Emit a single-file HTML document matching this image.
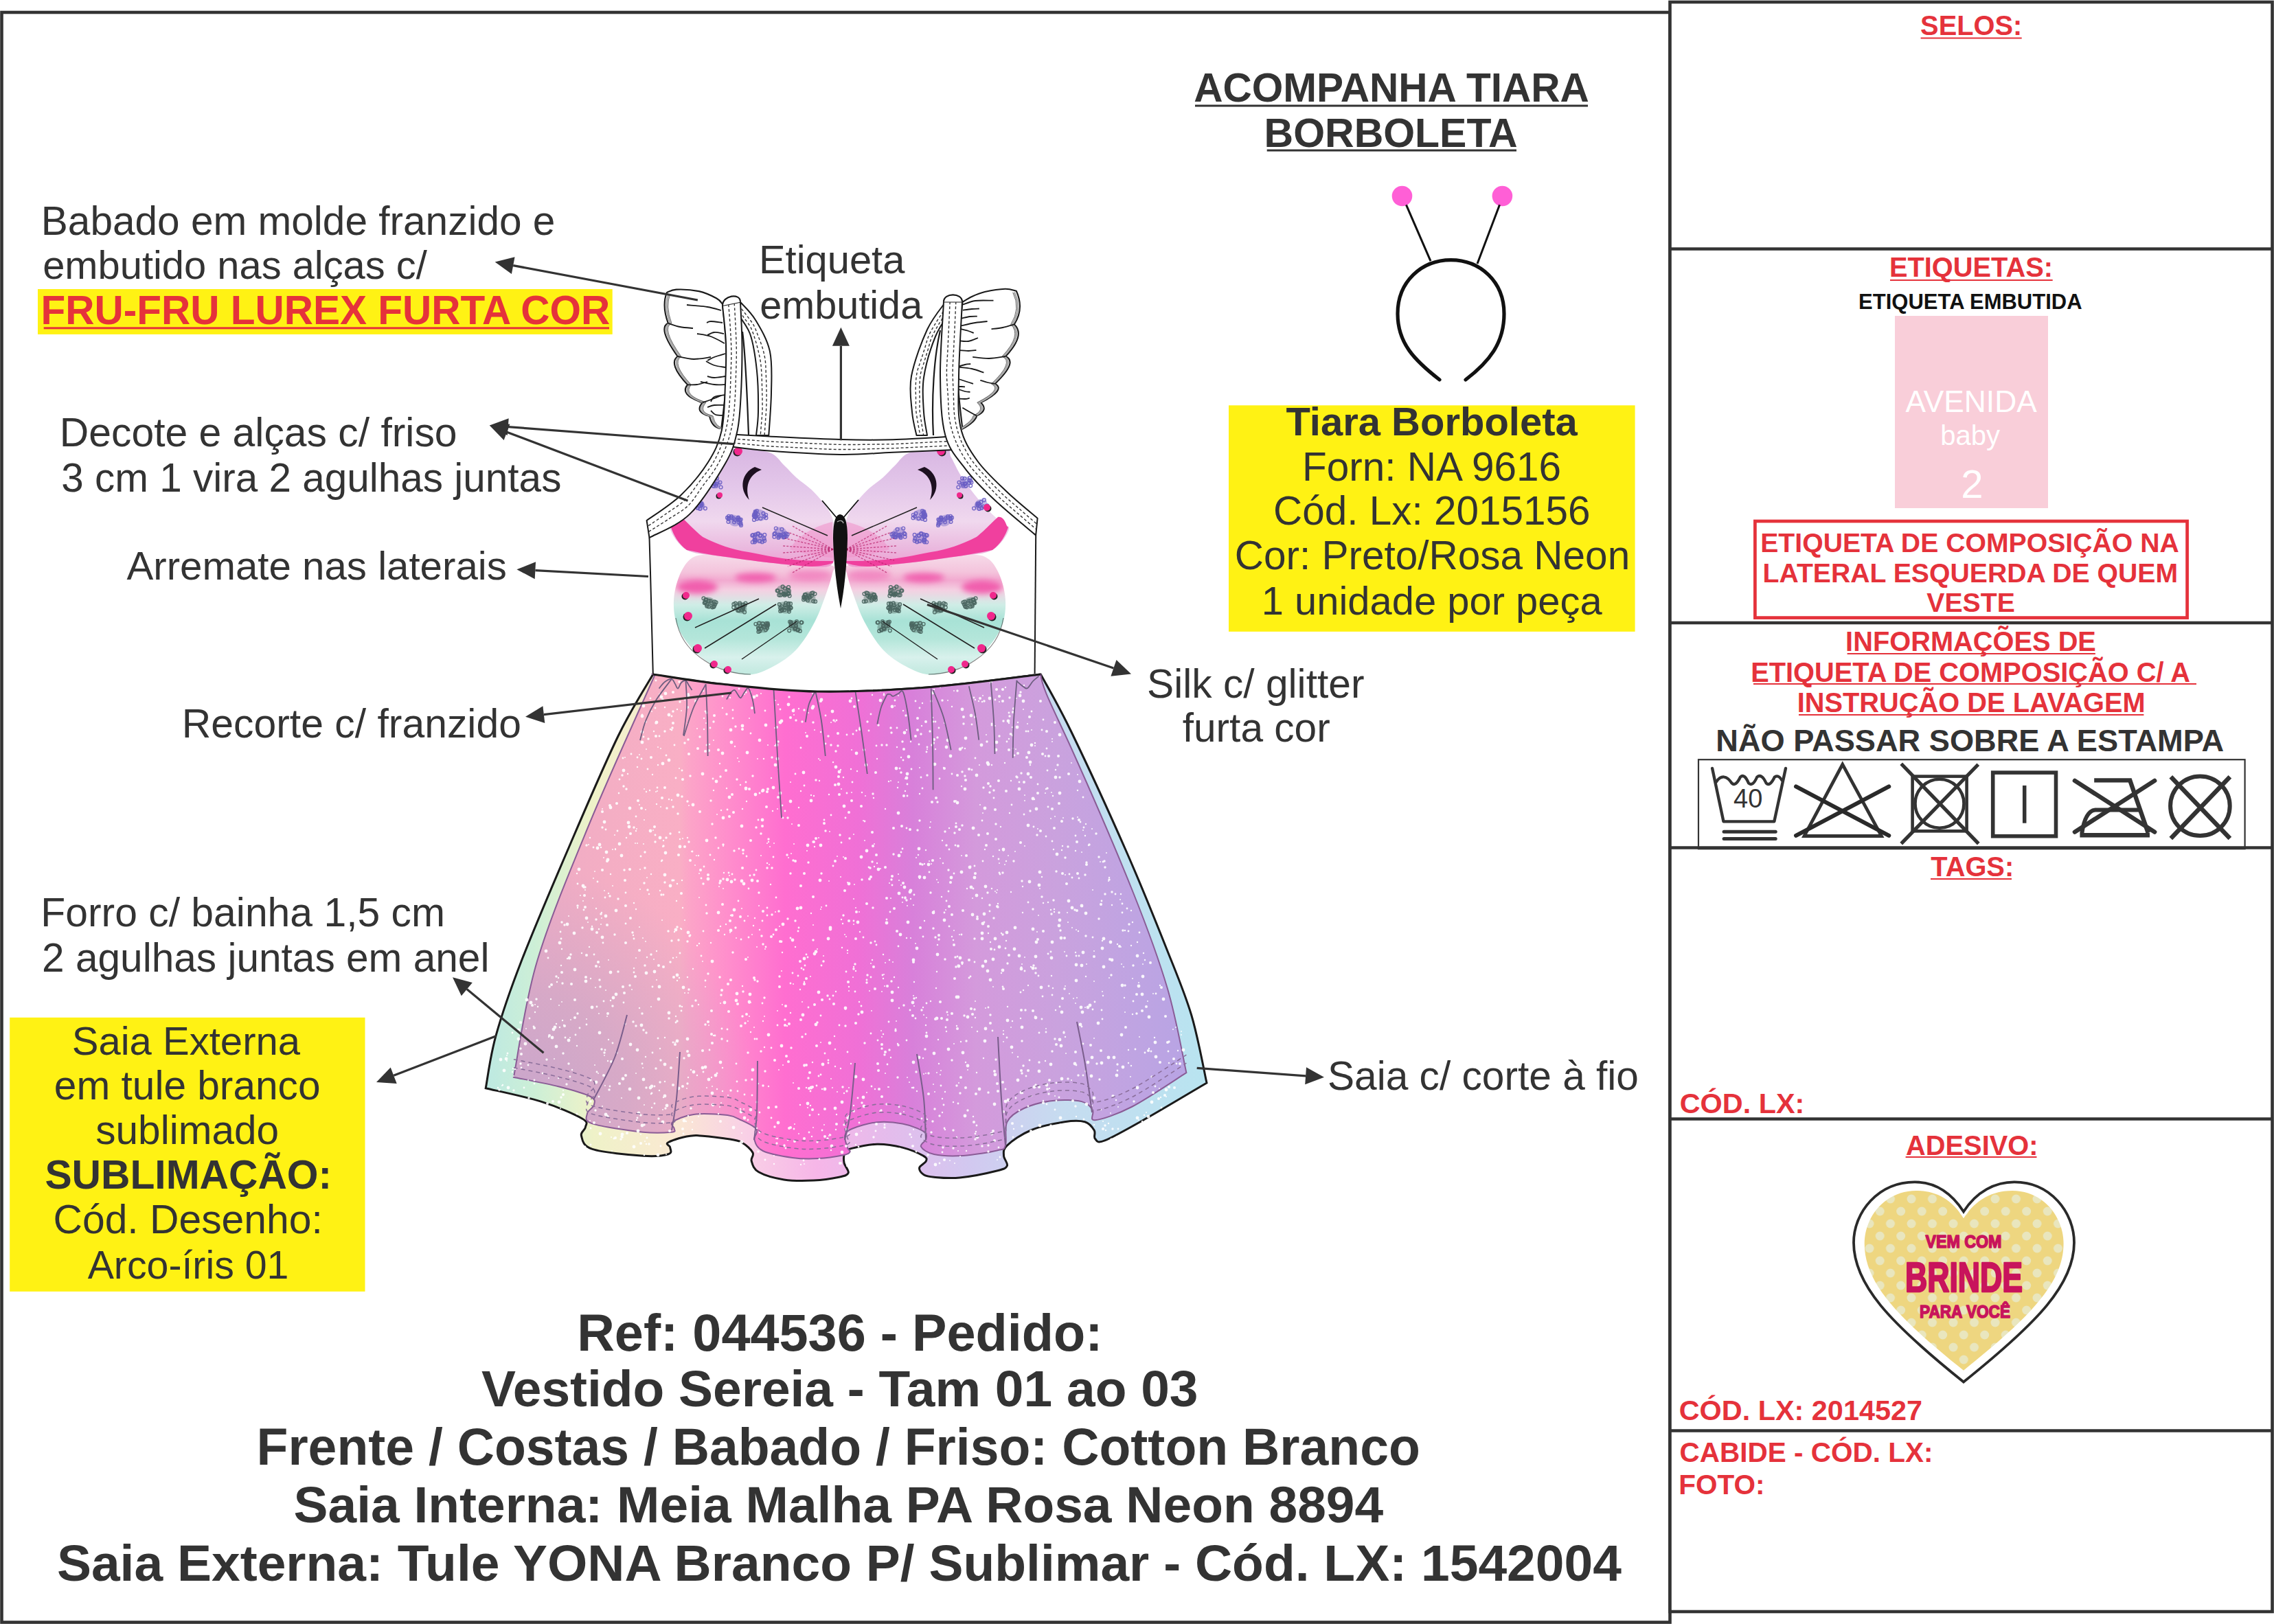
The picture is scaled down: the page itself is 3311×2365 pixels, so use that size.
<!DOCTYPE html>
<html><head><meta charset="utf-8"><style>
html,body{margin:0;padding:0;background:#fff;width:3311px;height:2365px;overflow:hidden;position:relative}
.t{position:absolute;white-space:nowrap;font-family:"Liberation Sans",sans-serif}
svg{position:absolute;left:0;top:0}
</style></head><body>
<svg width="3311" height="2365" viewBox="0 0 3311 2365">
<rect x="55" y="421" width="836.7" height="65.9" fill="#FFF214"/>
<rect x="14.2" y="1481.8" width="517.3" height="399" fill="#FFF214"/>
<rect x="1789" y="590.3" width="591.6" height="329.5" fill="#FFF214"/>
<defs>
<filter id="blur4" x="-50%" y="-50%" width="200%" height="200%"><feGaussianBlur stdDeviation="4"/></filter>
<linearGradient id="gOut" gradientUnits="userSpaceOnUse" x1="707" y1="0" x2="1757" y2="0">
<stop offset="0" stop-color="#BDE9E2"/><stop offset="0.07" stop-color="#CDEFD6"/><stop offset="0.15" stop-color="#EFF2C8"/>
<stop offset="0.26" stop-color="#FAE9D2"/><stop offset="0.36" stop-color="#F9D0E6"/><stop offset="0.46" stop-color="#F6B6E8"/>
<stop offset="0.56" stop-color="#E4BCEC"/><stop offset="0.67" stop-color="#D2C8F0"/><stop offset="0.80" stop-color="#C6DCF0"/>
<stop offset="1" stop-color="#B8E4F0"/></linearGradient>
<linearGradient id="gIn" gradientUnits="userSpaceOnUse" x1="748" y1="0" x2="1728" y2="0"><stop offset="0.000" stop-color="#EEA8C6"/><stop offset="0.069" stop-color="#F0ACC4"/><stop offset="0.141" stop-color="#F4AEC4"/><stop offset="0.246" stop-color="#F9AFC5"/><stop offset="0.262" stop-color="#FCA4C8"/><stop offset="0.318" stop-color="#FF8ECC"/><stop offset="0.403" stop-color="#FF6ED0"/><stop offset="0.512" stop-color="#F070D6"/><stop offset="0.593" stop-color="#D880DA"/><stop offset="0.686" stop-color="#D49ADC"/><stop offset="0.807" stop-color="#CAA2DE"/><stop offset="0.921" stop-color="#BFA4E2"/><stop offset="1.000" stop-color="#B8A4E4"/></linearGradient><radialGradient id="gMauve" gradientUnits="userSpaceOnUse" cx="760" cy="1600" r="340"><stop offset="0" stop-color="#C8A6CC" stop-opacity="0.95"/><stop offset="0.45" stop-color="#CEA8C8" stop-opacity="0.75"/><stop offset="1" stop-color="#D0A8C8" stop-opacity="0"/></radialGradient>
<linearGradient id="gUW" gradientUnits="userSpaceOnUse" x1="0" y1="652" x2="0" y2="825">
<stop offset="0" stop-color="#D8B6E2"/><stop offset="0.35" stop-color="#E4C8EA"/><stop offset="0.62" stop-color="#F0D8EE"/><stop offset="0.85" stop-color="#EAB8DE"/><stop offset="1" stop-color="#F09AD0"/></linearGradient>
<linearGradient id="gLW" gradientUnits="userSpaceOnUse" x1="0" y1="806" x2="0" y2="984"><stop offset="0" stop-color="#F6DCEA"/><stop offset="0.15" stop-color="#F4C4DC"/><stop offset="0.22" stop-color="#F2AAD0"/><stop offset="0.3" stop-color="#F4D0E2"/><stop offset="0.42" stop-color="#CFEDE6"/><stop offset="0.55" stop-color="#A8E2D6"/><stop offset="0.7" stop-color="#B4E6DA"/><stop offset="0.85" stop-color="#D8F1EC"/><stop offset="1" stop-color="#BFE8DE"/></linearGradient>
</defs>
<path d="M950.8,982.0 C967.3,984.3 1010.1,991.8 1050.0,996.0 C1089.9,1000.2 1140.0,1006.2 1190.0,1007.0 C1240.0,1007.8 1295.8,1005.2 1350.0,1001.0 C1404.2,996.8 1487.8,985.2 1515.3,982.0 C1522.8,996.0 1539.2,1023.0 1560.0,1066.0 C1580.8,1109.0 1617.0,1187.7 1640.0,1240.0 C1663.0,1292.3 1682.1,1340.2 1697.9,1380.0 C1713.7,1419.8 1725.0,1445.7 1734.8,1478.5 C1744.6,1511.3 1753.3,1560.6 1757.0,1577.0 C1743.0,1585.2 1697.9,1612.3 1673.3,1626.3 C1648.7,1640.2 1622.3,1655.4 1609.2,1660.7 C1596.1,1666.0 1597.2,1660.8 1594.5,1658.3 C1591.8,1655.8 1595.7,1650.1 1593.2,1646.0 C1590.7,1641.9 1586.9,1635.8 1579.7,1633.7 C1572.5,1631.7 1563.1,1631.7 1550.0,1633.7 C1536.9,1635.8 1514.8,1640.3 1500.9,1646.0 C1487.0,1651.7 1473.0,1661.9 1466.4,1668.1 C1459.8,1674.2 1461.5,1678.0 1461.5,1682.9 C1461.5,1687.8 1468.1,1694.0 1466.4,1697.7 C1464.8,1701.4 1463.1,1702.1 1451.6,1705.0 C1440.1,1707.9 1412.8,1713.5 1397.5,1715.0 C1382.2,1716.5 1368.8,1715.0 1360.0,1714.2 C1351.2,1713.5 1348.3,1712.8 1344.7,1710.5 C1341.1,1708.2 1338.0,1704.0 1338.6,1700.7 C1339.2,1697.4 1347.4,1693.7 1348.4,1690.8 C1349.4,1687.9 1350.4,1686.7 1344.7,1683.4 C1339.0,1680.1 1325.3,1674.0 1314.0,1671.1 C1302.7,1668.2 1289.3,1666.0 1277.0,1666.2 C1264.7,1666.4 1247.9,1670.4 1240.1,1672.4 C1232.3,1674.5 1232.0,1675.0 1230.2,1678.5 C1228.4,1682.0 1228.2,1688.4 1229.0,1693.3 C1229.8,1698.2 1236.4,1704.5 1235.2,1708.0 C1234.0,1711.5 1230.0,1712.4 1221.6,1714.2 C1213.2,1716.0 1198.0,1718.5 1184.7,1719.1 C1171.4,1719.7 1154.9,1720.0 1141.6,1717.9 C1128.2,1715.9 1112.5,1711.3 1104.6,1706.8 C1096.7,1702.3 1095.6,1695.5 1094.2,1690.8 C1092.8,1686.1 1098.4,1683.0 1096.0,1678.5 C1093.6,1674.0 1086.1,1667.0 1080.0,1663.7 C1073.9,1660.4 1071.1,1660.3 1059.4,1658.6 C1047.7,1656.9 1024.4,1652.9 1010.0,1653.7 C995.6,1654.5 978.9,1660.6 973.2,1663.5 C967.5,1666.4 975.7,1668.0 975.7,1670.9 C975.7,1673.8 979.8,1678.7 973.2,1680.7 C966.6,1682.8 954.8,1684.4 936.3,1683.2 C917.8,1682.0 877.4,1678.3 862.4,1673.4 C847.4,1668.5 848.0,1659.1 846.4,1653.7 C844.8,1648.3 852.3,1645.4 852.5,1641.3 C852.7,1637.2 858.3,1635.2 847.6,1629.0 C836.9,1622.8 811.9,1611.8 788.5,1604.4 C765.1,1597.0 720.8,1588.0 707.2,1584.7 C709.7,1572.0 713.4,1539.2 722.0,1508.4 C730.6,1477.6 741.0,1446.4 759.0,1400.0 C777.0,1353.6 806.5,1284.7 830.0,1230.0 C853.5,1175.3 879.9,1113.3 900.0,1072.0 C920.1,1030.7 942.3,997.0 950.8,982.0 Z" fill="url(#gOut)" stroke="#1a1a1a" stroke-width="3"/>
<clipPath id="clipIn"><path d="M950.8,982.0 C967.3,984.3 1010.1,991.8 1050.0,996.0 C1089.9,1000.2 1140.0,1006.2 1190.0,1007.0 C1240.0,1007.8 1295.8,1005.2 1350.0,1001.0 C1404.2,996.8 1487.8,985.2 1515.3,982.0 C1516.7,1001.7 1536.3,1037.3 1560.0,1090.0 C1583.7,1142.7 1626.7,1241.7 1650.0,1300.0 C1673.3,1358.3 1687.1,1396.3 1700.0,1440.0 C1712.9,1483.7 1722.8,1541.8 1727.4,1562.2 C1714.3,1570.4 1670.8,1600.0 1648.6,1611.5 C1626.4,1623.0 1604.1,1630.4 1594.5,1631.2 C1584.9,1632.0 1594.1,1620.9 1590.8,1616.4 C1587.5,1611.9 1584.4,1606.3 1574.8,1604.1 C1565.2,1601.8 1546.9,1601.2 1532.9,1602.9 C1518.9,1604.6 1502.1,1608.9 1491.0,1614.0 C1479.9,1619.1 1470.9,1624.7 1466.4,1633.7 C1461.9,1642.7 1466.5,1661.1 1464.0,1668.1 C1461.5,1675.1 1461.9,1673.0 1451.6,1675.5 C1441.3,1678.0 1417.7,1682.0 1402.4,1682.9 C1387.1,1683.8 1370.2,1683.2 1360.0,1681.0 C1349.8,1678.8 1342.9,1673.6 1341.0,1669.9 C1339.1,1666.2 1347.8,1662.5 1348.4,1658.8 C1349.0,1655.1 1350.4,1651.4 1344.7,1647.7 C1339.0,1644.0 1325.3,1638.8 1314.0,1636.6 C1302.7,1634.3 1289.3,1633.0 1277.0,1634.2 C1264.7,1635.4 1247.9,1640.7 1240.1,1644.0 C1232.3,1647.3 1231.2,1649.4 1230.2,1653.9 C1229.2,1658.4 1232.7,1667.2 1233.9,1671.1 C1235.1,1675.0 1238.6,1675.4 1237.6,1677.3 C1236.6,1679.2 1235.6,1680.6 1227.8,1682.2 C1220.0,1683.8 1203.1,1686.5 1190.8,1687.1 C1178.5,1687.7 1167.2,1687.8 1153.9,1685.9 C1140.6,1684.1 1120.0,1680.3 1110.8,1676.0 C1101.6,1671.7 1099.9,1664.7 1098.5,1660.0 C1097.1,1655.3 1102.2,1650.8 1102.2,1647.7 C1102.2,1644.6 1102.2,1644.3 1098.5,1641.6 C1094.8,1638.9 1086.5,1634.6 1080.0,1631.7 C1073.5,1628.8 1071.1,1625.6 1059.4,1624.1 C1047.7,1622.6 1023.3,1621.2 1010.0,1622.9 C996.7,1624.6 984.1,1630.5 979.4,1634.0 C974.7,1637.5 982.0,1641.3 981.8,1643.8 C981.6,1646.2 985.6,1647.9 978.0,1648.7 C970.4,1649.5 955.6,1650.8 936.3,1648.7 C917.0,1646.7 875.9,1640.9 862.4,1636.4 C848.9,1631.9 854.6,1626.1 855.0,1621.6 C855.4,1617.1 864.0,1613.4 864.8,1609.3 C865.6,1605.2 868.5,1601.5 859.9,1597.0 C851.3,1592.5 831.8,1586.9 813.1,1582.2 C794.4,1577.5 758.8,1571.0 747.9,1568.7 C753.6,1540.6 763.6,1461.5 782.0,1400.0 C800.4,1338.5 829.5,1269.3 858.0,1200.0 C886.5,1130.7 937.2,1020.0 953.0,984.0 Z"/></clipPath>
<path d="M950.8,982.0 C967.3,984.3 1010.1,991.8 1050.0,996.0 C1089.9,1000.2 1140.0,1006.2 1190.0,1007.0 C1240.0,1007.8 1295.8,1005.2 1350.0,1001.0 C1404.2,996.8 1487.8,985.2 1515.3,982.0 C1516.7,1001.7 1536.3,1037.3 1560.0,1090.0 C1583.7,1142.7 1626.7,1241.7 1650.0,1300.0 C1673.3,1358.3 1687.1,1396.3 1700.0,1440.0 C1712.9,1483.7 1722.8,1541.8 1727.4,1562.2 C1714.3,1570.4 1670.8,1600.0 1648.6,1611.5 C1626.4,1623.0 1604.1,1630.4 1594.5,1631.2 C1584.9,1632.0 1594.1,1620.9 1590.8,1616.4 C1587.5,1611.9 1584.4,1606.3 1574.8,1604.1 C1565.2,1601.8 1546.9,1601.2 1532.9,1602.9 C1518.9,1604.6 1502.1,1608.9 1491.0,1614.0 C1479.9,1619.1 1470.9,1624.7 1466.4,1633.7 C1461.9,1642.7 1466.5,1661.1 1464.0,1668.1 C1461.5,1675.1 1461.9,1673.0 1451.6,1675.5 C1441.3,1678.0 1417.7,1682.0 1402.4,1682.9 C1387.1,1683.8 1370.2,1683.2 1360.0,1681.0 C1349.8,1678.8 1342.9,1673.6 1341.0,1669.9 C1339.1,1666.2 1347.8,1662.5 1348.4,1658.8 C1349.0,1655.1 1350.4,1651.4 1344.7,1647.7 C1339.0,1644.0 1325.3,1638.8 1314.0,1636.6 C1302.7,1634.3 1289.3,1633.0 1277.0,1634.2 C1264.7,1635.4 1247.9,1640.7 1240.1,1644.0 C1232.3,1647.3 1231.2,1649.4 1230.2,1653.9 C1229.2,1658.4 1232.7,1667.2 1233.9,1671.1 C1235.1,1675.0 1238.6,1675.4 1237.6,1677.3 C1236.6,1679.2 1235.6,1680.6 1227.8,1682.2 C1220.0,1683.8 1203.1,1686.5 1190.8,1687.1 C1178.5,1687.7 1167.2,1687.8 1153.9,1685.9 C1140.6,1684.1 1120.0,1680.3 1110.8,1676.0 C1101.6,1671.7 1099.9,1664.7 1098.5,1660.0 C1097.1,1655.3 1102.2,1650.8 1102.2,1647.7 C1102.2,1644.6 1102.2,1644.3 1098.5,1641.6 C1094.8,1638.9 1086.5,1634.6 1080.0,1631.7 C1073.5,1628.8 1071.1,1625.6 1059.4,1624.1 C1047.7,1622.6 1023.3,1621.2 1010.0,1622.9 C996.7,1624.6 984.1,1630.5 979.4,1634.0 C974.7,1637.5 982.0,1641.3 981.8,1643.8 C981.6,1646.2 985.6,1647.9 978.0,1648.7 C970.4,1649.5 955.6,1650.8 936.3,1648.7 C917.0,1646.7 875.9,1640.9 862.4,1636.4 C848.9,1631.9 854.6,1626.1 855.0,1621.6 C855.4,1617.1 864.0,1613.4 864.8,1609.3 C865.6,1605.2 868.5,1601.5 859.9,1597.0 C851.3,1592.5 831.8,1586.9 813.1,1582.2 C794.4,1577.5 758.8,1571.0 747.9,1568.7 C753.6,1540.6 763.6,1461.5 782.0,1400.0 C800.4,1338.5 829.5,1269.3 858.0,1200.0 C886.5,1130.7 937.2,1020.0 953.0,984.0 Z" fill="url(#gIn)"/>
<path d="M950.8,982.0 C967.3,984.3 1010.1,991.8 1050.0,996.0 C1089.9,1000.2 1140.0,1006.2 1190.0,1007.0 C1240.0,1007.8 1295.8,1005.2 1350.0,1001.0 C1404.2,996.8 1487.8,985.2 1515.3,982.0 C1516.7,1001.7 1536.3,1037.3 1560.0,1090.0 C1583.7,1142.7 1626.7,1241.7 1650.0,1300.0 C1673.3,1358.3 1687.1,1396.3 1700.0,1440.0 C1712.9,1483.7 1722.8,1541.8 1727.4,1562.2 C1714.3,1570.4 1670.8,1600.0 1648.6,1611.5 C1626.4,1623.0 1604.1,1630.4 1594.5,1631.2 C1584.9,1632.0 1594.1,1620.9 1590.8,1616.4 C1587.5,1611.9 1584.4,1606.3 1574.8,1604.1 C1565.2,1601.8 1546.9,1601.2 1532.9,1602.9 C1518.9,1604.6 1502.1,1608.9 1491.0,1614.0 C1479.9,1619.1 1470.9,1624.7 1466.4,1633.7 C1461.9,1642.7 1466.5,1661.1 1464.0,1668.1 C1461.5,1675.1 1461.9,1673.0 1451.6,1675.5 C1441.3,1678.0 1417.7,1682.0 1402.4,1682.9 C1387.1,1683.8 1370.2,1683.2 1360.0,1681.0 C1349.8,1678.8 1342.9,1673.6 1341.0,1669.9 C1339.1,1666.2 1347.8,1662.5 1348.4,1658.8 C1349.0,1655.1 1350.4,1651.4 1344.7,1647.7 C1339.0,1644.0 1325.3,1638.8 1314.0,1636.6 C1302.7,1634.3 1289.3,1633.0 1277.0,1634.2 C1264.7,1635.4 1247.9,1640.7 1240.1,1644.0 C1232.3,1647.3 1231.2,1649.4 1230.2,1653.9 C1229.2,1658.4 1232.7,1667.2 1233.9,1671.1 C1235.1,1675.0 1238.6,1675.4 1237.6,1677.3 C1236.6,1679.2 1235.6,1680.6 1227.8,1682.2 C1220.0,1683.8 1203.1,1686.5 1190.8,1687.1 C1178.5,1687.7 1167.2,1687.8 1153.9,1685.9 C1140.6,1684.1 1120.0,1680.3 1110.8,1676.0 C1101.6,1671.7 1099.9,1664.7 1098.5,1660.0 C1097.1,1655.3 1102.2,1650.8 1102.2,1647.7 C1102.2,1644.6 1102.2,1644.3 1098.5,1641.6 C1094.8,1638.9 1086.5,1634.6 1080.0,1631.7 C1073.5,1628.8 1071.1,1625.6 1059.4,1624.1 C1047.7,1622.6 1023.3,1621.2 1010.0,1622.9 C996.7,1624.6 984.1,1630.5 979.4,1634.0 C974.7,1637.5 982.0,1641.3 981.8,1643.8 C981.6,1646.2 985.6,1647.9 978.0,1648.7 C970.4,1649.5 955.6,1650.8 936.3,1648.7 C917.0,1646.7 875.9,1640.9 862.4,1636.4 C848.9,1631.9 854.6,1626.1 855.0,1621.6 C855.4,1617.1 864.0,1613.4 864.8,1609.3 C865.6,1605.2 868.5,1601.5 859.9,1597.0 C851.3,1592.5 831.8,1586.9 813.1,1582.2 C794.4,1577.5 758.8,1571.0 747.9,1568.7 C753.6,1540.6 763.6,1461.5 782.0,1400.0 C800.4,1338.5 829.5,1269.3 858.0,1200.0 C886.5,1130.7 937.2,1020.0 953.0,984.0 Z" fill="url(#gMauve)"/>
<path d="M950.8,982.0 C967.3,984.3 1010.1,991.8 1050.0,996.0 C1089.9,1000.2 1140.0,1006.2 1190.0,1007.0 C1240.0,1007.8 1295.8,1005.2 1350.0,1001.0 C1404.2,996.8 1487.8,985.2 1515.3,982.0 C1516.7,1001.7 1536.3,1037.3 1560.0,1090.0 C1583.7,1142.7 1626.7,1241.7 1650.0,1300.0 C1673.3,1358.3 1687.1,1396.3 1700.0,1440.0 C1712.9,1483.7 1722.8,1541.8 1727.4,1562.2 C1714.3,1570.4 1670.8,1600.0 1648.6,1611.5 C1626.4,1623.0 1604.1,1630.4 1594.5,1631.2 C1584.9,1632.0 1594.1,1620.9 1590.8,1616.4 C1587.5,1611.9 1584.4,1606.3 1574.8,1604.1 C1565.2,1601.8 1546.9,1601.2 1532.9,1602.9 C1518.9,1604.6 1502.1,1608.9 1491.0,1614.0 C1479.9,1619.1 1470.9,1624.7 1466.4,1633.7 C1461.9,1642.7 1466.5,1661.1 1464.0,1668.1 C1461.5,1675.1 1461.9,1673.0 1451.6,1675.5 C1441.3,1678.0 1417.7,1682.0 1402.4,1682.9 C1387.1,1683.8 1370.2,1683.2 1360.0,1681.0 C1349.8,1678.8 1342.9,1673.6 1341.0,1669.9 C1339.1,1666.2 1347.8,1662.5 1348.4,1658.8 C1349.0,1655.1 1350.4,1651.4 1344.7,1647.7 C1339.0,1644.0 1325.3,1638.8 1314.0,1636.6 C1302.7,1634.3 1289.3,1633.0 1277.0,1634.2 C1264.7,1635.4 1247.9,1640.7 1240.1,1644.0 C1232.3,1647.3 1231.2,1649.4 1230.2,1653.9 C1229.2,1658.4 1232.7,1667.2 1233.9,1671.1 C1235.1,1675.0 1238.6,1675.4 1237.6,1677.3 C1236.6,1679.2 1235.6,1680.6 1227.8,1682.2 C1220.0,1683.8 1203.1,1686.5 1190.8,1687.1 C1178.5,1687.7 1167.2,1687.8 1153.9,1685.9 C1140.6,1684.1 1120.0,1680.3 1110.8,1676.0 C1101.6,1671.7 1099.9,1664.7 1098.5,1660.0 C1097.1,1655.3 1102.2,1650.8 1102.2,1647.7 C1102.2,1644.6 1102.2,1644.3 1098.5,1641.6 C1094.8,1638.9 1086.5,1634.6 1080.0,1631.7 C1073.5,1628.8 1071.1,1625.6 1059.4,1624.1 C1047.7,1622.6 1023.3,1621.2 1010.0,1622.9 C996.7,1624.6 984.1,1630.5 979.4,1634.0 C974.7,1637.5 982.0,1641.3 981.8,1643.8 C981.6,1646.2 985.6,1647.9 978.0,1648.7 C970.4,1649.5 955.6,1650.8 936.3,1648.7 C917.0,1646.7 875.9,1640.9 862.4,1636.4 C848.9,1631.9 854.6,1626.1 855.0,1621.6 C855.4,1617.1 864.0,1613.4 864.8,1609.3 C865.6,1605.2 868.5,1601.5 859.9,1597.0 C851.3,1592.5 831.8,1586.9 813.1,1582.2 C794.4,1577.5 758.8,1571.0 747.9,1568.7 C753.6,1540.6 763.6,1461.5 782.0,1400.0 C800.4,1338.5 829.5,1269.3 858.0,1200.0 C886.5,1130.7 937.2,1020.0 953.0,984.0 Z" fill="none" stroke="#8A5C96" stroke-width="2"/>
<g fill="#ffffff" opacity="0.9"><circle cx="1052" cy="1097" r="2.4"/><circle cx="769" cy="1573" r="1.0"/><circle cx="1095" cy="1031" r="2.0"/><circle cx="940" cy="1051" r="1.7"/><circle cx="1155" cy="1577" r="1.0"/><circle cx="1691" cy="1438" r="2.0"/><circle cx="1127" cy="1683" r="1.0"/><circle cx="1291" cy="1085" r="1.7"/><circle cx="1036" cy="1569" r="1.2"/><circle cx="826" cy="1396" r="1.2"/><circle cx="1102" cy="1379" r="1.0"/><circle cx="1298" cy="1429" r="1.7"/><circle cx="1417" cy="1294" r="1.4"/><circle cx="1197" cy="1646" r="1.4"/><circle cx="1027" cy="1554" r="2.4"/><circle cx="1519" cy="1048" r="1.4"/><circle cx="1258" cy="1611" r="2.4"/><circle cx="1180" cy="1422" r="1.0"/><circle cx="841" cy="1287" r="1.4"/><circle cx="876" cy="1337" r="1.0"/><circle cx="1292" cy="1550" r="1.4"/><circle cx="1069" cy="1239" r="1.7"/><circle cx="1314" cy="1314" r="1.0"/><circle cx="1401" cy="1033" r="2.4"/><circle cx="1037" cy="1400" r="2.4"/><circle cx="1562" cy="1192" r="1.7"/><circle cx="1346" cy="1341" r="1.2"/><circle cx="1507" cy="1082" r="1.2"/><circle cx="1128" cy="1641" r="1.7"/><circle cx="1283" cy="1617" r="1.7"/><circle cx="1146" cy="1245" r="1.7"/><circle cx="901" cy="1155" r="1.2"/><circle cx="732" cy="1580" r="1.2"/><circle cx="989" cy="993" r="1.7"/><circle cx="1268" cy="1423" r="1.4"/><circle cx="1697" cy="1480" r="2.0"/><circle cx="1694" cy="1455" r="2.4"/><circle cx="775" cy="1629" r="2.4"/><circle cx="1538" cy="1269" r="1.7"/><circle cx="1124" cy="1332" r="1.7"/><circle cx="934" cy="1105" r="1.4"/><circle cx="1336" cy="1063" r="2.0"/><circle cx="1093" cy="1008" r="1.2"/><circle cx="1349" cy="1095" r="1.4"/><circle cx="1206" cy="1072" r="1.7"/><circle cx="1216" cy="1051" r="1.0"/><circle cx="1488" cy="1516" r="1.7"/><circle cx="744" cy="1665" r="2.0"/><circle cx="1091" cy="1480" r="1.0"/><circle cx="1497" cy="1202" r="2.4"/><circle cx="1605" cy="1484" r="1.4"/><circle cx="1251" cy="1635" r="1.4"/><circle cx="1511" cy="1368" r="2.0"/><circle cx="1058" cy="1148" r="1.2"/><circle cx="1546" cy="1571" r="2.4"/><circle cx="1543" cy="1132" r="1.7"/><circle cx="1084" cy="1011" r="1.0"/><circle cx="1530" cy="1325" r="1.2"/><circle cx="1430" cy="1669" r="1.7"/><circle cx="1549" cy="1503" r="1.4"/><circle cx="946" cy="1151" r="1.2"/><circle cx="1066" cy="1333" r="2.0"/><circle cx="1581" cy="1330" r="2.4"/><circle cx="1073" cy="1447" r="2.4"/><circle cx="843" cy="1266" r="2.4"/><circle cx="1489" cy="1329" r="1.2"/><circle cx="1165" cy="1441" r="1.0"/><circle cx="1541" cy="1680" r="1.7"/><circle cx="1195" cy="1518" r="1.0"/><circle cx="1463" cy="1111" r="1.2"/><circle cx="1197" cy="1456" r="2.0"/><circle cx="1567" cy="1686" r="2.4"/><circle cx="1282" cy="1005" r="2.4"/><circle cx="1386" cy="1364" r="1.2"/><circle cx="1165" cy="1609" r="1.2"/><circle cx="1234" cy="1532" r="1.4"/><circle cx="986" cy="1287" r="1.2"/><circle cx="782" cy="1515" r="1.7"/><circle cx="1399" cy="1569" r="2.0"/><circle cx="1151" cy="1642" r="2.0"/><circle cx="1243" cy="1610" r="1.2"/><circle cx="1344" cy="1541" r="1.2"/><circle cx="897" cy="1326" r="2.4"/><circle cx="1419" cy="1367" r="1.7"/><circle cx="1524" cy="1065" r="2.0"/><circle cx="1183" cy="1010" r="1.0"/><circle cx="1174" cy="1425" r="2.0"/><circle cx="1341" cy="1132" r="1.4"/><circle cx="1184" cy="1369" r="1.7"/><circle cx="1240" cy="1166" r="2.0"/><circle cx="1618" cy="1659" r="1.4"/><circle cx="1666" cy="1624" r="1.2"/><circle cx="845" cy="1304" r="1.0"/><circle cx="1408" cy="1294" r="1.2"/><circle cx="1406" cy="1547" r="1.2"/><circle cx="1683" cy="1447" r="1.4"/><circle cx="867" cy="1617" r="1.7"/><circle cx="945" cy="1666" r="1.7"/><circle cx="1405" cy="1149" r="2.4"/><circle cx="1162" cy="1356" r="1.4"/><circle cx="1152" cy="1243" r="1.0"/><circle cx="1460" cy="1004" r="2.0"/><circle cx="1190" cy="1489" r="1.7"/><circle cx="1060" cy="1433" r="2.0"/><circle cx="999" cy="1633" r="1.2"/><circle cx="997" cy="1082" r="1.7"/><circle cx="1591" cy="1470" r="1.4"/><circle cx="1136" cy="1371" r="2.0"/><circle cx="1305" cy="1487" r="1.0"/><circle cx="1006" cy="1558" r="1.2"/><circle cx="1156" cy="1041" r="1.0"/><circle cx="1370" cy="1559" r="1.0"/><circle cx="1343" cy="1148" r="1.4"/><circle cx="1604" cy="1312" r="1.4"/><circle cx="1658" cy="1431" r="1.0"/><circle cx="1260" cy="1159" r="1.0"/><circle cx="906" cy="1652" r="2.4"/><circle cx="1033" cy="1529" r="1.4"/><circle cx="1177" cy="1467" r="1.4"/><circle cx="1076" cy="1003" r="1.4"/><circle cx="1238" cy="1684" r="2.0"/><circle cx="1207" cy="1654" r="1.0"/><circle cx="1395" cy="1452" r="2.4"/><circle cx="1227" cy="1583" r="1.7"/><circle cx="941" cy="1153" r="1.2"/><circle cx="1573" cy="1492" r="2.4"/><circle cx="863" cy="1693" r="1.0"/><circle cx="1361" cy="1615" r="1.7"/><circle cx="1582" cy="1608" r="2.4"/><circle cx="1430" cy="1022" r="1.2"/><circle cx="881" cy="1307" r="1.4"/><circle cx="1093" cy="1224" r="2.0"/><circle cx="1052" cy="1014" r="1.4"/><circle cx="943" cy="1120" r="1.4"/><circle cx="1111" cy="1327" r="2.0"/><circle cx="1392" cy="1166" r="1.0"/><circle cx="813" cy="1570" r="1.2"/><circle cx="1129" cy="1020" r="1.0"/><circle cx="1027" cy="1437" r="1.0"/><circle cx="1320" cy="1366" r="1.2"/><circle cx="1394" cy="1498" r="2.0"/><circle cx="1119" cy="1222" r="1.7"/><circle cx="873" cy="1504" r="2.4"/><circle cx="868" cy="1576" r="2.4"/><circle cx="1634" cy="1435" r="2.4"/><circle cx="1439" cy="1349" r="2.0"/><circle cx="1492" cy="1394" r="1.0"/><circle cx="1567" cy="1405" r="2.4"/><circle cx="1420" cy="1482" r="1.2"/><circle cx="1373" cy="1671" r="1.7"/><circle cx="1577" cy="1387" r="2.4"/><circle cx="971" cy="1177" r="1.7"/><circle cx="1538" cy="1521" r="2.0"/><circle cx="1259" cy="1519" r="1.7"/><circle cx="978" cy="1043" r="1.4"/><circle cx="961" cy="1527" r="1.2"/><circle cx="1478" cy="1683" r="1.7"/><circle cx="923" cy="1416" r="1.4"/><circle cx="980" cy="1518" r="1.4"/><circle cx="1357" cy="1085" r="1.7"/><circle cx="1409" cy="1481" r="2.4"/><circle cx="1222" cy="1493" r="1.4"/><circle cx="1196" cy="1321" r="1.0"/><circle cx="1039" cy="1051" r="1.7"/><circle cx="1560" cy="1677" r="1.7"/><circle cx="1659" cy="1651" r="1.0"/><circle cx="1316" cy="1091" r="2.0"/><circle cx="988" cy="1245" r="2.0"/><circle cx="1561" cy="1351" r="1.0"/><circle cx="1441" cy="1154" r="1.7"/><circle cx="1124" cy="1103" r="1.7"/><circle cx="1419" cy="1278" r="2.4"/><circle cx="864" cy="1234" r="1.4"/><circle cx="1053" cy="1230" r="1.7"/><circle cx="843" cy="1648" r="2.4"/><circle cx="980" cy="1036" r="1.7"/><circle cx="1090" cy="1294" r="1.4"/><circle cx="773" cy="1460" r="2.4"/><circle cx="992" cy="1353" r="1.2"/><circle cx="1513" cy="1547" r="1.7"/><circle cx="1626" cy="1566" r="2.4"/><circle cx="1130" cy="1612" r="2.0"/><circle cx="1283" cy="1501" r="1.0"/><circle cx="1350" cy="1088" r="1.4"/><circle cx="1218" cy="1637" r="2.0"/><circle cx="850" cy="1325" r="1.4"/><circle cx="1009" cy="1172" r="2.4"/><circle cx="1392" cy="1204" r="2.0"/><circle cx="1406" cy="1075" r="2.4"/><circle cx="1649" cy="1343" r="1.2"/><circle cx="1184" cy="1226" r="1.7"/><circle cx="1158" cy="1379" r="1.2"/><circle cx="985" cy="1394" r="1.0"/><circle cx="1488" cy="1283" r="1.7"/><circle cx="1484" cy="1139" r="1.4"/><circle cx="1067" cy="1034" r="1.4"/><circle cx="1309" cy="1246" r="2.4"/><circle cx="1236" cy="1437" r="1.2"/><circle cx="815" cy="1627" r="1.7"/><circle cx="1130" cy="1307" r="1.4"/><circle cx="1590" cy="1610" r="1.0"/><circle cx="850" cy="1292" r="1.7"/><circle cx="795" cy="1650" r="2.0"/><circle cx="1597" cy="1680" r="1.2"/><circle cx="1523" cy="1149" r="1.2"/><circle cx="1255" cy="1474" r="2.4"/><circle cx="1439" cy="1591" r="1.7"/><circle cx="807" cy="1542" r="1.0"/><circle cx="1522" cy="1155" r="1.0"/><circle cx="1382" cy="1206" r="1.2"/><circle cx="1362" cy="1365" r="1.7"/><circle cx="1436" cy="1070" r="1.0"/><circle cx="1028" cy="1660" r="1.2"/><circle cx="1118" cy="1149" r="2.0"/><circle cx="1044" cy="1586" r="1.2"/><circle cx="1207" cy="1157" r="1.2"/><circle cx="1386" cy="1029" r="1.2"/><circle cx="1231" cy="1469" r="1.7"/><circle cx="1155" cy="1253" r="1.7"/><circle cx="1151" cy="1475" r="1.2"/><circle cx="1228" cy="1132" r="1.2"/><circle cx="957" cy="1147" r="1.4"/><circle cx="832" cy="1433" r="2.0"/><circle cx="912" cy="1149" r="1.7"/><circle cx="1330" cy="1645" r="1.0"/><circle cx="938" cy="1682" r="1.2"/><circle cx="1146" cy="1494" r="1.2"/><circle cx="1123" cy="1628" r="1.4"/><circle cx="1471" cy="1698" r="1.2"/><circle cx="1057" cy="1122" r="2.0"/><circle cx="1485" cy="1013" r="2.4"/><circle cx="1464" cy="1586" r="1.4"/><circle cx="1173" cy="1067" r="1.0"/><circle cx="1007" cy="1240" r="1.0"/><circle cx="1295" cy="1529" r="1.7"/><circle cx="1086" cy="1573" r="1.7"/><circle cx="810" cy="1491" r="1.2"/><circle cx="1102" cy="1643" r="1.2"/><circle cx="1051" cy="1513" r="1.7"/><circle cx="1552" cy="1534" r="1.0"/><circle cx="1105" cy="1319" r="1.0"/><circle cx="983" cy="1521" r="2.0"/><circle cx="1068" cy="1183" r="2.0"/><circle cx="765" cy="1520" r="2.4"/><circle cx="1044" cy="1186" r="1.0"/><circle cx="1460" cy="1413" r="2.4"/><circle cx="1453" cy="1321" r="1.7"/><circle cx="1530" cy="1639" r="1.7"/><circle cx="856" cy="1343" r="1.0"/><circle cx="1543" cy="1514" r="2.4"/><circle cx="1512" cy="1421" r="1.4"/><circle cx="1603" cy="1317" r="2.0"/><circle cx="1492" cy="1166" r="1.0"/><circle cx="1386" cy="1332" r="2.0"/><circle cx="1054" cy="1686" r="1.0"/><circle cx="1231" cy="1494" r="1.7"/><circle cx="1192" cy="1623" r="1.2"/><circle cx="1487" cy="1591" r="2.4"/><circle cx="1499" cy="1544" r="1.4"/><circle cx="1021" cy="1392" r="1.4"/><circle cx="980" cy="1175" r="1.7"/><circle cx="974" cy="1164" r="1.2"/><circle cx="1008" cy="1634" r="1.2"/><circle cx="1054" cy="1271" r="1.2"/><circle cx="1240" cy="1154" r="1.0"/><circle cx="1390" cy="1694" r="1.0"/><circle cx="725" cy="1617" r="1.2"/><circle cx="1582" cy="1639" r="1.0"/><circle cx="1569" cy="1128" r="1.0"/><circle cx="1102" cy="1605" r="1.7"/><circle cx="1338" cy="1540" r="2.4"/><circle cx="1331" cy="1430" r="1.2"/><circle cx="765" cy="1700" r="1.0"/><circle cx="1334" cy="1453" r="1.2"/><circle cx="1555" cy="1571" r="1.7"/><circle cx="1415" cy="1121" r="1.4"/><circle cx="1228" cy="1333" r="1.7"/><circle cx="1284" cy="1444" r="1.0"/><circle cx="1389" cy="1272" r="1.4"/><circle cx="1140" cy="1191" r="1.4"/><circle cx="1148" cy="1026" r="2.4"/><circle cx="1301" cy="1244" r="1.7"/><circle cx="739" cy="1534" r="1.4"/><circle cx="1381" cy="1267" r="1.7"/><circle cx="1561" cy="1278" r="1.4"/><circle cx="1192" cy="1105" r="1.0"/><circle cx="1547" cy="1272" r="2.0"/><circle cx="1358" cy="1253" r="2.0"/><circle cx="896" cy="1237" r="1.2"/><circle cx="1254" cy="1647" r="1.0"/><circle cx="1113" cy="1525" r="1.2"/><circle cx="1029" cy="1584" r="1.0"/><circle cx="775" cy="1648" r="1.7"/><circle cx="808" cy="1496" r="2.4"/><circle cx="1525" cy="1148" r="1.7"/><circle cx="1350" cy="1129" r="1.7"/><circle cx="908" cy="1145" r="1.7"/><circle cx="1088" cy="1096" r="2.4"/><circle cx="1556" cy="1127" r="2.0"/><circle cx="1584" cy="1467" r="2.4"/><circle cx="1335" cy="1381" r="2.4"/><circle cx="1518" cy="1451" r="1.4"/><circle cx="1317" cy="1292" r="2.4"/><circle cx="1097" cy="1348" r="1.2"/><circle cx="1222" cy="1157" r="2.0"/><circle cx="1519" cy="1315" r="1.2"/><circle cx="1551" cy="1274" r="1.0"/><circle cx="852" cy="1296" r="1.0"/><circle cx="1542" cy="1348" r="2.4"/><circle cx="804" cy="1511" r="2.4"/><circle cx="1244" cy="1029" r="2.0"/><circle cx="1637" cy="1453" r="1.2"/><circle cx="1349" cy="1482" r="1.0"/><circle cx="919" cy="1687" r="1.7"/><circle cx="1015" cy="1566" r="1.2"/><circle cx="1423" cy="1502" r="1.2"/><circle cx="1495" cy="1103" r="2.0"/><circle cx="1002" cy="1569" r="1.2"/><circle cx="981" cy="1675" r="1.7"/><circle cx="934" cy="1177" r="2.0"/><circle cx="963" cy="1254" r="1.2"/><circle cx="907" cy="1104" r="1.4"/><circle cx="1417" cy="1626" r="1.2"/><circle cx="1532" cy="1178" r="2.0"/><circle cx="770" cy="1599" r="1.7"/><circle cx="1289" cy="1402" r="1.0"/><circle cx="978" cy="1370" r="1.7"/><circle cx="1476" cy="1254" r="1.7"/><circle cx="1089" cy="1533" r="1.7"/><circle cx="956" cy="1427" r="1.0"/><circle cx="1024" cy="1356" r="1.4"/><circle cx="1375" cy="1689" r="2.0"/><circle cx="1672" cy="1626" r="2.4"/><circle cx="873" cy="1427" r="1.7"/><circle cx="1148" cy="1249" r="1.0"/><circle cx="1389" cy="1006" r="1.0"/><circle cx="1301" cy="1206" r="2.0"/><circle cx="1086" cy="1149" r="2.0"/><circle cx="1029" cy="1085" r="1.4"/><circle cx="1360" cy="1327" r="1.2"/><circle cx="734" cy="1559" r="2.4"/><circle cx="1374" cy="1609" r="1.4"/><circle cx="1132" cy="1178" r="1.0"/><circle cx="778" cy="1573" r="1.4"/><circle cx="1330" cy="1401" r="2.0"/><circle cx="1681" cy="1511" r="1.2"/><circle cx="910" cy="1103" r="1.0"/><circle cx="925" cy="1422" r="2.0"/><circle cx="1384" cy="1285" r="2.0"/><circle cx="899" cy="1210" r="1.4"/><circle cx="1362" cy="1696" r="2.4"/><circle cx="1523" cy="1498" r="1.0"/><circle cx="1105" cy="1300" r="1.7"/><circle cx="802" cy="1455" r="1.2"/><circle cx="952" cy="1065" r="1.2"/><circle cx="1380" cy="1078" r="2.4"/><circle cx="1668" cy="1659" r="1.4"/><circle cx="1449" cy="1179" r="2.0"/><circle cx="1416" cy="1477" r="2.0"/><circle cx="1672" cy="1625" r="1.0"/><circle cx="987" cy="1158" r="2.4"/><circle cx="928" cy="1103" r="1.4"/><circle cx="917" cy="1266" r="2.0"/><circle cx="965" cy="1634" r="2.4"/><circle cx="1665" cy="1687" r="2.0"/><circle cx="1201" cy="1586" r="2.4"/><circle cx="1627" cy="1550" r="1.7"/><circle cx="1358" cy="1045" r="1.2"/><circle cx="829" cy="1650" r="1.4"/><circle cx="1380" cy="1020" r="1.0"/><circle cx="1475" cy="1037" r="2.0"/><circle cx="1501" cy="1132" r="2.0"/><circle cx="1609" cy="1639" r="1.7"/><circle cx="1589" cy="1567" r="2.4"/><circle cx="810" cy="1524" r="2.4"/><circle cx="1015" cy="1061" r="1.0"/><circle cx="1532" cy="1449" r="1.4"/><circle cx="1047" cy="1291" r="1.0"/><circle cx="1080" cy="1650" r="1.0"/><circle cx="1454" cy="1251" r="1.4"/><circle cx="1508" cy="1417" r="1.7"/><circle cx="1593" cy="1429" r="1.0"/><circle cx="1252" cy="1060" r="1.7"/><circle cx="1442" cy="1372" r="1.2"/><circle cx="1452" cy="1578" r="2.0"/><circle cx="1560" cy="1111" r="1.0"/><circle cx="1257" cy="1195" r="1.0"/><circle cx="1224" cy="1556" r="1.2"/><circle cx="1312" cy="1103" r="1.2"/><circle cx="890" cy="1656" r="1.0"/><circle cx="1223" cy="1694" r="2.0"/><circle cx="1527" cy="1436" r="1.4"/><circle cx="818" cy="1649" r="2.4"/><circle cx="808" cy="1621" r="1.0"/><circle cx="1101" cy="1205" r="1.7"/><circle cx="1644" cy="1346" r="1.7"/><circle cx="1329" cy="1479" r="2.0"/><circle cx="1382" cy="1237" r="1.4"/><circle cx="1255" cy="1606" r="1.7"/><circle cx="1399" cy="1517" r="1.2"/><circle cx="1195" cy="1479" r="1.4"/><circle cx="1314" cy="1080" r="1.7"/><circle cx="1379" cy="1485" r="2.0"/><circle cx="916" cy="1204" r="2.4"/><circle cx="1567" cy="1428" r="2.4"/><circle cx="1055" cy="1361" r="1.2"/><circle cx="962" cy="1669" r="1.4"/><circle cx="1720" cy="1507" r="1.0"/><circle cx="889" cy="1457" r="1.2"/><circle cx="1114" cy="1689" r="1.4"/><circle cx="1472" cy="1299" r="1.2"/><circle cx="832" cy="1637" r="1.4"/><circle cx="932" cy="1266" r="1.0"/><circle cx="733" cy="1597" r="1.7"/><circle cx="1431" cy="1345" r="2.4"/><circle cx="1024" cy="1006" r="1.4"/><circle cx="1339" cy="1277" r="2.4"/><circle cx="968" cy="1596" r="2.4"/><circle cx="1308" cy="1522" r="1.7"/><circle cx="1587" cy="1464" r="2.4"/><circle cx="1622" cy="1540" r="2.4"/><circle cx="1318" cy="1152" r="1.2"/><circle cx="1378" cy="1312" r="1.4"/><circle cx="986" cy="1487" r="1.7"/><circle cx="968" cy="1274" r="2.4"/><circle cx="1365" cy="1168" r="1.7"/><circle cx="1215" cy="1004" r="1.7"/><circle cx="1251" cy="1459" r="1.2"/><circle cx="731" cy="1581" r="1.0"/><circle cx="885" cy="1545" r="1.2"/><circle cx="1252" cy="1062" r="2.0"/><circle cx="1188" cy="1136" r="1.7"/><circle cx="1245" cy="1444" r="1.4"/><circle cx="1255" cy="1281" r="1.7"/><circle cx="935" cy="1476" r="1.7"/><circle cx="1247" cy="1652" r="2.4"/><circle cx="1130" cy="999" r="1.7"/><circle cx="1658" cy="1436" r="2.4"/><circle cx="1081" cy="1178" r="1.2"/><circle cx="1031" cy="1274" r="2.0"/><circle cx="1716" cy="1696" r="1.7"/><circle cx="1194" cy="1107" r="1.0"/><circle cx="1550" cy="1440" r="1.7"/><circle cx="1378" cy="1502" r="1.2"/><circle cx="1082" cy="1444" r="1.7"/><circle cx="1200" cy="1199" r="2.0"/><circle cx="1386" cy="1544" r="1.7"/><circle cx="1084" cy="1594" r="1.4"/><circle cx="1442" cy="1478" r="1.7"/><circle cx="1416" cy="1332" r="2.4"/><circle cx="1539" cy="1244" r="2.4"/><circle cx="1029" cy="1330" r="1.7"/><circle cx="1359" cy="1051" r="1.4"/><circle cx="877" cy="1205" r="1.7"/><circle cx="778" cy="1578" r="1.4"/><circle cx="1524" cy="1090" r="1.4"/><circle cx="1369" cy="1001" r="1.0"/><circle cx="935" cy="1041" r="1.4"/><circle cx="976" cy="1062" r="1.2"/><circle cx="1183" cy="1547" r="1.2"/><circle cx="1647" cy="1552" r="1.2"/><circle cx="1345" cy="1478" r="1.0"/><circle cx="1405" cy="1625" r="2.4"/><circle cx="1430" cy="1367" r="2.4"/><circle cx="1580" cy="1467" r="1.0"/><circle cx="1289" cy="1178" r="1.2"/><circle cx="1568" cy="1326" r="2.0"/><circle cx="868" cy="1339" r="1.7"/><circle cx="889" cy="1416" r="2.4"/><circle cx="727" cy="1587" r="1.7"/><circle cx="1433" cy="1343" r="1.4"/><circle cx="1582" cy="1256" r="1.7"/><circle cx="905" cy="1246" r="2.4"/><circle cx="1420" cy="1651" r="1.4"/><circle cx="1216" cy="1528" r="1.2"/><circle cx="755" cy="1500" r="2.4"/><circle cx="1395" cy="1232" r="2.0"/><circle cx="1288" cy="1638" r="1.4"/><circle cx="1166" cy="1290" r="2.0"/><circle cx="1084" cy="1341" r="1.4"/><circle cx="1236" cy="1183" r="2.0"/><circle cx="1073" cy="1135" r="1.7"/><circle cx="1532" cy="1225" r="1.4"/><circle cx="1451" cy="1081" r="2.4"/><circle cx="810" cy="1698" r="1.7"/><circle cx="1461" cy="1619" r="2.0"/><circle cx="1308" cy="1273" r="1.0"/><circle cx="1664" cy="1422" r="2.4"/><circle cx="1277" cy="1257" r="1.2"/><circle cx="1362" cy="1484" r="2.0"/><circle cx="1361" cy="1113" r="2.4"/><circle cx="1514" cy="1639" r="2.4"/><circle cx="734" cy="1609" r="1.2"/><circle cx="1526" cy="1389" r="1.4"/><circle cx="1300" cy="1401" r="1.0"/><circle cx="1230" cy="1361" r="1.0"/><circle cx="1513" cy="1289" r="2.4"/><circle cx="1327" cy="1656" r="1.2"/><circle cx="1207" cy="1283" r="1.0"/><circle cx="1638" cy="1435" r="1.7"/><circle cx="845" cy="1676" r="1.0"/><circle cx="944" cy="1076" r="1.7"/><circle cx="968" cy="1511" r="1.2"/><circle cx="1486" cy="1483" r="1.2"/><circle cx="1468" cy="1050" r="2.4"/><circle cx="1291" cy="1344" r="2.4"/><circle cx="1708" cy="1499" r="1.0"/><circle cx="782" cy="1617" r="2.4"/><circle cx="1039" cy="1508" r="1.2"/><circle cx="1702" cy="1583" r="2.0"/><circle cx="1309" cy="1301" r="2.4"/><circle cx="891" cy="1676" r="1.0"/><circle cx="1092" cy="1448" r="2.4"/><circle cx="1542" cy="1329" r="1.7"/><circle cx="1689" cy="1547" r="2.0"/><circle cx="1062" cy="1189" r="2.0"/><circle cx="1568" cy="1226" r="2.0"/><circle cx="1464" cy="1001" r="1.2"/><circle cx="1336" cy="1209" r="1.7"/><circle cx="1117" cy="1257" r="1.2"/><circle cx="1548" cy="1191" r="1.0"/><circle cx="1050" cy="1180" r="1.2"/><circle cx="1321" cy="1569" r="1.0"/><circle cx="1016" cy="1090" r="2.0"/><circle cx="871" cy="1683" r="2.0"/><circle cx="1422" cy="1639" r="1.4"/><circle cx="1268" cy="1373" r="1.7"/><circle cx="1537" cy="1132" r="2.4"/><circle cx="1342" cy="1471" r="1.7"/><circle cx="1446" cy="1647" r="2.0"/><circle cx="1490" cy="1552" r="1.7"/><circle cx="1274" cy="1371" r="1.4"/><circle cx="1511" cy="1155" r="2.0"/><circle cx="1254" cy="1174" r="2.0"/><circle cx="1049" cy="1349" r="1.2"/><circle cx="914" cy="1127" r="1.2"/><circle cx="1546" cy="1196" r="2.0"/><circle cx="1299" cy="1276" r="2.0"/><circle cx="1608" cy="1254" r="1.7"/><circle cx="1527" cy="1101" r="2.0"/><circle cx="1342" cy="1057" r="1.2"/><circle cx="1735" cy="1605" r="1.7"/><circle cx="1321" cy="1142" r="1.4"/><circle cx="1157" cy="1662" r="2.0"/><circle cx="1559" cy="1674" r="1.4"/><circle cx="1585" cy="1231" r="1.2"/><circle cx="1108" cy="1010" r="1.0"/><circle cx="1291" cy="1608" r="1.7"/><circle cx="1219" cy="1590" r="1.0"/><circle cx="1605" cy="1444" r="1.0"/><circle cx="1444" cy="1054" r="1.4"/><circle cx="1299" cy="1445" r="2.4"/><circle cx="1239" cy="1120" r="1.2"/><circle cx="1100" cy="1157" r="2.4"/><circle cx="947" cy="1017" r="1.4"/><circle cx="1287" cy="1010" r="1.0"/><circle cx="984" cy="1354" r="2.4"/><circle cx="1383" cy="1690" r="1.0"/><circle cx="1487" cy="1409" r="1.7"/><circle cx="1497" cy="1065" r="1.4"/><circle cx="1101" cy="1267" r="1.4"/><circle cx="1213" cy="1110" r="1.2"/><circle cx="1548" cy="1639" r="1.0"/><circle cx="1200" cy="1638" r="1.0"/><circle cx="881" cy="1581" r="1.0"/><circle cx="1677" cy="1605" r="2.4"/><circle cx="863" cy="1308" r="1.0"/><circle cx="960" cy="1072" r="1.4"/><circle cx="778" cy="1497" r="2.0"/><circle cx="1632" cy="1302" r="1.2"/><circle cx="993" cy="1282" r="1.2"/><circle cx="1024" cy="1561" r="1.4"/><circle cx="1223" cy="1216" r="1.7"/><circle cx="837" cy="1685" r="1.0"/><circle cx="1367" cy="1549" r="1.2"/><circle cx="1294" cy="1583" r="1.0"/><circle cx="984" cy="1133" r="1.4"/><circle cx="1163" cy="1176" r="1.2"/><circle cx="1017" cy="1626" r="1.0"/><circle cx="1573" cy="1685" r="1.2"/><circle cx="1547" cy="1232" r="1.2"/><circle cx="1174" cy="1551" r="2.0"/><circle cx="1014" cy="1246" r="1.0"/><circle cx="1306" cy="1088" r="1.2"/><circle cx="1255" cy="1154" r="1.2"/><circle cx="810" cy="1422" r="1.7"/><circle cx="1500" cy="1114" r="1.2"/><circle cx="1348" cy="1493" r="1.2"/><circle cx="1318" cy="1134" r="1.0"/><circle cx="1430" cy="1359" r="2.4"/><circle cx="1659" cy="1358" r="1.4"/><circle cx="1064" cy="1588" r="1.7"/><circle cx="1502" cy="1085" r="2.4"/><circle cx="993" cy="1122" r="1.4"/><circle cx="758" cy="1489" r="2.0"/><circle cx="1330" cy="993" r="2.0"/><circle cx="1675" cy="1678" r="1.0"/><circle cx="844" cy="1497" r="1.4"/><circle cx="1519" cy="1606" r="2.0"/><circle cx="1490" cy="1033" r="1.0"/><circle cx="1246" cy="1367" r="2.0"/><circle cx="811" cy="1430" r="1.2"/><circle cx="819" cy="1486" r="1.2"/><circle cx="988" cy="1585" r="2.4"/><circle cx="1311" cy="1361" r="2.4"/><circle cx="1175" cy="1239" r="1.0"/><circle cx="1455" cy="1022" r="1.0"/><circle cx="1196" cy="1406" r="1.4"/><circle cx="1627" cy="1375" r="1.2"/><circle cx="1307" cy="1520" r="1.2"/><circle cx="1371" cy="1483" r="2.0"/><circle cx="1581" cy="1363" r="1.7"/><circle cx="1092" cy="1275" r="1.4"/><circle cx="1453" cy="1589" r="2.0"/><circle cx="1544" cy="1638" r="1.7"/><circle cx="1250" cy="1670" r="1.4"/><circle cx="976" cy="1290" r="2.4"/><circle cx="912" cy="1220" r="1.2"/><circle cx="1237" cy="1005" r="1.2"/><circle cx="1151" cy="1272" r="1.7"/><circle cx="1369" cy="1565" r="1.0"/><circle cx="992" cy="1472" r="1.4"/><circle cx="1364" cy="1562" r="1.0"/><circle cx="1357" cy="1168" r="2.0"/><circle cx="1076" cy="1109" r="1.0"/><circle cx="1329" cy="1669" r="2.0"/><circle cx="1325" cy="1652" r="1.7"/><circle cx="1021" cy="1279" r="1.4"/><circle cx="1001" cy="1513" r="2.4"/><circle cx="1280" cy="1586" r="2.0"/><circle cx="1432" cy="1147" r="1.7"/><circle cx="926" cy="1494" r="1.7"/><circle cx="1210" cy="1571" r="1.0"/><circle cx="968" cy="1147" r="2.0"/><circle cx="1280" cy="1678" r="1.7"/><circle cx="1291" cy="1339" r="1.4"/><circle cx="1285" cy="1420" r="1.4"/><circle cx="1171" cy="1034" r="1.7"/><circle cx="1575" cy="1241" r="1.0"/><circle cx="1254" cy="1692" r="2.4"/><circle cx="1477" cy="1100" r="1.4"/><circle cx="1405" cy="1090" r="1.2"/><circle cx="1352" cy="1593" r="2.0"/><circle cx="817" cy="1598" r="1.7"/><circle cx="995" cy="1438" r="2.4"/><circle cx="1505" cy="1406" r="1.7"/><circle cx="1127" cy="1695" r="1.2"/><circle cx="1148" cy="1546" r="2.0"/><circle cx="1343" cy="1259" r="1.7"/><circle cx="1430" cy="1195" r="1.4"/><circle cx="1020" cy="1267" r="2.0"/><circle cx="1330" cy="1450" r="1.0"/><circle cx="1527" cy="1593" r="1.7"/><circle cx="1110" cy="1203" r="2.0"/><circle cx="1032" cy="1093" r="2.0"/><circle cx="1106" cy="1155" r="1.4"/><circle cx="1052" cy="1589" r="1.2"/><circle cx="1157" cy="1637" r="1.0"/><circle cx="1270" cy="1212" r="2.0"/><circle cx="1250" cy="1477" r="1.7"/><circle cx="1196" cy="1019" r="2.4"/><circle cx="1080" cy="1663" r="2.4"/><circle cx="1140" cy="1346" r="2.4"/><circle cx="1295" cy="1398" r="1.2"/><circle cx="1171" cy="1433" r="2.0"/><circle cx="1072" cy="1366" r="1.0"/><circle cx="895" cy="1216" r="1.0"/><circle cx="1567" cy="1354" r="1.0"/><circle cx="1392" cy="1199" r="1.4"/><circle cx="1561" cy="1693" r="1.7"/><circle cx="1367" cy="1362" r="2.0"/><circle cx="933" cy="1624" r="1.7"/><circle cx="907" cy="1437" r="2.0"/><circle cx="829" cy="1395" r="2.4"/><circle cx="1372" cy="1020" r="1.7"/><circle cx="1448" cy="1383" r="1.4"/><circle cx="1128" cy="1060" r="1.0"/><circle cx="1405" cy="1130" r="1.7"/><circle cx="1508" cy="1393" r="2.4"/><circle cx="1638" cy="1355" r="1.2"/><circle cx="1309" cy="1282" r="1.0"/><circle cx="869" cy="1358" r="2.0"/><circle cx="895" cy="1361" r="1.7"/><circle cx="1348" cy="1563" r="1.0"/><circle cx="1386" cy="1476" r="2.0"/><circle cx="1051" cy="1498" r="1.4"/><circle cx="1002" cy="1013" r="2.4"/><circle cx="822" cy="1632" r="2.0"/><circle cx="1360" cy="1004" r="1.2"/><circle cx="1633" cy="1404" r="1.0"/><circle cx="1171" cy="1430" r="1.2"/><circle cx="948" cy="1103" r="2.0"/><circle cx="1596" cy="1214" r="1.7"/><circle cx="1031" cy="1418" r="1.7"/><circle cx="1414" cy="1469" r="2.0"/><circle cx="947" cy="1210" r="2.4"/><circle cx="1216" cy="1553" r="1.2"/><circle cx="1108" cy="995" r="1.4"/><circle cx="1126" cy="1248" r="1.4"/><circle cx="1267" cy="1264" r="1.7"/><circle cx="1388" cy="1672" r="1.7"/><circle cx="1566" cy="1239" r="1.2"/><circle cx="1117" cy="1322" r="1.4"/><circle cx="963" cy="1015" r="2.4"/><circle cx="746" cy="1561" r="1.2"/><circle cx="1444" cy="1056" r="1.4"/><circle cx="1278" cy="1549" r="2.0"/><circle cx="1174" cy="1584" r="1.2"/><circle cx="883" cy="1241" r="2.4"/><circle cx="1135" cy="1437" r="2.0"/><circle cx="933" cy="1665" r="2.0"/><circle cx="930" cy="1599" r="2.4"/><circle cx="854" cy="1492" r="1.4"/><circle cx="1331" cy="1303" r="1.4"/><circle cx="1268" cy="1277" r="2.0"/><circle cx="938" cy="1609" r="1.0"/><circle cx="1415" cy="1055" r="1.4"/><circle cx="1474" cy="1533" r="1.0"/><circle cx="1394" cy="1393" r="1.4"/><circle cx="1432" cy="1541" r="1.2"/><circle cx="1049" cy="1461" r="1.0"/><circle cx="790" cy="1639" r="2.0"/><circle cx="1497" cy="1127" r="2.4"/><circle cx="1039" cy="1151" r="1.2"/><circle cx="1557" cy="1273" r="1.4"/><circle cx="1133" cy="1635" r="2.4"/><circle cx="1625" cy="1602" r="1.2"/><circle cx="1096" cy="1558" r="2.4"/><circle cx="1080" cy="1283" r="2.4"/><circle cx="1441" cy="1318" r="1.7"/><circle cx="1081" cy="1436" r="1.2"/><circle cx="1019" cy="1182" r="2.0"/><circle cx="1472" cy="1496" r="1.0"/><circle cx="1135" cy="1422" r="1.7"/><circle cx="923" cy="1205" r="1.7"/><circle cx="1477" cy="1382" r="2.4"/><circle cx="1374" cy="1118" r="1.2"/><circle cx="1304" cy="1499" r="1.4"/><circle cx="1669" cy="1466" r="2.0"/><circle cx="1078" cy="991" r="2.4"/><circle cx="1013" cy="1021" r="2.0"/><circle cx="1343" cy="1024" r="1.2"/><circle cx="1418" cy="1016" r="1.4"/><circle cx="935" cy="1639" r="2.4"/><circle cx="1483" cy="1699" r="2.0"/><circle cx="1569" cy="1190" r="1.0"/><circle cx="1078" cy="1664" r="1.7"/><circle cx="1673" cy="1481" r="2.4"/><circle cx="1426" cy="1586" r="2.4"/><circle cx="1184" cy="1029" r="2.4"/><circle cx="931" cy="1468" r="1.2"/><circle cx="1222" cy="1124" r="2.4"/><circle cx="1566" cy="1387" r="1.2"/><circle cx="1280" cy="1678" r="2.4"/><circle cx="962" cy="1175" r="1.0"/><circle cx="892" cy="1237" r="1.0"/><circle cx="926" cy="1210" r="1.2"/><circle cx="1423" cy="1335" r="1.7"/><circle cx="964" cy="1162" r="2.0"/><circle cx="1429" cy="1085" r="2.4"/><circle cx="1080" cy="1203" r="2.4"/><circle cx="865" cy="1390" r="1.4"/><circle cx="1365" cy="1074" r="1.7"/><circle cx="1500" cy="1110" r="2.4"/><circle cx="879" cy="1685" r="1.7"/><circle cx="1017" cy="1246" r="1.2"/><circle cx="764" cy="1626" r="1.4"/><circle cx="922" cy="1488" r="1.7"/><circle cx="1176" cy="1394" r="1.4"/><circle cx="731" cy="1694" r="1.7"/><circle cx="806" cy="1499" r="2.4"/><circle cx="1298" cy="1067" r="1.7"/><circle cx="1523" cy="1218" r="1.4"/><circle cx="1663" cy="1448" r="2.4"/><circle cx="1349" cy="1509" r="2.4"/><circle cx="978" cy="1165" r="1.2"/><circle cx="1486" cy="1008" r="1.7"/><circle cx="1581" cy="1200" r="1.2"/><circle cx="1638" cy="1474" r="1.0"/><circle cx="1524" cy="1580" r="2.4"/><circle cx="1352" cy="1259" r="2.4"/><circle cx="1566" cy="1217" r="1.4"/><circle cx="860" cy="1643" r="1.4"/><circle cx="965" cy="1019" r="2.0"/><circle cx="1543" cy="1644" r="2.4"/><circle cx="1133" cy="1026" r="1.2"/><circle cx="1227" cy="1345" r="1.2"/><circle cx="1362" cy="1091" r="1.2"/><circle cx="888" cy="1305" r="1.7"/><circle cx="1170" cy="1125" r="2.4"/><circle cx="1102" cy="1013" r="2.0"/><circle cx="1597" cy="1549" r="1.7"/><circle cx="777" cy="1495" r="1.4"/><circle cx="1463" cy="1259" r="1.0"/><circle cx="1174" cy="1390" r="1.4"/><circle cx="1302" cy="1323" r="2.0"/><circle cx="1052" cy="1317" r="2.0"/><circle cx="1651" cy="1604" r="1.7"/><circle cx="1413" cy="1422" r="1.4"/><circle cx="1299" cy="1289" r="1.4"/><circle cx="1213" cy="1450" r="1.4"/><circle cx="1607" cy="1367" r="2.4"/><circle cx="1416" cy="1308" r="1.0"/><circle cx="871" cy="1401" r="2.0"/><circle cx="1315" cy="1286" r="2.0"/><circle cx="966" cy="1303" r="1.4"/><circle cx="1632" cy="1379" r="1.0"/><circle cx="947" cy="1584" r="2.4"/><circle cx="817" cy="1367" r="1.4"/><circle cx="1447" cy="1151" r="1.7"/><circle cx="952" cy="1397" r="1.0"/><circle cx="1474" cy="1636" r="2.0"/><circle cx="1605" cy="1381" r="2.4"/><circle cx="1580" cy="1663" r="2.4"/><circle cx="825" cy="1579" r="1.7"/><circle cx="1278" cy="1677" r="1.2"/><circle cx="1297" cy="1540" r="1.2"/><circle cx="1103" cy="1429" r="1.7"/><circle cx="963" cy="1254" r="1.0"/><circle cx="1439" cy="1668" r="1.7"/><circle cx="1027" cy="1492" r="1.7"/><circle cx="838" cy="1507" r="1.4"/><circle cx="892" cy="1519" r="1.4"/><circle cx="1544" cy="1513" r="1.0"/><circle cx="1102" cy="1513" r="1.4"/><circle cx="1460" cy="1021" r="2.0"/><circle cx="1082" cy="1243" r="1.4"/><circle cx="1543" cy="1070" r="2.4"/><circle cx="969" cy="1242" r="2.4"/><circle cx="1178" cy="1585" r="2.0"/><circle cx="1171" cy="1552" r="1.7"/><circle cx="833" cy="1558" r="1.2"/><circle cx="874" cy="1651" r="2.4"/><circle cx="1406" cy="1584" r="2.0"/><circle cx="1617" cy="1372" r="2.4"/><circle cx="1500" cy="1181" r="1.7"/><circle cx="875" cy="1346" r="1.0"/><circle cx="907" cy="1571" r="2.4"/><circle cx="1335" cy="1589" r="1.2"/><circle cx="1430" cy="1308" r="1.2"/><circle cx="1615" cy="1424" r="1.0"/><circle cx="1090" cy="1365" r="1.4"/><circle cx="1636" cy="1408" r="1.0"/><circle cx="937" cy="1572" r="2.4"/><circle cx="1199" cy="1400" r="1.7"/><circle cx="1064" cy="1333" r="1.2"/><circle cx="869" cy="1466" r="1.4"/><circle cx="1114" cy="1035" r="1.4"/><circle cx="1086" cy="1397" r="2.0"/><circle cx="1701" cy="1694" r="1.0"/><circle cx="1658" cy="1631" r="1.0"/><circle cx="1614" cy="1540" r="2.4"/><circle cx="1306" cy="1060" r="1.4"/><circle cx="1533" cy="1159" r="1.2"/><circle cx="1418" cy="1206" r="1.4"/><circle cx="1478" cy="1351" r="2.4"/><circle cx="971" cy="1610" r="2.4"/><circle cx="1136" cy="1033" r="1.4"/><circle cx="1409" cy="1617" r="1.7"/><circle cx="1236" cy="1625" r="1.2"/><circle cx="930" cy="1621" r="2.4"/><circle cx="1184" cy="1306" r="2.0"/><circle cx="1512" cy="1650" r="2.0"/><circle cx="1036" cy="1506" r="2.0"/><circle cx="1395" cy="1676" r="1.0"/><circle cx="1664" cy="1404" r="1.0"/><circle cx="1320" cy="1206" r="1.4"/><circle cx="1514" cy="1294" r="1.0"/><circle cx="1580" cy="1217" r="1.2"/><circle cx="1003" cy="1173" r="1.0"/><circle cx="1497" cy="1435" r="1.2"/><circle cx="1442" cy="1145" r="1.7"/><circle cx="1179" cy="1624" r="1.4"/><circle cx="1606" cy="1450" r="1.2"/><circle cx="968" cy="1030" r="1.2"/><circle cx="1336" cy="1046" r="2.0"/><circle cx="1070" cy="1087" r="1.2"/><circle cx="997" cy="1446" r="1.0"/><circle cx="1376" cy="1645" r="1.2"/><circle cx="1050" cy="1606" r="1.0"/><circle cx="1385" cy="1278" r="2.4"/><circle cx="1540" cy="1114" r="1.7"/><circle cx="1536" cy="1052" r="2.0"/><circle cx="1063" cy="1341" r="2.0"/><circle cx="1130" cy="1658" r="1.0"/><circle cx="1390" cy="1213" r="1.7"/><circle cx="1349" cy="1504" r="1.4"/><circle cx="936" cy="1366" r="1.0"/><circle cx="1087" cy="1247" r="1.4"/><circle cx="1272" cy="1408" r="2.0"/><circle cx="877" cy="1687" r="2.0"/><circle cx="1059" cy="1516" r="1.4"/><circle cx="1554" cy="1329" r="1.0"/><circle cx="1515" cy="1210" r="2.0"/><circle cx="1005" cy="1362" r="1.4"/><circle cx="1208" cy="1455" r="1.4"/><circle cx="874" cy="1437" r="1.7"/><circle cx="1496" cy="1054" r="1.0"/><circle cx="1360" cy="1077" r="2.0"/><circle cx="1234" cy="1384" r="1.2"/><circle cx="986" cy="1420" r="2.4"/><circle cx="1476" cy="1644" r="1.2"/><circle cx="1262" cy="1239" r="2.4"/><circle cx="969" cy="1687" r="1.7"/><circle cx="938" cy="1638" r="1.7"/><circle cx="1192" cy="1220" r="1.0"/><circle cx="830" cy="1511" r="1.0"/><circle cx="1547" cy="1639" r="2.4"/><circle cx="1298" cy="1281" r="1.7"/><circle cx="1689" cy="1435" r="1.2"/><circle cx="1447" cy="1162" r="1.4"/><circle cx="928" cy="1529" r="2.4"/><circle cx="1006" cy="1614" r="1.7"/><circle cx="942" cy="1394" r="1.2"/><circle cx="1209" cy="1653" r="1.4"/><circle cx="1028" cy="1053" r="1.0"/><circle cx="1218" cy="1623" r="1.2"/><circle cx="1048" cy="1423" r="1.7"/><circle cx="937" cy="1027" r="1.2"/><circle cx="1593" cy="1512" r="1.0"/><circle cx="1519" cy="1603" r="1.2"/><circle cx="1166" cy="1089" r="1.4"/><circle cx="1422" cy="1562" r="1.2"/><circle cx="1474" cy="1059" r="1.2"/><circle cx="1196" cy="1272" r="1.7"/><circle cx="1068" cy="1642" r="2.4"/><circle cx="1127" cy="1228" r="1.0"/><circle cx="1320" cy="1133" r="2.4"/><circle cx="1427" cy="1017" r="2.0"/><circle cx="1330" cy="1398" r="2.4"/><circle cx="1220" cy="1086" r="1.7"/><circle cx="1274" cy="1440" r="2.0"/><circle cx="1233" cy="1070" r="1.4"/><circle cx="1581" cy="1670" r="1.0"/><circle cx="1078" cy="1143" r="1.2"/><circle cx="1470" cy="1184" r="1.2"/><circle cx="769" cy="1551" r="1.4"/><circle cx="994" cy="1221" r="1.0"/><circle cx="1389" cy="1376" r="2.0"/><circle cx="1059" cy="1281" r="2.4"/><circle cx="1456" cy="1273" r="1.4"/><circle cx="1273" cy="1262" r="1.2"/><circle cx="1117" cy="1264" r="1.7"/><circle cx="1544" cy="1628" r="2.4"/><circle cx="1346" cy="1258" r="1.2"/><circle cx="1566" cy="1461" r="1.0"/><circle cx="1584" cy="1547" r="2.4"/><circle cx="771" cy="1483" r="1.4"/><circle cx="1422" cy="1304" r="2.4"/><circle cx="1044" cy="1680" r="1.0"/><circle cx="1205" cy="1450" r="1.7"/><circle cx="1243" cy="1411" r="1.7"/><circle cx="960" cy="1437" r="2.4"/><circle cx="1611" cy="1242" r="1.0"/><circle cx="1123" cy="1364" r="2.0"/><circle cx="1396" cy="1577" r="1.0"/><circle cx="1365" cy="1376" r="1.2"/><circle cx="1667" cy="1533" r="1.4"/><circle cx="1460" cy="1361" r="1.7"/><circle cx="1305" cy="1700" r="1.0"/><circle cx="1257" cy="1365" r="1.4"/><circle cx="965" cy="1112" r="2.4"/><circle cx="1192" cy="1445" r="2.4"/><circle cx="1111" cy="1581" r="1.7"/><circle cx="978" cy="1063" r="1.4"/><circle cx="1400" cy="1361" r="1.4"/><circle cx="1184" cy="1052" r="1.7"/><circle cx="1018" cy="1307" r="1.0"/><circle cx="1181" cy="1330" r="1.2"/><circle cx="1498" cy="1096" r="2.4"/><circle cx="854" cy="1337" r="2.4"/><circle cx="964" cy="1253" r="1.4"/><circle cx="1542" cy="1170" r="2.0"/><circle cx="926" cy="1395" r="1.0"/><circle cx="1325" cy="1208" r="2.0"/><circle cx="1001" cy="1220" r="1.2"/><circle cx="992" cy="1301" r="2.0"/><circle cx="1372" cy="1600" r="1.2"/><circle cx="852" cy="1670" r="1.4"/><circle cx="1353" cy="1254" r="1.0"/><circle cx="1455" cy="1257" r="1.0"/><circle cx="1450" cy="1200" r="1.7"/><circle cx="1162" cy="1421" r="1.4"/><circle cx="1081" cy="1264" r="2.0"/><circle cx="853" cy="1429" r="2.4"/><circle cx="1315" cy="1035" r="1.2"/><circle cx="1058" cy="1040" r="1.7"/><circle cx="1109" cy="1363" r="1.7"/><circle cx="1679" cy="1447" r="1.0"/><circle cx="831" cy="1390" r="1.7"/><circle cx="1438" cy="1300" r="1.7"/><circle cx="1128" cy="1086" r="1.0"/><circle cx="1407" cy="1516" r="1.7"/><circle cx="1275" cy="1647" r="1.4"/><circle cx="1288" cy="1536" r="1.7"/><circle cx="799" cy="1570" r="1.0"/><circle cx="1229" cy="1592" r="1.2"/><circle cx="1299" cy="1029" r="2.4"/><circle cx="925" cy="1228" r="1.0"/><circle cx="1284" cy="1521" r="2.0"/><circle cx="864" cy="1279" r="1.0"/><circle cx="1063" cy="1358" r="1.0"/><circle cx="911" cy="1373" r="2.0"/><circle cx="989" cy="1212" r="1.4"/><circle cx="1401" cy="1202" r="1.7"/><circle cx="1244" cy="1288" r="1.0"/><circle cx="1035" cy="1166" r="1.7"/><circle cx="1542" cy="1598" r="1.4"/><circle cx="1033" cy="1084" r="1.2"/><circle cx="1270" cy="1255" r="1.7"/><circle cx="1393" cy="1494" r="1.2"/><circle cx="1095" cy="1559" r="1.2"/><circle cx="1188" cy="1492" r="2.4"/><circle cx="1266" cy="1280" r="2.0"/><circle cx="945" cy="1302" r="1.2"/><circle cx="1448" cy="1560" r="2.0"/><circle cx="1346" cy="1278" r="2.4"/><circle cx="1176" cy="1613" r="1.0"/><circle cx="905" cy="1599" r="1.0"/><circle cx="770" cy="1602" r="1.0"/><circle cx="1555" cy="1343" r="1.0"/><circle cx="1665" cy="1388" r="1.2"/><circle cx="1231" cy="1468" r="2.4"/><circle cx="1487" cy="1559" r="2.0"/><circle cx="1524" cy="1665" r="1.7"/><circle cx="949" cy="1582" r="2.4"/><circle cx="1649" cy="1477" r="1.2"/><circle cx="1610" cy="1646" r="1.2"/><circle cx="763" cy="1584" r="1.4"/><circle cx="1497" cy="1611" r="1.4"/><circle cx="1445" cy="1501" r="1.4"/><circle cx="1539" cy="1686" r="1.7"/><circle cx="880" cy="1197" r="2.4"/><circle cx="1279" cy="1056" r="1.7"/><circle cx="1062" cy="1275" r="1.0"/><circle cx="1666" cy="1697" r="2.0"/><circle cx="1259" cy="1196" r="1.4"/><circle cx="738" cy="1545" r="1.0"/><circle cx="926" cy="1189" r="1.4"/><circle cx="1333" cy="1374" r="1.0"/><circle cx="926" cy="1324" r="1.2"/><circle cx="1313" cy="1203" r="2.0"/><circle cx="1334" cy="1677" r="1.4"/><circle cx="919" cy="1098" r="1.4"/><circle cx="1181" cy="1166" r="2.4"/><circle cx="1093" cy="1068" r="1.4"/><circle cx="1549" cy="1504" r="1.7"/><circle cx="818" cy="1382" r="1.2"/><circle cx="1330" cy="1318" r="1.0"/><circle cx="1143" cy="1485" r="1.7"/><circle cx="1312" cy="1241" r="1.4"/><circle cx="1466" cy="1511" r="1.4"/><circle cx="894" cy="1658" r="1.4"/><circle cx="1578" cy="1205" r="1.4"/><circle cx="816" cy="1614" r="1.0"/><circle cx="877" cy="1182" r="2.0"/><circle cx="841" cy="1322" r="1.2"/><circle cx="1303" cy="1020" r="1.4"/><circle cx="1096" cy="1130" r="1.7"/><circle cx="1289" cy="1692" r="1.2"/><circle cx="1465" cy="1370" r="1.2"/><circle cx="1531" cy="1395" r="2.4"/><circle cx="1482" cy="1052" r="1.2"/><circle cx="877" cy="1178" r="1.0"/><circle cx="1155" cy="1433" r="1.0"/><circle cx="1019" cy="1622" r="1.0"/><circle cx="1400" cy="1145" r="1.2"/><circle cx="1330" cy="1547" r="2.4"/><circle cx="1560" cy="1573" r="1.0"/><circle cx="1334" cy="1688" r="1.0"/><circle cx="940" cy="1539" r="1.2"/><circle cx="1555" cy="1233" r="1.7"/><circle cx="1327" cy="1120" r="1.4"/><circle cx="1137" cy="1053" r="1.2"/><circle cx="872" cy="1353" r="1.2"/><circle cx="875" cy="1234" r="1.2"/><circle cx="929" cy="1647" r="2.4"/><circle cx="1059" cy="1683" r="1.0"/><circle cx="1531" cy="1331" r="1.7"/><circle cx="1259" cy="1224" r="1.0"/><circle cx="1490" cy="1442" r="1.2"/><circle cx="1095" cy="1282" r="2.4"/><circle cx="1455" cy="1238" r="1.2"/><circle cx="1543" cy="1340" r="2.4"/><circle cx="1229" cy="1174" r="2.4"/><circle cx="1681" cy="1632" r="2.4"/><circle cx="1198" cy="1550" r="2.4"/><circle cx="1325" cy="1299" r="2.4"/><circle cx="1524" cy="1608" r="1.4"/><circle cx="1487" cy="1411" r="2.4"/><circle cx="1713" cy="1549" r="1.4"/><circle cx="1489" cy="1592" r="1.2"/><circle cx="923" cy="1315" r="1.2"/><circle cx="1619" cy="1398" r="2.4"/><circle cx="1400" cy="1270" r="2.4"/><circle cx="1420" cy="1659" r="1.7"/><circle cx="1136" cy="1052" r="2.4"/><circle cx="1409" cy="1552" r="2.4"/><circle cx="1330" cy="1584" r="1.4"/><circle cx="1553" cy="1287" r="2.0"/><circle cx="1027" cy="1094" r="2.0"/><circle cx="939" cy="1241" r="1.7"/><circle cx="1355" cy="1197" r="1.0"/><circle cx="1272" cy="1162" r="1.2"/><circle cx="1420" cy="1019" r="1.2"/><circle cx="1119" cy="1226" r="1.2"/><circle cx="1091" cy="1149" r="2.0"/><circle cx="1624" cy="1672" r="1.4"/><circle cx="1232" cy="1669" r="2.0"/><circle cx="1531" cy="1421" r="1.2"/><circle cx="1121" cy="996" r="1.2"/><circle cx="1299" cy="1457" r="2.4"/><circle cx="1081" cy="1062" r="2.0"/><circle cx="1473" cy="1525" r="2.4"/><circle cx="1106" cy="1649" r="1.4"/><circle cx="1403" cy="1044" r="2.0"/><circle cx="1059" cy="1179" r="1.4"/><circle cx="1091" cy="1459" r="2.4"/><circle cx="1423" cy="1656" r="2.4"/><circle cx="781" cy="1455" r="1.7"/><circle cx="1093" cy="1683" r="1.0"/><circle cx="1617" cy="1621" r="1.0"/><circle cx="1291" cy="1308" r="2.0"/><circle cx="1633" cy="1507" r="2.4"/><circle cx="1190" cy="1663" r="1.7"/><circle cx="860" cy="1667" r="1.4"/><circle cx="868" cy="1407" r="2.0"/><circle cx="1241" cy="1698" r="1.2"/><circle cx="1486" cy="1445" r="1.4"/><circle cx="1363" cy="1162" r="2.0"/><circle cx="1138" cy="1050" r="2.4"/><circle cx="1375" cy="1340" r="2.4"/><circle cx="1089" cy="1631" r="1.4"/><circle cx="886" cy="1398" r="1.0"/><circle cx="1534" cy="1237" r="1.2"/><circle cx="926" cy="1563" r="1.0"/><circle cx="886" cy="1514" r="1.2"/><circle cx="1418" cy="1634" r="2.0"/><circle cx="1025" cy="1262" r="1.4"/><circle cx="1037" cy="1660" r="1.2"/><circle cx="1356" cy="1649" r="1.7"/><circle cx="1124" cy="1264" r="1.7"/><circle cx="994" cy="1135" r="2.0"/><circle cx="1181" cy="1584" r="2.4"/><circle cx="884" cy="1624" r="1.0"/><circle cx="876" cy="1528" r="1.7"/><circle cx="1398" cy="1592" r="1.7"/><circle cx="1491" cy="1186" r="1.4"/><circle cx="1455" cy="1271" r="1.4"/><circle cx="1181" cy="998" r="2.0"/><circle cx="1567" cy="1392" r="1.4"/><circle cx="1337" cy="1245" r="1.2"/><circle cx="1628" cy="1612" r="1.0"/><circle cx="1493" cy="1471" r="1.7"/><circle cx="1575" cy="1495" r="1.4"/><circle cx="1461" cy="1517" r="1.0"/><circle cx="1514" cy="1270" r="2.4"/><circle cx="1580" cy="1274" r="1.7"/><circle cx="1546" cy="1238" r="1.2"/><circle cx="1450" cy="1092" r="2.4"/><circle cx="1254" cy="1465" r="1.4"/><circle cx="857" cy="1230" r="1.0"/><circle cx="961" cy="1297" r="1.2"/><circle cx="1308" cy="1184" r="2.4"/><circle cx="1528" cy="1585" r="1.2"/><circle cx="948" cy="1593" r="1.2"/><circle cx="1233" cy="1628" r="1.0"/><circle cx="1482" cy="1573" r="2.4"/><circle cx="1110" cy="1194" r="2.4"/><circle cx="1442" cy="1490" r="2.0"/><circle cx="1639" cy="1496" r="2.0"/><circle cx="1340" cy="1351" r="2.0"/><circle cx="938" cy="1149" r="1.0"/><circle cx="1089" cy="1394" r="1.0"/><circle cx="1089" cy="1487" r="1.0"/><circle cx="845" cy="1667" r="1.2"/><circle cx="1289" cy="1563" r="1.0"/><circle cx="1271" cy="1322" r="1.7"/><circle cx="950" cy="1437" r="1.4"/><circle cx="956" cy="1385" r="1.2"/><circle cx="1009" cy="1681" r="2.0"/><circle cx="1270" cy="1012" r="1.2"/><circle cx="1155" cy="1035" r="2.4"/><circle cx="1001" cy="1054" r="1.0"/><circle cx="1130" cy="1354" r="2.0"/><circle cx="1139" cy="1463" r="1.0"/><circle cx="1544" cy="1673" r="1.4"/><circle cx="1394" cy="1169" r="2.4"/><circle cx="1210" cy="1085" r="1.7"/><circle cx="1713" cy="1615" r="2.0"/><circle cx="1186" cy="1233" r="1.2"/><circle cx="1499" cy="1044" r="2.0"/><circle cx="737" cy="1542" r="2.4"/><circle cx="1482" cy="1539" r="1.2"/><circle cx="1294" cy="1488" r="1.4"/><circle cx="1486" cy="1663" r="2.4"/><circle cx="1461" cy="1501" r="1.0"/><circle cx="1083" cy="1287" r="2.4"/><circle cx="1460" cy="1437" r="1.4"/><circle cx="1292" cy="1436" r="2.0"/><circle cx="1368" cy="1694" r="1.4"/><circle cx="828" cy="1515" r="2.4"/><circle cx="1084" cy="1628" r="2.4"/><circle cx="1186" cy="1063" r="1.0"/><circle cx="1600" cy="1248" r="1.7"/><circle cx="1218" cy="1049" r="1.4"/><circle cx="1535" cy="1328" r="1.2"/><circle cx="1591" cy="1365" r="1.4"/><circle cx="1241" cy="1139" r="1.4"/><circle cx="1393" cy="1656" r="1.2"/><circle cx="1448" cy="1661" r="2.0"/><circle cx="1168" cy="1510" r="1.7"/><circle cx="885" cy="1626" r="1.7"/><circle cx="939" cy="1406" r="1.7"/><circle cx="748" cy="1567" r="1.0"/><circle cx="1195" cy="1021" r="2.0"/><circle cx="1268" cy="1040" r="1.4"/><circle cx="1067" cy="1387" r="1.7"/><circle cx="1217" cy="1444" r="1.2"/><circle cx="1083" cy="1615" r="1.0"/><circle cx="1326" cy="1080" r="1.2"/><circle cx="1171" cy="1396" r="2.4"/><circle cx="1422" cy="1639" r="1.0"/><circle cx="1304" cy="1501" r="1.7"/><circle cx="893" cy="1453" r="2.4"/><circle cx="1201" cy="1615" r="2.0"/><circle cx="865" cy="1635" r="2.0"/><circle cx="1111" cy="1487" r="1.2"/><circle cx="1484" cy="1149" r="2.4"/><circle cx="1480" cy="1017" r="1.0"/><circle cx="1132" cy="1658" r="1.2"/><circle cx="1515" cy="1021" r="2.0"/><circle cx="1375" cy="1643" r="1.4"/><circle cx="1211" cy="1669" r="2.4"/><circle cx="1262" cy="1427" r="1.4"/><circle cx="828" cy="1549" r="1.7"/><circle cx="1593" cy="1385" r="1.0"/><circle cx="1235" cy="1430" r="2.0"/><circle cx="1532" cy="1372" r="2.4"/><circle cx="1018" cy="1272" r="1.0"/><circle cx="1294" cy="1138" r="1.2"/><circle cx="1570" cy="1566" r="1.7"/><circle cx="934" cy="1493" r="2.4"/><circle cx="932" cy="1295" r="1.0"/><circle cx="1348" cy="1051" r="2.0"/><circle cx="1081" cy="1057" r="2.4"/><circle cx="965" cy="1616" r="1.0"/><circle cx="1037" cy="1200" r="1.7"/><circle cx="1342" cy="1685" r="1.2"/><circle cx="837" cy="1482" r="2.0"/><circle cx="939" cy="1264" r="1.7"/><circle cx="1667" cy="1398" r="1.2"/><circle cx="1659" cy="1510" r="1.0"/><circle cx="1656" cy="1584" r="2.4"/><circle cx="1467" cy="1466" r="1.2"/><circle cx="1591" cy="1296" r="1.0"/><circle cx="904" cy="1659" r="1.7"/><circle cx="982" cy="1085" r="1.4"/><circle cx="1112" cy="1105" r="1.2"/><circle cx="1676" cy="1531" r="1.4"/><circle cx="1001" cy="1167" r="1.7"/><circle cx="1271" cy="1232" r="2.0"/><circle cx="1628" cy="1644" r="1.4"/><circle cx="965" cy="1233" r="1.0"/><circle cx="1265" cy="1064" r="1.4"/><circle cx="1156" cy="1229" r="1.0"/><circle cx="1271" cy="1676" r="1.2"/><circle cx="937" cy="1028" r="2.4"/><circle cx="1272" cy="1656" r="1.7"/><circle cx="1516" cy="1438" r="2.4"/><circle cx="938" cy="1194" r="1.0"/><circle cx="1452" cy="1296" r="1.0"/><circle cx="1169" cy="1478" r="2.4"/><circle cx="1121" cy="1233" r="1.0"/><circle cx="814" cy="1605" r="2.4"/><circle cx="986" cy="1675" r="2.4"/><circle cx="1479" cy="1091" r="1.0"/><circle cx="1333" cy="1483" r="1.4"/><circle cx="800" cy="1508" r="2.0"/><circle cx="1226" cy="1678" r="2.4"/><circle cx="1620" cy="1644" r="1.7"/><circle cx="1031" cy="1280" r="2.4"/><circle cx="898" cy="1692" r="1.0"/><circle cx="1603" cy="1317" r="1.4"/><circle cx="1569" cy="1151" r="1.2"/><circle cx="1543" cy="1466" r="1.4"/><circle cx="1361" cy="1590" r="1.0"/><circle cx="1396" cy="1407" r="2.4"/><circle cx="990" cy="1022" r="1.7"/><circle cx="820" cy="1688" r="1.7"/><circle cx="980" cy="1053" r="2.0"/><circle cx="949" cy="1036" r="1.0"/><circle cx="995" cy="1651" r="1.4"/><circle cx="1093" cy="1503" r="1.2"/><circle cx="1099" cy="1513" r="1.4"/><circle cx="1095" cy="1361" r="1.0"/><circle cx="1614" cy="1636" r="1.2"/><circle cx="1012" cy="1260" r="1.0"/><circle cx="950" cy="1128" r="1.2"/><circle cx="1502" cy="1596" r="1.2"/><circle cx="1377" cy="1325" r="1.0"/><circle cx="772" cy="1461" r="1.4"/><circle cx="961" cy="1011" r="1.7"/><circle cx="1220" cy="1068" r="2.0"/><circle cx="1449" cy="1057" r="1.0"/><circle cx="1217" cy="1645" r="1.2"/><circle cx="1156" cy="1033" r="1.2"/><circle cx="1201" cy="1655" r="2.0"/><circle cx="1216" cy="1143" r="2.0"/><circle cx="1612" cy="1673" r="1.7"/><circle cx="833" cy="1660" r="2.0"/><circle cx="1243" cy="1215" r="1.0"/><circle cx="1470" cy="1043" r="1.7"/><circle cx="1367" cy="1060" r="1.4"/><circle cx="1400" cy="1246" r="1.0"/><circle cx="1441" cy="1327" r="1.4"/><circle cx="1389" cy="1355" r="1.0"/><circle cx="1380" cy="1478" r="1.0"/><circle cx="1271" cy="1156" r="1.7"/><circle cx="1401" cy="1089" r="1.4"/><circle cx="869" cy="1561" r="1.4"/><circle cx="1479" cy="1599" r="1.4"/><circle cx="1393" cy="1452" r="2.4"/><circle cx="953" cy="1415" r="2.4"/><circle cx="1488" cy="1404" r="1.0"/><circle cx="1132" cy="1472" r="1.0"/><circle cx="1089" cy="1334" r="1.0"/><circle cx="1209" cy="1353" r="2.4"/><circle cx="1224" cy="1694" r="2.0"/><circle cx="1202" cy="1210" r="1.7"/><circle cx="998" cy="1682" r="1.4"/><circle cx="1143" cy="1493" r="2.0"/><circle cx="1103" cy="1105" r="1.0"/><circle cx="879" cy="1566" r="2.0"/><circle cx="1186" cy="1389" r="2.4"/><circle cx="1116" cy="1175" r="2.0"/><circle cx="844" cy="1672" r="1.2"/><circle cx="1653" cy="1699" r="1.2"/><circle cx="1316" cy="1619" r="1.0"/><circle cx="892" cy="1290" r="1.0"/><circle cx="1320" cy="1311" r="1.7"/><circle cx="980" cy="1395" r="1.2"/><circle cx="1602" cy="1669" r="1.4"/><circle cx="1712" cy="1496" r="1.0"/><circle cx="773" cy="1639" r="1.0"/><circle cx="1712" cy="1632" r="1.0"/><circle cx="1016" cy="1676" r="1.2"/><circle cx="1151" cy="1366" r="1.4"/><circle cx="1547" cy="1454" r="2.0"/><circle cx="1318" cy="1307" r="1.7"/><circle cx="1395" cy="1406" r="1.4"/><circle cx="1641" cy="1673" r="1.2"/><circle cx="1167" cy="1410" r="1.4"/><circle cx="1305" cy="1119" r="2.4"/><circle cx="1142" cy="1669" r="1.4"/><circle cx="1414" cy="1042" r="2.4"/><circle cx="779" cy="1474" r="1.2"/><circle cx="1409" cy="1558" r="1.0"/><circle cx="1176" cy="1231" r="2.4"/><circle cx="1700" cy="1622" r="1.7"/><circle cx="1702" cy="1548" r="1.2"/><circle cx="1131" cy="1085" r="2.4"/><circle cx="958" cy="1512" r="1.4"/><circle cx="1110" cy="1341" r="1.4"/><circle cx="940" cy="1179" r="1.0"/><circle cx="1243" cy="1618" r="2.0"/><circle cx="1151" cy="1045" r="2.0"/><circle cx="1185" cy="1226" r="2.0"/><circle cx="1085" cy="1490" r="1.7"/><circle cx="1042" cy="1566" r="2.4"/><circle cx="885" cy="1252" r="2.4"/><circle cx="1506" cy="1583" r="2.4"/><circle cx="929" cy="1166" r="2.0"/><circle cx="1505" cy="1204" r="1.4"/><circle cx="1186" cy="1463" r="2.0"/><circle cx="767" cy="1627" r="2.0"/><circle cx="1268" cy="1505" r="1.4"/><circle cx="750" cy="1557" r="1.2"/><circle cx="1643" cy="1548" r="1.2"/><circle cx="1678" cy="1679" r="1.2"/><circle cx="1202" cy="1042" r="1.4"/><circle cx="1048" cy="1286" r="1.7"/><circle cx="992" cy="1035" r="1.0"/><circle cx="1434" cy="1177" r="2.4"/><circle cx="1057" cy="1346" r="1.2"/><circle cx="913" cy="1650" r="2.0"/><circle cx="1545" cy="1523" r="2.4"/><circle cx="1153" cy="1200" r="1.0"/><circle cx="955" cy="1556" r="1.7"/><circle cx="817" cy="1406" r="1.2"/><circle cx="1534" cy="1311" r="1.7"/><circle cx="1531" cy="1154" r="1.0"/><circle cx="1565" cy="1325" r="1.7"/><circle cx="1317" cy="1067" r="2.4"/><circle cx="1189" cy="1523" r="2.0"/><circle cx="1154" cy="1369" r="2.4"/><circle cx="937" cy="1500" r="1.7"/><circle cx="1350" cy="1630" r="1.2"/><circle cx="1731" cy="1697" r="1.4"/><circle cx="1195" cy="1231" r="2.4"/><circle cx="1454" cy="1671" r="1.4"/><circle cx="1126" cy="1361" r="1.4"/><circle cx="1247" cy="1097" r="2.4"/><circle cx="1619" cy="1318" r="1.2"/><circle cx="1049" cy="1547" r="2.4"/><circle cx="1254" cy="1248" r="2.4"/><circle cx="1208" cy="1211" r="1.0"/><circle cx="1117" cy="1333" r="1.4"/><circle cx="1544" cy="1355" r="1.7"/><circle cx="1046" cy="1329" r="2.4"/><circle cx="1149" cy="1491" r="2.0"/><circle cx="1178" cy="1649" r="1.4"/><circle cx="1354" cy="1065" r="1.7"/><circle cx="810" cy="1645" r="1.2"/><circle cx="758" cy="1687" r="2.0"/><circle cx="852" cy="1321" r="2.0"/><circle cx="1594" cy="1459" r="1.4"/><circle cx="1168" cy="1051" r="1.7"/><circle cx="1435" cy="1498" r="2.4"/><circle cx="1507" cy="1086" r="1.0"/><circle cx="1438" cy="1214" r="2.0"/><circle cx="1339" cy="1279" r="1.2"/><circle cx="898" cy="1533" r="1.7"/><circle cx="1446" cy="1247" r="1.2"/><circle cx="1190" cy="1382" r="1.0"/><circle cx="986" cy="1516" r="2.4"/><circle cx="1647" cy="1326" r="1.2"/><circle cx="1339" cy="1195" r="1.7"/><circle cx="1123" cy="1133" r="1.2"/><circle cx="1488" cy="1640" r="1.7"/><circle cx="830" cy="1568" r="1.4"/><circle cx="1246" cy="1568" r="2.4"/><circle cx="872" cy="1597" r="1.4"/><circle cx="1041" cy="1508" r="1.4"/><circle cx="1420" cy="1458" r="1.0"/><circle cx="1562" cy="1603" r="2.0"/><circle cx="1072" cy="1549" r="1.4"/><circle cx="1342" cy="1629" r="1.4"/><circle cx="954" cy="1216" r="1.4"/><circle cx="1353" cy="1270" r="1.4"/><circle cx="1372" cy="1620" r="1.2"/><circle cx="1557" cy="1447" r="1.0"/><circle cx="1494" cy="1567" r="1.4"/><circle cx="1237" cy="1221" r="1.7"/><circle cx="1273" cy="1229" r="1.0"/><circle cx="1074" cy="1589" r="1.4"/><circle cx="1682" cy="1518" r="2.4"/><circle cx="1276" cy="1637" r="2.0"/><circle cx="1724" cy="1662" r="1.7"/><circle cx="1522" cy="1545" r="1.2"/><circle cx="1468" cy="1246" r="1.0"/><circle cx="747" cy="1556" r="1.2"/><circle cx="1099" cy="1427" r="1.7"/><circle cx="1480" cy="1131" r="1.7"/><circle cx="1376" cy="1211" r="1.7"/><circle cx="1368" cy="1625" r="1.7"/><circle cx="1046" cy="1235" r="1.4"/><circle cx="1478" cy="1240" r="1.0"/><circle cx="1335" cy="1698" r="2.0"/><circle cx="732" cy="1669" r="1.2"/><circle cx="933" cy="1247" r="1.4"/><circle cx="1671" cy="1458" r="1.0"/><circle cx="1391" cy="1394" r="1.7"/><circle cx="1326" cy="1297" r="2.4"/><circle cx="854" cy="1699" r="1.2"/><circle cx="1257" cy="1572" r="2.4"/><circle cx="1086" cy="1148" r="2.4"/><circle cx="1339" cy="1031" r="1.4"/><circle cx="1625" cy="1695" r="1.7"/><circle cx="882" cy="1442" r="1.0"/><circle cx="1029" cy="1224" r="2.4"/><circle cx="1491" cy="998" r="1.2"/><circle cx="1340" cy="1258" r="2.0"/><circle cx="1303" cy="1028" r="1.0"/><circle cx="1235" cy="1628" r="2.4"/><circle cx="867" cy="1438" r="1.0"/><circle cx="1154" cy="1417" r="1.4"/><circle cx="1339" cy="1156" r="1.2"/><circle cx="1246" cy="1322" r="1.0"/><circle cx="1513" cy="1560" r="2.4"/><circle cx="890" cy="1546" r="2.0"/><circle cx="982" cy="1357" r="1.2"/><circle cx="958" cy="1114" r="1.2"/><circle cx="1720" cy="1502" r="1.0"/><circle cx="1488" cy="1496" r="2.4"/><circle cx="941" cy="1584" r="1.7"/><circle cx="1537" cy="1471" r="1.2"/><circle cx="1048" cy="1112" r="1.2"/><circle cx="1506" cy="1164" r="1.2"/><circle cx="953" cy="1607" r="1.4"/><circle cx="1354" cy="1205" r="1.2"/><circle cx="1371" cy="1306" r="1.2"/><circle cx="918" cy="1214" r="2.0"/><circle cx="1024" cy="1287" r="1.7"/><circle cx="1508" cy="1410" r="1.7"/><circle cx="923" cy="1410" r="1.2"/><circle cx="1233" cy="1155" r="1.4"/><circle cx="1439" cy="1677" r="1.7"/><circle cx="823" cy="1511" r="1.4"/><circle cx="1081" cy="1480" r="1.7"/><circle cx="1382" cy="1320" r="2.0"/><circle cx="1282" cy="1020" r="2.4"/><circle cx="1209" cy="1351" r="2.4"/><circle cx="1163" cy="1202" r="2.0"/><circle cx="1389" cy="1520" r="1.0"/><circle cx="1095" cy="1595" r="1.4"/><circle cx="1325" cy="1471" r="1.4"/><circle cx="1541" cy="1101" r="2.0"/><circle cx="1133" cy="1120" r="1.0"/><circle cx="859" cy="1632" r="1.0"/><circle cx="1352" cy="1563" r="1.7"/><circle cx="1228" cy="1248" r="1.0"/><circle cx="1079" cy="1368" r="1.4"/><circle cx="1375" cy="1329" r="1.4"/><circle cx="981" cy="1423" r="2.0"/><circle cx="1526" cy="1175" r="1.4"/><circle cx="1551" cy="1436" r="1.0"/><circle cx="1003" cy="1226" r="1.7"/><circle cx="884" cy="1480" r="1.0"/><circle cx="1475" cy="1090" r="1.4"/><circle cx="954" cy="1031" r="1.4"/><circle cx="845" cy="1680" r="1.0"/><circle cx="918" cy="1521" r="2.4"/><circle cx="1115" cy="1056" r="2.4"/><circle cx="1492" cy="1414" r="1.4"/><circle cx="1446" cy="1437" r="1.0"/><circle cx="1195" cy="1066" r="1.2"/><circle cx="1344" cy="1467" r="1.2"/><circle cx="1090" cy="1685" r="1.7"/><circle cx="1053" cy="1280" r="1.7"/><circle cx="958" cy="1682" r="2.4"/><circle cx="1444" cy="1114" r="1.2"/><circle cx="1635" cy="1554" r="2.4"/><circle cx="1476" cy="1032" r="2.0"/><circle cx="1358" cy="1633" r="1.7"/><circle cx="1281" cy="1618" r="1.0"/><circle cx="1183" cy="1616" r="2.0"/><circle cx="1369" cy="1459" r="2.0"/><circle cx="1687" cy="1600" r="2.0"/><circle cx="1249" cy="1343" r="2.4"/><circle cx="1113" cy="1480" r="1.0"/><circle cx="1233" cy="1645" r="2.4"/><circle cx="1248" cy="994" r="1.4"/><circle cx="1144" cy="1465" r="2.0"/><circle cx="1110" cy="1461" r="1.4"/><circle cx="1704" cy="1668" r="2.0"/><circle cx="885" cy="1625" r="1.2"/><circle cx="996" cy="1632" r="2.4"/><circle cx="1528" cy="1573" r="2.0"/><circle cx="1425" cy="1216" r="2.0"/><circle cx="989" cy="1424" r="1.2"/><circle cx="1308" cy="1378" r="1.4"/><circle cx="1600" cy="1692" r="1.7"/><circle cx="1673" cy="1527" r="1.2"/><circle cx="1159" cy="1049" r="1.7"/><circle cx="1650" cy="1406" r="1.7"/><circle cx="1443" cy="993" r="2.0"/><circle cx="1517" cy="1063" r="1.4"/><circle cx="1618" cy="1420" r="1.7"/><circle cx="1173" cy="1506" r="1.4"/><circle cx="1098" cy="1015" r="2.4"/><circle cx="1027" cy="1036" r="1.4"/><circle cx="1005" cy="1253" r="2.0"/><circle cx="1687" cy="1699" r="1.7"/><circle cx="1508" cy="1482" r="2.4"/><circle cx="1497" cy="1314" r="1.4"/><circle cx="1131" cy="1665" r="1.7"/><circle cx="1577" cy="1566" r="1.4"/><circle cx="775" cy="1692" r="2.0"/><circle cx="1475" cy="1656" r="1.4"/><circle cx="1373" cy="1257" r="1.2"/><circle cx="986" cy="1350" r="1.7"/><circle cx="1210" cy="1052" r="1.0"/><circle cx="941" cy="1417" r="2.4"/><circle cx="1581" cy="1422" r="1.2"/><circle cx="1381" cy="1528" r="2.4"/><circle cx="911" cy="1345" r="1.4"/><circle cx="888" cy="1634" r="1.2"/><circle cx="1206" cy="1548" r="1.4"/><circle cx="986" cy="1033" r="1.2"/><circle cx="1649" cy="1425" r="1.0"/><circle cx="1367" cy="1368" r="1.7"/><circle cx="938" cy="1286" r="1.7"/><circle cx="1546" cy="1474" r="2.4"/><circle cx="1113" cy="1453" r="1.7"/><circle cx="1563" cy="1673" r="1.4"/><circle cx="885" cy="1476" r="2.0"/><circle cx="1046" cy="1622" r="1.2"/><circle cx="1641" cy="1323" r="1.4"/><circle cx="1297" cy="1060" r="1.7"/><circle cx="1501" cy="1408" r="1.2"/><circle cx="1071" cy="1058" r="1.7"/><circle cx="1704" cy="1687" r="1.2"/><circle cx="1231" cy="1191" r="1.4"/><circle cx="1115" cy="1379" r="1.4"/><circle cx="1510" cy="1216" r="1.7"/><circle cx="1365" cy="1390" r="2.4"/><circle cx="1433" cy="1331" r="2.4"/><circle cx="923" cy="1670" r="2.4"/><circle cx="1407" cy="1246" r="2.0"/><circle cx="915" cy="1198" r="2.4"/><circle cx="970" cy="1681" r="1.0"/><circle cx="1151" cy="1139" r="1.0"/><circle cx="931" cy="1350" r="1.0"/><circle cx="1492" cy="1158" r="1.0"/><circle cx="1421" cy="1648" r="1.2"/><circle cx="1415" cy="1496" r="1.0"/><circle cx="993" cy="1682" r="1.0"/><circle cx="1303" cy="996" r="1.7"/><circle cx="1079" cy="1494" r="2.0"/><circle cx="928" cy="1117" r="1.2"/><circle cx="824" cy="1652" r="1.4"/><circle cx="1320" cy="1515" r="1.4"/><circle cx="1412" cy="1263" r="2.4"/><circle cx="1435" cy="1291" r="2.4"/><circle cx="1635" cy="1355" r="1.7"/><circle cx="1093" cy="1460" r="1.0"/><circle cx="1739" cy="1695" r="2.0"/><circle cx="1265" cy="1263" r="1.4"/><circle cx="1464" cy="1381" r="1.4"/><circle cx="1277" cy="1105" r="1.2"/><circle cx="873" cy="1408" r="1.0"/><circle cx="884" cy="1347" r="2.0"/><circle cx="818" cy="1343" r="1.7"/><circle cx="1277" cy="1001" r="1.0"/><circle cx="962" cy="1090" r="1.0"/><circle cx="968" cy="1575" r="1.2"/><circle cx="1513" cy="1583" r="2.0"/><circle cx="1117" cy="1228" r="1.0"/><circle cx="948" cy="1466" r="1.0"/><circle cx="1184" cy="1347" r="1.0"/><circle cx="1339" cy="1118" r="1.0"/><circle cx="986" cy="1540" r="1.0"/><circle cx="1067" cy="1046" r="1.4"/><circle cx="796" cy="1543" r="1.7"/><circle cx="970" cy="1100" r="1.4"/><circle cx="1163" cy="1651" r="1.0"/><circle cx="1444" cy="1294" r="1.2"/><circle cx="1322" cy="1343" r="2.4"/><circle cx="1384" cy="1101" r="2.4"/><circle cx="1530" cy="1192" r="1.0"/><circle cx="1064" cy="1063" r="2.4"/><circle cx="1487" cy="1126" r="1.7"/><circle cx="892" cy="1465" r="1.7"/><circle cx="985" cy="1312" r="1.2"/><circle cx="948" cy="1273" r="1.2"/><circle cx="1138" cy="1371" r="1.4"/><circle cx="993" cy="1466" r="1.2"/><circle cx="917" cy="1177" r="2.4"/><circle cx="822" cy="1347" r="1.7"/><circle cx="979" cy="1060" r="1.7"/><circle cx="1297" cy="1308" r="1.0"/><circle cx="1677" cy="1568" r="1.7"/><circle cx="1168" cy="1459" r="1.0"/><circle cx="1435" cy="1400" r="2.4"/><circle cx="766" cy="1498" r="1.0"/><circle cx="1461" cy="1237" r="2.4"/><circle cx="1571" cy="1279" r="1.4"/><circle cx="886" cy="1301" r="1.2"/><circle cx="1464" cy="1604" r="2.4"/><circle cx="1650" cy="1458" r="1.4"/><circle cx="1455" cy="1072" r="1.7"/><circle cx="877" cy="1611" r="1.0"/><circle cx="1617" cy="1697" r="1.4"/><circle cx="1588" cy="1522" r="2.0"/><circle cx="1607" cy="1408" r="2.4"/><circle cx="1525" cy="1586" r="2.0"/><circle cx="921" cy="1358" r="1.7"/><circle cx="1466" cy="1080" r="1.4"/><circle cx="1243" cy="1408" r="1.2"/><circle cx="1355" cy="1458" r="1.2"/><circle cx="1236" cy="1287" r="2.4"/><circle cx="1333" cy="1021" r="1.4"/><circle cx="1003" cy="1537" r="2.4"/><circle cx="1177" cy="1256" r="1.7"/><circle cx="975" cy="1647" r="2.0"/><circle cx="1276" cy="1376" r="1.4"/><circle cx="1132" cy="1493" r="1.4"/><circle cx="1215" cy="1509" r="1.2"/><circle cx="1468" cy="1602" r="2.4"/><circle cx="1034" cy="1245" r="1.4"/><circle cx="1472" cy="1137" r="1.2"/><circle cx="1473" cy="1172" r="1.4"/><circle cx="1431" cy="1184" r="1.0"/><circle cx="1070" cy="1281" r="1.7"/><circle cx="1407" cy="1676" r="1.2"/><circle cx="1069" cy="1325" r="2.4"/><circle cx="1536" cy="1513" r="1.7"/><circle cx="854" cy="1231" r="1.7"/><circle cx="1609" cy="1302" r="1.7"/><circle cx="1377" cy="1496" r="1.4"/><circle cx="1008" cy="1645" r="1.2"/><circle cx="1060" cy="1595" r="1.0"/><circle cx="1158" cy="1127" r="1.4"/><circle cx="1242" cy="1069" r="1.4"/><circle cx="1171" cy="1272" r="2.0"/><circle cx="1733" cy="1691" r="1.7"/><circle cx="1120" cy="1259" r="1.0"/><circle cx="1474" cy="1071" r="1.4"/><circle cx="1061" cy="1473" r="2.0"/><circle cx="1454" cy="1137" r="2.0"/><circle cx="1411" cy="1424" r="1.4"/><circle cx="821" cy="1493" r="1.2"/><circle cx="959" cy="1406" r="2.0"/><circle cx="1306" cy="1356" r="2.0"/><circle cx="963" cy="1303" r="1.7"/><circle cx="954" cy="1226" r="1.7"/><circle cx="966" cy="1598" r="1.2"/><circle cx="1062" cy="1161" r="2.4"/><circle cx="759" cy="1555" r="1.4"/><circle cx="996" cy="1541" r="1.7"/><circle cx="1199" cy="1000" r="2.4"/><circle cx="1110" cy="1152" r="2.0"/><circle cx="900" cy="1415" r="1.7"/><circle cx="1282" cy="1265" r="1.0"/><circle cx="1723" cy="1529" r="2.4"/><circle cx="1171" cy="1695" r="1.0"/><circle cx="1038" cy="1609" r="2.4"/><circle cx="1163" cy="1351" r="1.4"/><circle cx="1098" cy="1496" r="1.0"/><circle cx="1243" cy="1341" r="1.4"/><circle cx="1018" cy="1374" r="1.2"/><circle cx="1064" cy="1427" r="2.0"/><circle cx="1001" cy="1531" r="2.0"/><circle cx="837" cy="1456" r="2.0"/><circle cx="1378" cy="1088" r="2.4"/><circle cx="1586" cy="1230" r="1.7"/><circle cx="743" cy="1628" r="1.2"/><circle cx="1132" cy="1105" r="2.4"/><circle cx="923" cy="1367" r="1.4"/><circle cx="1136" cy="1155" r="2.4"/><circle cx="1189" cy="1581" r="1.4"/><circle cx="1106" cy="1620" r="1.4"/><circle cx="1419" cy="1470" r="1.7"/><circle cx="1279" cy="1559" r="2.0"/><circle cx="897" cy="1448" r="2.4"/><circle cx="911" cy="1566" r="2.0"/><circle cx="860" cy="1425" r="1.2"/><circle cx="1395" cy="1607" r="1.4"/><circle cx="1284" cy="1085" r="1.7"/><circle cx="1471" cy="1069" r="1.4"/><circle cx="1036" cy="1472" r="2.0"/><circle cx="1718" cy="1549" r="2.0"/><circle cx="1574" cy="1467" r="2.4"/><circle cx="1571" cy="1392" r="1.4"/><circle cx="1226" cy="1380" r="1.2"/><circle cx="1563" cy="1454" r="1.0"/><circle cx="803" cy="1434" r="2.0"/><circle cx="1677" cy="1680" r="2.4"/><circle cx="871" cy="1563" r="1.0"/><circle cx="902" cy="1578" r="2.0"/><circle cx="956" cy="1052" r="2.4"/><circle cx="1185" cy="1159" r="1.2"/><circle cx="928" cy="1628" r="1.4"/><circle cx="1338" cy="1084" r="1.4"/><circle cx="1360" cy="1076" r="1.2"/><circle cx="1439" cy="1467" r="1.4"/><circle cx="1663" cy="1633" r="1.2"/><circle cx="1536" cy="1189" r="1.0"/><circle cx="1551" cy="1510" r="1.2"/><circle cx="1036" cy="1664" r="2.4"/><circle cx="1286" cy="1425" r="1.2"/><circle cx="1111" cy="1375" r="1.7"/><circle cx="1526" cy="1314" r="1.2"/><circle cx="998" cy="1667" r="2.0"/><circle cx="974" cy="1483" r="1.7"/><circle cx="1171" cy="1551" r="1.7"/><circle cx="1243" cy="1346" r="1.0"/><circle cx="1360" cy="1534" r="2.4"/><circle cx="1086" cy="1139" r="1.4"/><circle cx="1229" cy="1638" r="1.7"/><circle cx="880" cy="1533" r="1.7"/><circle cx="1239" cy="1549" r="1.2"/><circle cx="1390" cy="1167" r="2.0"/><circle cx="1003" cy="1441" r="1.7"/><circle cx="1009" cy="1411" r="1.2"/><circle cx="1044" cy="1563" r="1.4"/><circle cx="980" cy="1580" r="2.0"/><circle cx="1286" cy="1390" r="1.2"/><circle cx="1438" cy="1111" r="2.4"/><circle cx="1604" cy="1548" r="2.4"/><circle cx="1166" cy="1322" r="2.4"/><circle cx="1451" cy="1300" r="1.0"/><circle cx="1381" cy="1298" r="1.4"/><circle cx="1312" cy="1125" r="1.7"/><circle cx="1321" cy="1127" r="2.4"/><circle cx="1236" cy="1584" r="1.0"/><circle cx="1725" cy="1609" r="1.7"/><circle cx="759" cy="1535" r="2.0"/><circle cx="1591" cy="1690" r="2.4"/><circle cx="1465" cy="1152" r="2.0"/><circle cx="896" cy="1236" r="1.0"/><circle cx="1212" cy="1036" r="2.4"/><circle cx="882" cy="1208" r="1.4"/><circle cx="1284" cy="1510" r="1.0"/><circle cx="931" cy="1172" r="1.0"/><circle cx="989" cy="1119" r="1.0"/><circle cx="1028" cy="1318" r="1.4"/><circle cx="969" cy="1614" r="1.7"/><circle cx="831" cy="1485" r="1.0"/><circle cx="758" cy="1527" r="1.7"/><circle cx="1388" cy="1369" r="1.2"/><circle cx="1040" cy="1042" r="2.0"/><circle cx="1487" cy="1471" r="2.0"/><circle cx="1508" cy="1580" r="1.7"/><circle cx="1001" cy="1578" r="1.7"/><circle cx="941" cy="1666" r="1.2"/><circle cx="841" cy="1476" r="1.7"/><circle cx="1363" cy="1439" r="1.2"/><circle cx="1202" cy="1083" r="1.4"/><circle cx="1165" cy="1441" r="1.2"/><circle cx="866" cy="1269" r="1.0"/><circle cx="1394" cy="1006" r="1.7"/><circle cx="1458" cy="1359" r="1.2"/><circle cx="1065" cy="1081" r="2.4"/><circle cx="1023" cy="1555" r="2.4"/><circle cx="1469" cy="1038" r="1.4"/><circle cx="746" cy="1504" r="1.4"/><circle cx="1442" cy="1427" r="2.4"/><circle cx="1234" cy="1285" r="1.0"/><circle cx="841" cy="1319" r="1.7"/><circle cx="1166" cy="1152" r="1.2"/><circle cx="1050" cy="1449" r="1.7"/><circle cx="1123" cy="1526" r="1.4"/><circle cx="1575" cy="1406" r="2.4"/><circle cx="1180" cy="1610" r="1.2"/><circle cx="877" cy="1267" r="2.0"/><circle cx="1003" cy="1098" r="2.0"/><circle cx="1000" cy="1585" r="1.0"/><circle cx="1295" cy="1286" r="1.0"/><circle cx="1349" cy="1461" r="1.4"/><circle cx="1502" cy="1063" r="1.0"/><circle cx="1135" cy="1349" r="1.0"/><circle cx="1551" cy="1249" r="1.7"/><circle cx="1236" cy="1443" r="1.0"/><circle cx="1287" cy="1419" r="1.0"/><circle cx="860" cy="1573" r="1.7"/><circle cx="1172" cy="1406" r="1.4"/><circle cx="1481" cy="1059" r="2.4"/><circle cx="1138" cy="1414" r="1.0"/><circle cx="1431" cy="1407" r="2.4"/><circle cx="1604" cy="1471" r="1.4"/><circle cx="911" cy="1300" r="1.4"/><circle cx="1188" cy="1221" r="2.0"/><circle cx="1002" cy="1446" r="1.0"/><circle cx="816" cy="1357" r="1.4"/><circle cx="955" cy="1072" r="2.0"/><circle cx="1573" cy="1197" r="1.4"/><circle cx="1103" cy="1283" r="2.0"/><circle cx="1001" cy="1687" r="1.2"/><circle cx="1735" cy="1660" r="1.4"/><circle cx="1690" cy="1598" r="1.2"/><circle cx="858" cy="1379" r="1.2"/><circle cx="1550" cy="1386" r="1.0"/><circle cx="984" cy="1489" r="1.4"/><circle cx="986" cy="1428" r="1.2"/><circle cx="1129" cy="1114" r="2.4"/><circle cx="818" cy="1459" r="1.0"/><circle cx="909" cy="1446" r="2.0"/><circle cx="1425" cy="1021" r="1.2"/><circle cx="1422" cy="1129" r="2.4"/><circle cx="1434" cy="1516" r="2.4"/><circle cx="1013" cy="1457" r="1.7"/><circle cx="1248" cy="1123" r="1.2"/><circle cx="1709" cy="1542" r="2.0"/><circle cx="1197" cy="1586" r="1.2"/><circle cx="1420" cy="1044" r="2.0"/><circle cx="1682" cy="1582" r="1.4"/><circle cx="1634" cy="1316" r="1.4"/><circle cx="1040" cy="1252" r="1.2"/><circle cx="1586" cy="1465" r="1.2"/><circle cx="811" cy="1623" r="2.0"/><circle cx="937" cy="1229" r="1.0"/><circle cx="1258" cy="1092" r="2.0"/><circle cx="949" cy="1592" r="1.4"/><circle cx="1662" cy="1664" r="1.2"/><circle cx="1109" cy="999" r="2.4"/><circle cx="1105" cy="990" r="1.2"/><circle cx="1133" cy="1161" r="2.0"/><circle cx="822" cy="1494" r="2.0"/><circle cx="1403" cy="1054" r="1.7"/><circle cx="1014" cy="1679" r="1.4"/><circle cx="1308" cy="1013" r="1.0"/><circle cx="1504" cy="1410" r="2.4"/><circle cx="1449" cy="1565" r="2.4"/><circle cx="1217" cy="1094" r="1.7"/><circle cx="878" cy="1373" r="1.4"/><circle cx="1074" cy="1104" r="1.0"/><circle cx="1446" cy="1397" r="2.4"/><circle cx="1364" cy="1415" r="1.2"/><circle cx="1553" cy="1392" r="1.4"/><circle cx="1240" cy="1017" r="1.4"/><circle cx="1444" cy="1651" r="2.4"/><circle cx="987" cy="1185" r="1.7"/><circle cx="1517" cy="1306" r="1.7"/><circle cx="1199" cy="1392" r="1.0"/><circle cx="1426" cy="1114" r="1.0"/><circle cx="974" cy="1475" r="2.4"/><circle cx="1225" cy="1227" r="1.4"/><circle cx="1533" cy="1439" r="1.2"/><circle cx="1177" cy="1038" r="1.0"/><circle cx="1142" cy="1668" r="1.7"/><circle cx="958" cy="1088" r="1.0"/><circle cx="1321" cy="1159" r="1.4"/><circle cx="1366" cy="1285" r="1.0"/><circle cx="1382" cy="1349" r="1.4"/><circle cx="758" cy="1549" r="1.7"/><circle cx="928" cy="1228" r="1.0"/><circle cx="748" cy="1588" r="1.7"/><circle cx="1600" cy="1338" r="1.7"/><circle cx="1710" cy="1584" r="2.0"/><circle cx="1108" cy="1214" r="1.7"/><circle cx="1364" cy="1281" r="1.0"/><circle cx="1232" cy="1364" r="1.0"/><circle cx="1224" cy="1277" r="1.0"/><circle cx="1230" cy="1297" r="2.0"/><circle cx="1333" cy="1072" r="2.0"/><circle cx="1201" cy="1534" r="1.4"/><circle cx="767" cy="1614" r="2.4"/><circle cx="1331" cy="1465" r="1.0"/><circle cx="1567" cy="1626" r="1.2"/><circle cx="1080" cy="1323" r="1.0"/><circle cx="1023" cy="1530" r="2.0"/><circle cx="961" cy="1576" r="1.7"/><circle cx="1656" cy="1392" r="2.4"/><circle cx="1286" cy="1506" r="1.2"/><circle cx="1359" cy="1329" r="2.4"/><circle cx="1017" cy="1463" r="1.2"/><circle cx="1048" cy="1612" r="1.0"/><circle cx="1504" cy="1163" r="2.4"/><circle cx="889" cy="1176" r="2.4"/><circle cx="1111" cy="1151" r="2.4"/><circle cx="1456" cy="1685" r="1.4"/><circle cx="1350" cy="1091" r="1.0"/><circle cx="973" cy="1356" r="1.7"/><circle cx="1180" cy="1589" r="1.4"/><circle cx="997" cy="1340" r="1.0"/><circle cx="887" cy="1587" r="1.7"/><circle cx="1576" cy="1474" r="2.4"/><circle cx="1031" cy="1488" r="2.0"/><circle cx="1620" cy="1596" r="1.7"/><circle cx="1240" cy="1092" r="1.0"/><circle cx="942" cy="1657" r="1.4"/><circle cx="955" cy="991" r="1.4"/><circle cx="820" cy="1534" r="1.7"/><circle cx="1370" cy="1581" r="1.4"/><circle cx="910" cy="1491" r="1.7"/><circle cx="1421" cy="1593" r="2.0"/><circle cx="1179" cy="1562" r="2.0"/><circle cx="1276" cy="1086" r="1.4"/><circle cx="1435" cy="1468" r="1.0"/><circle cx="927" cy="1207" r="1.0"/><circle cx="1034" cy="1060" r="1.4"/><circle cx="1663" cy="1472" r="2.0"/><circle cx="1078" cy="1615" r="1.2"/><circle cx="933" cy="1652" r="1.0"/><circle cx="814" cy="1464" r="1.0"/><circle cx="849" cy="1312" r="1.0"/><circle cx="1615" cy="1281" r="1.7"/><circle cx="840" cy="1272" r="1.2"/><circle cx="968" cy="1550" r="2.4"/><circle cx="1075" cy="1312" r="1.4"/><circle cx="1437" cy="1080" r="1.7"/><circle cx="1019" cy="1073" r="1.7"/><circle cx="1053" cy="1191" r="2.4"/><circle cx="1535" cy="1206" r="2.0"/><circle cx="1665" cy="1657" r="1.7"/><circle cx="1158" cy="1341" r="1.7"/><circle cx="826" cy="1346" r="2.4"/><circle cx="880" cy="1297" r="1.0"/><circle cx="1213" cy="1261" r="1.4"/><circle cx="1106" cy="1078" r="2.4"/><circle cx="1461" cy="1050" r="1.7"/><circle cx="1397" cy="1208" r="2.0"/><circle cx="1571" cy="1194" r="2.0"/><circle cx="1210" cy="1675" r="1.2"/><circle cx="898" cy="1170" r="2.0"/><circle cx="1614" cy="1283" r="1.0"/><circle cx="1001" cy="1371" r="1.7"/><circle cx="1104" cy="1578" r="1.2"/><circle cx="1158" cy="1004" r="1.7"/><circle cx="1467" cy="1486" r="2.4"/><circle cx="1469" cy="1053" r="1.2"/><circle cx="1038" cy="1134" r="1.4"/><circle cx="1311" cy="1622" r="1.7"/><circle cx="1369" cy="1250" r="1.0"/><circle cx="951" cy="1209" r="1.0"/><circle cx="1318" cy="1308" r="1.7"/><circle cx="1398" cy="1395" r="2.4"/><circle cx="896" cy="1657" r="2.0"/><circle cx="1240" cy="1693" r="1.4"/><circle cx="976" cy="1214" r="1.7"/><circle cx="1470" cy="1016" r="1.7"/><circle cx="1297" cy="1137" r="1.0"/><circle cx="1025" cy="1046" r="1.2"/><circle cx="962" cy="1544" r="1.7"/><circle cx="799" cy="1510" r="1.2"/><circle cx="1404" cy="1479" r="1.7"/><circle cx="877" cy="1365" r="2.4"/><circle cx="1029" cy="1038" r="2.0"/><circle cx="1053" cy="1294" r="1.0"/><circle cx="755" cy="1513" r="2.4"/><circle cx="1465" cy="1254" r="1.2"/><circle cx="994" cy="1322" r="1.2"/><circle cx="1556" cy="1312" r="2.4"/><circle cx="1643" cy="1529" r="1.2"/><circle cx="1331" cy="1454" r="1.7"/><circle cx="1502" cy="1036" r="1.4"/><circle cx="1266" cy="1443" r="1.0"/><circle cx="1289" cy="1263" r="2.0"/><circle cx="1176" cy="1607" r="2.4"/><circle cx="1457" cy="1204" r="1.2"/><circle cx="1307" cy="1147" r="1.2"/><circle cx="1461" cy="1238" r="1.7"/><circle cx="1307" cy="1569" r="1.7"/><circle cx="805" cy="1604" r="2.0"/><circle cx="1279" cy="1266" r="2.4"/><circle cx="1043" cy="1138" r="2.4"/><circle cx="1284" cy="1527" r="1.7"/><circle cx="1517" cy="1484" r="1.4"/><circle cx="1402" cy="1533" r="2.4"/><circle cx="1497" cy="1559" r="2.0"/><circle cx="1406" cy="1136" r="2.0"/><circle cx="1224" cy="1121" r="1.2"/><circle cx="870" cy="1284" r="1.4"/><circle cx="840" cy="1523" r="1.2"/><circle cx="1499" cy="1284" r="2.4"/><circle cx="1626" cy="1656" r="1.4"/><circle cx="1504" cy="1472" r="2.0"/><circle cx="1072" cy="1457" r="2.4"/><circle cx="1049" cy="1131" r="1.7"/><circle cx="990" cy="1233" r="2.4"/><circle cx="1577" cy="1209" r="1.0"/><circle cx="1246" cy="1667" r="1.2"/><circle cx="937" cy="1073" r="1.4"/><circle cx="1071" cy="1351" r="1.7"/><circle cx="976" cy="1401" r="1.7"/><circle cx="1231" cy="1250" r="2.0"/><circle cx="1513" cy="1504" r="1.4"/><circle cx="1151" cy="1432" r="1.4"/><circle cx="1296" cy="1328" r="1.4"/><circle cx="984" cy="1480" r="1.2"/><circle cx="1669" cy="1620" r="1.0"/><circle cx="922" cy="1362" r="1.2"/><circle cx="1269" cy="1582" r="1.4"/><circle cx="1602" cy="1255" r="1.0"/><circle cx="917" cy="1435" r="1.7"/><circle cx="1251" cy="1328" r="1.0"/><circle cx="1449" cy="1019" r="1.4"/><circle cx="1078" cy="1335" r="2.0"/><circle cx="1261" cy="1114" r="2.4"/><circle cx="819" cy="1432" r="1.7"/><circle cx="1504" cy="1324" r="1.7"/><circle cx="1066" cy="1273" r="1.4"/><circle cx="1221" cy="1131" r="2.0"/><circle cx="1590" cy="1540" r="2.4"/><circle cx="950" cy="1533" r="1.4"/><circle cx="1523" cy="1503" r="1.4"/><circle cx="1091" cy="1046" r="1.0"/><circle cx="1490" cy="1021" r="2.4"/><circle cx="1114" cy="1560" r="1.7"/><circle cx="997" cy="1233" r="2.0"/><circle cx="902" cy="1135" r="1.4"/><circle cx="1414" cy="1292" r="2.4"/><circle cx="1690" cy="1669" r="1.0"/><circle cx="1262" cy="1591" r="1.0"/><circle cx="1341" cy="1001" r="1.7"/><circle cx="1170" cy="1412" r="1.4"/><circle cx="1002" cy="1011" r="2.0"/><circle cx="997" cy="1019" r="1.2"/><circle cx="1193" cy="1137" r="1.2"/><circle cx="969" cy="1010" r="2.4"/><circle cx="1401" cy="1404" r="1.2"/><circle cx="1219" cy="1247" r="1.0"/><circle cx="1166" cy="1485" r="2.0"/><circle cx="1698" cy="1587" r="2.4"/><circle cx="1615" cy="1278" r="1.2"/><circle cx="1225" cy="1339" r="1.2"/><circle cx="1517" cy="1277" r="1.2"/><circle cx="1236" cy="1651" r="1.4"/><circle cx="993" cy="1160" r="1.7"/><circle cx="820" cy="1594" r="2.0"/><circle cx="1245" cy="1692" r="1.2"/><circle cx="957" cy="1152" r="1.0"/><circle cx="1149" cy="1015" r="1.7"/><circle cx="1216" cy="1614" r="2.4"/><circle cx="1138" cy="1523" r="2.4"/><circle cx="931" cy="1384" r="2.0"/><circle cx="1195" cy="1324" r="1.0"/><circle cx="1073" cy="1575" r="1.4"/><circle cx="935" cy="1066" r="2.4"/><circle cx="1486" cy="1227" r="2.0"/><circle cx="1519" cy="1356" r="2.0"/><circle cx="872" cy="1476" r="1.0"/><circle cx="1392" cy="1408" r="1.7"/><circle cx="1312" cy="1289" r="1.0"/><circle cx="852" cy="1292" r="1.7"/><circle cx="1252" cy="1357" r="1.2"/><circle cx="1158" cy="1254" r="2.0"/><circle cx="1460" cy="1271" r="1.7"/><circle cx="1448" cy="1608" r="2.4"/><circle cx="1052" cy="1031" r="1.2"/><circle cx="1577" cy="1161" r="1.4"/><circle cx="1566" cy="1611" r="1.7"/><circle cx="1175" cy="1073" r="1.2"/><circle cx="1538" cy="1603" r="1.4"/><circle cx="837" cy="1412" r="2.4"/><circle cx="1453" cy="1316" r="1.2"/><circle cx="941" cy="1504" r="1.7"/><circle cx="1402" cy="1326" r="2.0"/><circle cx="854" cy="1484" r="1.0"/><circle cx="1151" cy="1167" r="2.4"/><circle cx="1469" cy="1076" r="1.2"/><circle cx="1171" cy="1144" r="1.4"/><circle cx="813" cy="1424" r="1.2"/><circle cx="1466" cy="1358" r="2.4"/><circle cx="1341" cy="1069" r="1.7"/><circle cx="1233" cy="1589" r="1.7"/><circle cx="847" cy="1388" r="1.2"/><circle cx="1605" cy="1370" r="1.2"/><circle cx="1643" cy="1356" r="1.4"/><circle cx="1655" cy="1476" r="1.7"/><circle cx="1522" cy="1101" r="1.4"/><circle cx="1439" cy="1141" r="2.0"/><circle cx="1061" cy="1271" r="1.4"/><circle cx="1134" cy="1327" r="1.7"/><circle cx="879" cy="1249" r="1.0"/><circle cx="1156" cy="1644" r="1.4"/><circle cx="901" cy="1641" r="1.4"/><circle cx="1419" cy="1261" r="1.4"/><circle cx="1656" cy="1699" r="1.7"/><circle cx="1246" cy="1414" r="1.2"/><circle cx="902" cy="1229" r="2.4"/><circle cx="1509" cy="1178" r="2.4"/><circle cx="1449" cy="1298" r="1.0"/><circle cx="1232" cy="1415" r="1.4"/><circle cx="1565" cy="1549" r="2.4"/><circle cx="1530" cy="1550" r="2.4"/><circle cx="1484" cy="1392" r="2.4"/><circle cx="888" cy="1173" r="2.0"/><circle cx="800" cy="1437" r="1.7"/><circle cx="918" cy="1337" r="2.0"/><circle cx="1492" cy="1232" r="1.0"/><circle cx="1590" cy="1207" r="1.0"/><circle cx="1128" cy="1544" r="2.0"/><circle cx="1025" cy="1062" r="1.2"/><circle cx="1696" cy="1595" r="2.0"/><circle cx="1379" cy="1474" r="1.4"/><circle cx="1001" cy="1423" r="1.2"/><circle cx="1348" cy="1238" r="1.2"/><circle cx="1391" cy="1231" r="1.4"/><circle cx="974" cy="1107" r="2.4"/><circle cx="1023" cy="1400" r="1.0"/><circle cx="1287" cy="1012" r="1.4"/><circle cx="1247" cy="1328" r="2.0"/><circle cx="1315" cy="1107" r="1.4"/><circle cx="1046" cy="1092" r="2.0"/><circle cx="1032" cy="1572" r="2.4"/><circle cx="882" cy="1623" r="2.4"/><circle cx="879" cy="1458" r="1.4"/><circle cx="900" cy="1309" r="1.7"/><circle cx="1133" cy="1080" r="1.7"/><circle cx="859" cy="1220" r="1.2"/><circle cx="1134" cy="1558" r="1.0"/><circle cx="1263" cy="1420" r="1.7"/><circle cx="1606" cy="1644" r="2.0"/><circle cx="1288" cy="1436" r="1.0"/><circle cx="1302" cy="1423" r="1.2"/><circle cx="1138" cy="1372" r="1.0"/><circle cx="905" cy="1655" r="1.7"/><circle cx="1536" cy="1616" r="1.4"/><circle cx="777" cy="1521" r="1.4"/><circle cx="1431" cy="1254" r="1.4"/><circle cx="1388" cy="1646" r="1.7"/><circle cx="1192" cy="1567" r="1.4"/><circle cx="1032" cy="1493" r="1.0"/><circle cx="1484" cy="1617" r="1.4"/><circle cx="1449" cy="1367" r="2.4"/><circle cx="1603" cy="1530" r="2.0"/><circle cx="1326" cy="1309" r="1.2"/><circle cx="1627" cy="1559" r="1.4"/><circle cx="1364" cy="1483" r="2.4"/><circle cx="1550" cy="1366" r="2.0"/><circle cx="1656" cy="1372" r="1.2"/><circle cx="862" cy="1467" r="2.4"/><circle cx="1359" cy="1579" r="1.0"/><circle cx="1518" cy="1098" r="2.0"/><circle cx="1593" cy="1599" r="2.4"/><circle cx="1311" cy="1678" r="1.4"/><circle cx="725" cy="1584" r="1.2"/><circle cx="1417" cy="1206" r="2.4"/><circle cx="1523" cy="1646" r="1.0"/><circle cx="1093" cy="1616" r="2.4"/><circle cx="1359" cy="1082" r="2.0"/><circle cx="1545" cy="1366" r="2.4"/><circle cx="727" cy="1627" r="2.4"/><circle cx="1443" cy="1382" r="2.0"/><circle cx="873" cy="1230" r="2.4"/><circle cx="1569" cy="1272" r="2.0"/><circle cx="798" cy="1395" r="1.4"/><circle cx="959" cy="1455" r="2.4"/><circle cx="800" cy="1635" r="2.0"/><circle cx="1675" cy="1402" r="2.0"/><circle cx="1338" cy="1236" r="2.4"/><circle cx="943" cy="1296" r="1.7"/><circle cx="849" cy="1290" r="2.4"/><circle cx="1575" cy="1671" r="1.2"/><circle cx="966" cy="1232" r="1.7"/><circle cx="1001" cy="1030" r="2.0"/><circle cx="1149" cy="1643" r="2.0"/><circle cx="1119" cy="1507" r="2.4"/><circle cx="1308" cy="1438" r="1.2"/><circle cx="1203" cy="1319" r="1.4"/><circle cx="1131" cy="1059" r="2.0"/><circle cx="1051" cy="1442" r="2.0"/><circle cx="1621" cy="1596" r="1.7"/><circle cx="1098" cy="1424" r="2.0"/><circle cx="1082" cy="1238" r="2.0"/><circle cx="1490" cy="1662" r="1.4"/><circle cx="1059" cy="1499" r="1.4"/><circle cx="866" cy="1551" r="1.0"/><circle cx="1324" cy="1576" r="1.0"/><circle cx="1193" cy="1688" r="1.4"/><circle cx="1728" cy="1655" r="1.0"/><circle cx="1139" cy="1173" r="1.4"/><circle cx="980" cy="1008" r="2.0"/><circle cx="990" cy="1388" r="1.4"/><circle cx="795" cy="1385" r="2.4"/><circle cx="1691" cy="1613" r="1.4"/><circle cx="1653" cy="1528" r="1.4"/><circle cx="1147" cy="1660" r="1.4"/><circle cx="1262" cy="1316" r="2.0"/><circle cx="1434" cy="1237" r="1.2"/><circle cx="1702" cy="1517" r="1.7"/><circle cx="1181" cy="1158" r="1.2"/><circle cx="1002" cy="1358" r="2.4"/><circle cx="1206" cy="1544" r="1.4"/><circle cx="1139" cy="1387" r="1.2"/><circle cx="807" cy="1685" r="2.0"/><circle cx="1270" cy="1398" r="1.2"/><circle cx="1538" cy="1577" r="1.4"/><circle cx="910" cy="1282" r="2.0"/><circle cx="1023" cy="1127" r="2.4"/><circle cx="815" cy="1496" r="1.2"/><circle cx="851" cy="1304" r="2.0"/><circle cx="1603" cy="1616" r="1.2"/><circle cx="1452" cy="1689" r="1.0"/><circle cx="1334" cy="1249" r="1.0"/><circle cx="968" cy="1065" r="1.7"/><circle cx="935" cy="1043" r="2.4"/><circle cx="955" cy="1153" r="1.0"/><circle cx="1170" cy="1690" r="1.4"/><circle cx="1166" cy="1696" r="1.2"/><circle cx="1535" cy="1324" r="1.2"/><circle cx="1052" cy="1555" r="1.2"/><circle cx="1269" cy="1472" r="1.0"/><circle cx="1184" cy="1642" r="1.0"/><circle cx="1536" cy="1596" r="1.0"/><circle cx="1347" cy="1528" r="1.7"/><circle cx="860" cy="1604" r="1.7"/><circle cx="911" cy="1319" r="2.0"/><circle cx="818" cy="1416" r="2.0"/><circle cx="884" cy="1254" r="2.0"/><circle cx="1366" cy="1514" r="1.2"/><circle cx="1177" cy="1570" r="1.7"/><circle cx="1236" cy="1341" r="2.0"/><circle cx="1388" cy="1605" r="1.2"/><circle cx="953" cy="1582" r="1.4"/><circle cx="1208" cy="1519" r="2.4"/><circle cx="1712" cy="1614" r="1.7"/><circle cx="1368" cy="1134" r="1.4"/><circle cx="1144" cy="1672" r="1.4"/><circle cx="1386" cy="1127" r="1.4"/><circle cx="927" cy="1631" r="1.2"/><circle cx="1700" cy="1518" r="2.0"/><circle cx="779" cy="1463" r="1.0"/><circle cx="1345" cy="1564" r="1.0"/><circle cx="745" cy="1673" r="2.0"/><circle cx="1577" cy="1520" r="1.4"/><circle cx="1735" cy="1643" r="2.4"/><circle cx="1474" cy="1487" r="1.2"/><circle cx="1323" cy="1102" r="2.4"/><circle cx="1452" cy="1320" r="2.0"/><circle cx="994" cy="1644" r="2.0"/><circle cx="1200" cy="1194" r="1.4"/><circle cx="738" cy="1537" r="1.0"/><circle cx="1646" cy="1568" r="1.0"/><circle cx="1257" cy="1598" r="2.4"/><circle cx="1212" cy="1584" r="1.0"/><circle cx="1532" cy="1076" r="1.0"/><circle cx="1119" cy="1613" r="2.0"/><circle cx="1570" cy="1356" r="1.2"/><circle cx="1126" cy="1147" r="2.4"/><circle cx="1053" cy="991" r="2.0"/><circle cx="1145" cy="1538" r="2.0"/><circle cx="1316" cy="1691" r="2.4"/><circle cx="1670" cy="1674" r="1.0"/><circle cx="901" cy="1155" r="1.2"/><circle cx="1053" cy="1232" r="1.0"/><circle cx="1074" cy="1462" r="2.0"/><circle cx="1439" cy="1359" r="1.2"/><circle cx="1065" cy="1284" r="2.4"/><circle cx="1182" cy="1655" r="1.2"/><circle cx="1037" cy="1592" r="2.4"/><circle cx="1117" cy="1153" r="2.0"/><circle cx="1115" cy="1055" r="1.0"/><circle cx="1039" cy="1078" r="1.0"/><circle cx="1431" cy="1013" r="1.0"/><circle cx="1460" cy="1576" r="2.0"/><circle cx="1262" cy="1431" r="1.7"/><circle cx="1125" cy="1181" r="1.2"/><circle cx="1378" cy="1231" r="1.7"/><circle cx="991" cy="1352" r="1.0"/><circle cx="953" cy="1204" r="2.0"/><circle cx="1401" cy="1402" r="2.0"/><circle cx="1096" cy="990" r="2.0"/><circle cx="1532" cy="1080" r="1.0"/><circle cx="1376" cy="1590" r="1.2"/><circle cx="1227" cy="994" r="1.4"/><circle cx="1095" cy="1572" r="1.7"/><circle cx="970" cy="1220" r="1.7"/><circle cx="990" cy="1222" r="1.2"/><circle cx="740" cy="1584" r="2.4"/><circle cx="1329" cy="1460" r="2.4"/><circle cx="959" cy="1629" r="1.7"/><circle cx="1393" cy="1581" r="1.7"/><circle cx="1234" cy="1388" r="1.0"/><circle cx="1275" cy="1125" r="2.0"/><circle cx="1356" cy="1258" r="1.0"/><circle cx="1394" cy="1129" r="2.0"/><circle cx="1606" cy="1633" r="1.0"/><circle cx="1175" cy="1072" r="2.0"/><circle cx="1601" cy="1572" r="1.7"/><circle cx="1005" cy="1130" r="1.7"/><circle cx="1309" cy="1468" r="1.2"/><circle cx="979" cy="1282" r="1.7"/><circle cx="1537" cy="1121" r="1.2"/><circle cx="1398" cy="1091" r="2.4"/><circle cx="1491" cy="1139" r="2.0"/><circle cx="909" cy="1267" r="1.7"/><circle cx="1079" cy="1619" r="2.4"/><circle cx="1398" cy="1684" r="1.0"/><circle cx="1326" cy="1366" r="1.0"/><circle cx="1411" cy="1398" r="2.0"/><circle cx="1494" cy="1065" r="1.4"/><circle cx="966" cy="1408" r="2.0"/><circle cx="1469" cy="1391" r="2.0"/><circle cx="1274" cy="1586" r="1.2"/><circle cx="1509" cy="1372" r="2.4"/><circle cx="1541" cy="1648" r="1.0"/><circle cx="1715" cy="1530" r="1.2"/><circle cx="889" cy="1273" r="1.2"/><circle cx="1161" cy="1323" r="2.4"/><circle cx="1447" cy="1337" r="1.7"/><circle cx="1143" cy="1181" r="1.4"/><circle cx="1734" cy="1699" r="2.4"/><circle cx="990" cy="1465" r="1.7"/><circle cx="1433" cy="1021" r="1.7"/><circle cx="1086" cy="1008" r="1.7"/><circle cx="888" cy="1582" r="1.4"/><circle cx="828" cy="1334" r="1.0"/><circle cx="1624" cy="1302" r="1.4"/><circle cx="1210" cy="1187" r="1.4"/><circle cx="1118" cy="1085" r="1.0"/><circle cx="1362" cy="1051" r="1.4"/><circle cx="1008" cy="1240" r="1.4"/><circle cx="1049" cy="1283" r="2.0"/><circle cx="1098" cy="1274" r="1.7"/><circle cx="854" cy="1391" r="2.0"/><circle cx="1310" cy="1674" r="2.4"/><circle cx="1328" cy="1584" r="1.2"/><circle cx="1063" cy="1016" r="1.2"/><circle cx="1268" cy="1403" r="1.0"/><circle cx="1147" cy="1338" r="1.7"/><circle cx="1002" cy="1625" r="1.2"/><circle cx="1217" cy="1117" r="2.4"/><circle cx="936" cy="1555" r="1.0"/><circle cx="1427" cy="1172" r="1.0"/><circle cx="840" cy="1622" r="1.4"/><circle cx="1225" cy="1149" r="1.0"/><circle cx="1634" cy="1329" r="1.4"/><circle cx="1593" cy="1638" r="1.2"/><circle cx="1616" cy="1397" r="2.0"/><circle cx="875" cy="1331" r="1.7"/><circle cx="1461" cy="1506" r="1.2"/><circle cx="1242" cy="1423" r="1.0"/><circle cx="772" cy="1609" r="1.2"/><circle cx="1655" cy="1448" r="2.0"/><circle cx="1245" cy="1404" r="1.7"/><circle cx="935" cy="1549" r="1.4"/><circle cx="1037" cy="1582" r="1.0"/><circle cx="1665" cy="1689" r="1.0"/><circle cx="956" cy="1171" r="1.2"/><circle cx="983" cy="1518" r="1.0"/><circle cx="862" cy="1349" r="1.2"/><circle cx="1631" cy="1310" r="1.0"/><circle cx="1042" cy="1220" r="1.7"/><circle cx="1525" cy="1122" r="1.4"/><circle cx="1512" cy="1333" r="1.0"/><circle cx="1489" cy="1291" r="1.2"/><circle cx="949" cy="1613" r="1.2"/><circle cx="961" cy="1220" r="2.4"/><circle cx="1455" cy="1014" r="2.0"/><circle cx="848" cy="1351" r="1.7"/><circle cx="1314" cy="1307" r="1.4"/><circle cx="1066" cy="1157" r="2.0"/><circle cx="1372" cy="1678" r="1.4"/><circle cx="1532" cy="1531" r="1.7"/><circle cx="1221" cy="1142" r="2.4"/><circle cx="853" cy="1423" r="2.0"/><circle cx="1507" cy="1480" r="1.0"/><circle cx="1308" cy="1139" r="1.0"/><circle cx="965" cy="1687" r="1.0"/><circle cx="906" cy="1129" r="1.7"/><circle cx="1510" cy="1357" r="1.0"/><circle cx="771" cy="1516" r="1.4"/><circle cx="977" cy="1555" r="2.0"/><circle cx="1129" cy="1328" r="1.0"/><circle cx="1316" cy="1159" r="2.0"/><circle cx="1183" cy="1031" r="2.4"/><circle cx="1165" cy="1400" r="2.0"/><circle cx="1375" cy="1119" r="2.0"/><circle cx="1582" cy="1404" r="1.0"/><circle cx="1451" cy="1004" r="2.0"/><circle cx="988" cy="1369" r="1.7"/><circle cx="1561" cy="1322" r="2.4"/><circle cx="1609" cy="1263" r="1.7"/><circle cx="966" cy="1224" r="1.2"/><circle cx="1578" cy="1630" r="1.4"/><circle cx="974" cy="1041" r="2.4"/><circle cx="1358" cy="1009" r="2.4"/><circle cx="1027" cy="1428" r="1.4"/><circle cx="1420" cy="1104" r="1.4"/><circle cx="955" cy="1053" r="1.7"/><circle cx="1320" cy="1063" r="1.2"/><circle cx="1249" cy="1599" r="1.4"/><circle cx="1376" cy="1397" r="1.7"/><circle cx="1288" cy="1642" r="1.7"/><circle cx="1050" cy="1672" r="1.0"/><circle cx="1359" cy="1352" r="1.7"/><circle cx="1087" cy="1167" r="1.2"/><circle cx="1438" cy="1414" r="2.4"/><circle cx="1356" cy="1021" r="1.7"/><circle cx="1183" cy="1583" r="2.0"/><circle cx="870" cy="1235" r="2.4"/><circle cx="1647" cy="1377" r="1.2"/><circle cx="917" cy="1586" r="2.4"/><circle cx="1707" cy="1681" r="1.4"/><circle cx="1195" cy="1565" r="1.4"/><circle cx="1411" cy="1120" r="2.0"/><circle cx="1442" cy="995" r="1.0"/><circle cx="1679" cy="1591" r="2.0"/><circle cx="1171" cy="1658" r="2.0"/><circle cx="1310" cy="1119" r="1.4"/><circle cx="1656" cy="1628" r="2.4"/><circle cx="767" cy="1456" r="2.4"/><circle cx="941" cy="1091" r="1.0"/><circle cx="797" cy="1607" r="2.0"/><circle cx="1108" cy="1246" r="1.0"/><circle cx="1049" cy="1633" r="2.0"/><circle cx="1469" cy="1092" r="2.0"/><circle cx="1055" cy="1460" r="2.4"/><circle cx="948" cy="1390" r="1.7"/><circle cx="1035" cy="1373" r="1.2"/><circle cx="882" cy="1334" r="2.4"/><circle cx="1108" cy="1531" r="1.7"/><circle cx="1511" cy="1207" r="1.0"/><circle cx="1744" cy="1665" r="1.7"/><circle cx="1214" cy="1462" r="2.0"/><circle cx="1319" cy="1042" r="1.7"/><circle cx="1593" cy="1393" r="2.0"/><circle cx="1576" cy="1320" r="1.2"/><circle cx="1114" cy="1382" r="1.0"/><circle cx="1413" cy="1262" r="1.4"/><circle cx="1741" cy="1635" r="2.4"/><circle cx="1099" cy="1337" r="1.2"/><circle cx="1010" cy="1561" r="2.4"/><circle cx="882" cy="1689" r="2.4"/><circle cx="994" cy="1582" r="2.0"/><circle cx="1575" cy="1590" r="1.2"/><circle cx="981" cy="1282" r="1.4"/><circle cx="1289" cy="1532" r="2.0"/><circle cx="1423" cy="1338" r="2.0"/><circle cx="1243" cy="1309" r="1.0"/><circle cx="1087" cy="1477" r="2.0"/><circle cx="783" cy="1466" r="1.2"/><circle cx="1436" cy="1231" r="2.0"/><circle cx="1247" cy="1064" r="1.4"/><circle cx="1018" cy="1374" r="1.0"/><circle cx="1701" cy="1531" r="1.4"/><circle cx="1698" cy="1597" r="1.0"/><circle cx="1458" cy="1417" r="1.2"/><circle cx="791" cy="1665" r="2.4"/><circle cx="939" cy="1690" r="1.4"/><circle cx="1344" cy="1364" r="1.4"/><circle cx="729" cy="1543" r="2.4"/><circle cx="1467" cy="1403" r="1.7"/><circle cx="798" cy="1628" r="1.4"/><circle cx="1233" cy="1698" r="1.0"/><circle cx="920" cy="1441" r="1.0"/><circle cx="1046" cy="1355" r="2.0"/><circle cx="881" cy="1529" r="1.4"/><circle cx="1567" cy="1551" r="1.4"/><circle cx="1455" cy="1379" r="2.4"/><circle cx="1530" cy="1386" r="1.4"/><circle cx="1481" cy="1132" r="1.7"/><circle cx="799" cy="1664" r="1.4"/><circle cx="1630" cy="1378" r="2.0"/><circle cx="1004" cy="1363" r="1.7"/><circle cx="1263" cy="1051" r="1.7"/><circle cx="1163" cy="1032" r="1.2"/><circle cx="1599" cy="1490" r="2.4"/><circle cx="1284" cy="1597" r="2.0"/><circle cx="1152" cy="1526" r="1.7"/><circle cx="1450" cy="1222" r="2.0"/><circle cx="1246" cy="1490" r="2.0"/><circle cx="1076" cy="1236" r="1.4"/><circle cx="906" cy="1656" r="1.7"/><circle cx="940" cy="1371" r="1.0"/><circle cx="1008" cy="1465" r="1.7"/><circle cx="1372" cy="1224" r="1.2"/><circle cx="1188" cy="1386" r="2.4"/><circle cx="1351" cy="1682" r="1.7"/><circle cx="908" cy="1460" r="1.4"/><circle cx="960" cy="1588" r="1.2"/><circle cx="1575" cy="1319" r="2.4"/><circle cx="1419" cy="1401" r="1.4"/><circle cx="1226" cy="1605" r="2.4"/><circle cx="1278" cy="1515" r="1.4"/><circle cx="1208" cy="1652" r="1.0"/><circle cx="1375" cy="1053" r="1.0"/><circle cx="1606" cy="1255" r="1.4"/><circle cx="1738" cy="1693" r="1.0"/><circle cx="935" cy="1081" r="2.4"/><circle cx="1104" cy="1677" r="1.7"/><circle cx="1688" cy="1585" r="1.0"/><circle cx="1104" cy="1194" r="1.4"/><circle cx="1355" cy="1300" r="1.7"/><circle cx="1316" cy="1464" r="1.7"/><circle cx="1002" cy="1077" r="1.7"/><circle cx="1309" cy="1612" r="1.4"/><circle cx="1568" cy="1453" r="1.0"/><circle cx="1572" cy="1138" r="2.4"/><circle cx="880" cy="1537" r="1.0"/><circle cx="1256" cy="1571" r="1.2"/><circle cx="1106" cy="1354" r="1.2"/><circle cx="1543" cy="1155" r="2.4"/><circle cx="862" cy="1353" r="2.4"/><circle cx="1276" cy="1245" r="2.0"/><circle cx="1205" cy="1658" r="1.7"/><circle cx="1441" cy="1017" r="2.4"/><circle cx="1238" cy="1021" r="2.4"/><circle cx="1314" cy="1236" r="1.4"/><circle cx="1683" cy="1539" r="2.4"/><circle cx="1582" cy="1259" r="2.0"/><circle cx="775" cy="1464" r="2.0"/><circle cx="754" cy="1512" r="1.2"/><circle cx="1119" cy="1582" r="1.2"/><circle cx="1390" cy="1425" r="2.0"/><circle cx="1397" cy="1361" r="1.0"/><circle cx="1140" cy="1551" r="1.0"/><circle cx="939" cy="1662" r="1.0"/><circle cx="942" cy="1278" r="1.0"/><circle cx="1321" cy="1319" r="1.0"/><circle cx="1439" cy="1113" r="2.4"/><circle cx="1214" cy="1049" r="1.7"/><circle cx="1420" cy="1272" r="2.0"/><circle cx="1566" cy="1532" r="2.0"/><circle cx="964" cy="1340" r="1.0"/><circle cx="1713" cy="1664" r="1.4"/><circle cx="1264" cy="1001" r="1.7"/><circle cx="1581" cy="1560" r="1.7"/><circle cx="1163" cy="1585" r="2.0"/><circle cx="820" cy="1588" r="1.0"/><circle cx="1501" cy="1647" r="2.0"/><circle cx="1472" cy="1069" r="1.7"/><circle cx="1194" cy="1282" r="2.4"/><circle cx="1450" cy="1543" r="1.7"/><circle cx="1672" cy="1530" r="2.0"/><circle cx="1216" cy="1254" r="2.0"/><circle cx="815" cy="1373" r="2.4"/><circle cx="1488" cy="1563" r="1.7"/><circle cx="868" cy="1323" r="1.2"/><circle cx="1064" cy="1355" r="2.4"/><circle cx="968" cy="1285" r="1.7"/><circle cx="1122" cy="1288" r="1.2"/><circle cx="1619" cy="1299" r="1.7"/><circle cx="1091" cy="1460" r="1.7"/><circle cx="1511" cy="1142" r="1.4"/><circle cx="1015" cy="1377" r="1.2"/><circle cx="931" cy="1099" r="1.0"/><circle cx="1250" cy="1020" r="1.4"/><circle cx="1401" cy="1124" r="1.7"/><circle cx="1293" cy="1583" r="1.0"/><circle cx="836" cy="1359" r="2.4"/><circle cx="1334" cy="1561" r="1.7"/><circle cx="1037" cy="1519" r="2.0"/><circle cx="906" cy="1542" r="2.0"/><circle cx="908" cy="1122" r="2.4"/><circle cx="1482" cy="1097" r="2.0"/><circle cx="1147" cy="1191" r="1.7"/><circle cx="1504" cy="1353" r="2.4"/><circle cx="790" cy="1563" r="1.4"/><circle cx="1206" cy="1367" r="2.4"/><circle cx="876" cy="1329" r="1.2"/><circle cx="1461" cy="1440" r="2.0"/></g>
<path d="M959.5,1002.6 C960.9,1001.0 965.0,995.3 968.0,993.0 C971.0,990.7 975.3,988.4 977.8,988.9 C980.3,989.4 981.5,993.7 983.0,996.0 C984.5,998.3 985.5,1002.9 987.0,1002.6 C988.5,1002.3 990.1,995.9 992.0,994.0 C993.9,992.1 996.6,990.5 998.4,991.2 C1000.2,991.9 1001.5,995.7 1003.0,998.0 C1004.5,1000.3 1006.8,1003.8 1007.5,1004.9" fill="none" stroke="#6E5E80" stroke-width="1.8"/>
<path d="M977.8,988.9 C974.0,994.1 961.3,1009.8 955.0,1020.0 C948.7,1030.2 943.8,1040.3 940.0,1050.0 C936.2,1059.7 933.3,1073.3 932.0,1078.0" fill="none" stroke="#6E5E80" stroke-width="1.8"/>
<path d="M998.4,991.2 C998.7,997.7 1000.6,1016.7 1000.0,1030.0 C999.4,1043.3 995.8,1064.2 995.0,1071.0" fill="none" stroke="#6E5E80" stroke-width="1.8"/>
<path d="M1027.7,996.4 C1024.8,1002.0 1015.3,1017.4 1010.0,1030.0 C1004.7,1042.6 998.2,1064.9 995.8,1071.9" fill="none" stroke="#6E5E80" stroke-width="1.8"/>
<path d="M1027.7,996.4 C1028.1,1005.3 1029.5,1032.6 1030.0,1050.0 C1030.5,1067.4 1030.5,1092.5 1030.6,1101.0" fill="none" stroke="#6E5E80" stroke-width="1.8"/>
<path d="M1057.9,1018.6 C1058.8,1017.2 1061.1,1012.3 1063.0,1010.0 C1064.9,1007.7 1067.5,1004.7 1069.3,1004.9 C1071.1,1005.1 1072.5,1009.1 1074.0,1011.0 C1075.5,1012.9 1076.7,1016.8 1078.4,1016.3 C1080.1,1015.8 1082.1,1010.3 1084.0,1008.0 C1085.9,1005.7 1087.9,1000.6 1089.9,1002.6 C1091.9,1004.6 1094.5,1013.9 1096.0,1020.0 C1097.5,1026.1 1098.5,1036.0 1099.0,1039.2" fill="none" stroke="#6E5E80" stroke-width="1.8"/>
<path d="M1126.4,1002.2 C1127.3,1018.5 1130.1,1068.5 1132.0,1100.0 C1133.9,1131.5 1137.0,1175.8 1138.0,1190.9" fill="none" stroke="#6E5E80" stroke-width="1.8"/>
<path d="M1187.3,1006.6 C1185.8,1009.7 1180.4,1017.5 1178.0,1025.0 C1175.6,1032.5 1173.7,1047.2 1172.8,1051.6" fill="none" stroke="#6E5E80" stroke-width="1.8"/>
<path d="M1187.3,1006.6 C1188.8,1013.8 1193.6,1034.3 1196.0,1050.0 C1198.4,1065.7 1200.8,1092.5 1201.8,1101.0" fill="none" stroke="#6E5E80" stroke-width="1.8"/>
<path d="M1245.4,1006.6 C1247.0,1017.2 1252.1,1049.9 1255.0,1070.0 C1257.9,1090.1 1261.5,1117.5 1262.8,1127.0" fill="none" stroke="#6E5E80" stroke-width="1.8"/>
<path d="M1291.8,1011.0 C1292.5,1011.0 1294.5,1010.5 1296.0,1011.0 C1297.5,1011.5 1298.5,1014.1 1300.5,1013.9 C1302.5,1013.7 1305.6,1011.0 1308.0,1010.0 C1310.4,1009.0 1312.7,1003.0 1315.0,1008.0 C1317.3,1013.0 1320.1,1028.4 1322.0,1040.0 C1323.9,1051.6 1325.8,1071.4 1326.6,1077.7" fill="none" stroke="#6E5E80" stroke-width="1.8"/>
<path d="M1291.8,1011.0 C1290.3,1014.2 1285.4,1022.8 1283.0,1030.0 C1280.6,1037.2 1278.2,1050.4 1277.3,1054.5" fill="none" stroke="#6E5E80" stroke-width="1.8"/>
<path d="M1355.7,1002.2 C1356.1,1015.2 1357.5,1055.3 1358.0,1080.0 C1358.5,1104.7 1358.5,1138.6 1358.6,1150.3" fill="none" stroke="#6E5E80" stroke-width="1.8"/>
<path d="M1358.6,1005.0 C1361.2,1011.7 1369.7,1030.5 1374.0,1045.0 C1378.3,1059.5 1382.9,1084.3 1384.7,1092.2" fill="none" stroke="#6E5E80" stroke-width="1.8"/>
<path d="M1410.8,999.3 C1412.3,1006.1 1417.6,1026.9 1420.0,1040.0 C1422.4,1053.1 1424.4,1071.4 1425.3,1077.7" fill="none" stroke="#6E5E80" stroke-width="1.8"/>
<path d="M1442.7,993.5 C1443.4,1002.9 1446.0,1032.6 1447.0,1050.0 C1448.0,1067.4 1448.2,1090.0 1448.5,1098.0" fill="none" stroke="#6E5E80" stroke-width="1.8"/>
<path d="M1480.5,992.0 C1482.1,993.3 1487.4,998.3 1490.0,1000.0 C1492.6,1001.7 1493.7,1003.5 1496.0,1002.2 C1498.3,1000.9 1501.3,994.9 1504.0,992.0 C1506.7,989.1 1511.0,986.0 1512.4,984.8" fill="none" stroke="#6E5E80" stroke-width="1.8"/>
<path d="M1480.5,990.6 C1479.8,1000.5 1477.0,1031.1 1476.0,1050.0 C1475.0,1068.9 1474.9,1094.8 1474.7,1103.8" fill="none" stroke="#6E5E80" stroke-width="1.8"/>
<path d="M913.0,1478.0 C910.0,1488.3 903.0,1519.7 895.0,1540.0 C887.0,1560.3 870.0,1590.0 865.0,1600.0" fill="none" stroke="#7A5E8C" stroke-width="2"/>
<path d="M990.0,1532.0 C989.2,1543.3 987.0,1581.0 985.0,1600.0 C983.0,1619.0 979.2,1638.3 978.0,1646.0" fill="none" stroke="#7A5E8C" stroke-width="2"/>
<path d="M1103.0,1545.0 C1102.8,1557.5 1102.8,1600.8 1102.0,1620.0 C1101.2,1639.2 1098.7,1653.3 1098.0,1660.0" fill="none" stroke="#7A5E8C" stroke-width="2"/>
<path d="M1245.0,1548.0 C1243.8,1560.0 1240.5,1601.3 1238.0,1620.0 C1235.5,1638.7 1231.3,1653.3 1230.0,1660.0" fill="none" stroke="#7A5E8C" stroke-width="2"/>
<path d="M1335.0,1535.0 C1336.7,1545.8 1342.8,1579.2 1345.0,1600.0 C1347.2,1620.8 1347.5,1650.0 1348.0,1660.0" fill="none" stroke="#7A5E8C" stroke-width="2"/>
<path d="M1453.0,1510.0 C1453.8,1525.0 1456.2,1573.7 1458.0,1600.0 C1459.8,1626.3 1463.0,1656.7 1464.0,1668.0" fill="none" stroke="#7A5E8C" stroke-width="2"/>
<path d="M1568.0,1488.0 C1570.0,1498.3 1576.3,1528.0 1580.0,1550.0 C1583.7,1572.0 1588.3,1608.3 1590.0,1620.0" fill="none" stroke="#7A5E8C" stroke-width="2"/>
<path d="M747.9,1554.7 C758.8,1557.0 794.4,1563.5 813.1,1568.2 C831.8,1572.9 851.3,1578.5 859.9,1583.0 C868.5,1587.5 865.6,1591.2 864.8,1595.3 C864.0,1599.4 855.4,1603.1 855.0,1607.6 C854.6,1612.1 848.9,1617.9 862.4,1622.4 C875.9,1626.9 917.0,1632.7 936.3,1634.7 C955.6,1636.8 970.4,1635.5 978.0,1634.7 C985.6,1633.9 981.6,1632.2 981.8,1629.8 C982.0,1627.3 974.7,1623.5 979.4,1620.0 C984.1,1616.5 996.7,1610.6 1010.0,1608.9 C1023.3,1607.2 1047.7,1608.6 1059.4,1610.1 C1071.1,1611.6 1073.5,1614.8 1080.0,1617.7 C1086.5,1620.6 1094.8,1624.9 1098.5,1627.6 C1102.2,1630.3 1102.2,1630.6 1102.2,1633.7 C1102.2,1636.8 1097.1,1641.3 1098.5,1646.0 C1099.9,1650.7 1101.6,1657.7 1110.8,1662.0 C1120.0,1666.3 1140.6,1670.1 1153.9,1671.9 C1167.2,1673.8 1178.5,1673.7 1190.8,1673.1 C1203.1,1672.5 1220.0,1669.8 1227.8,1668.2 C1235.6,1666.6 1236.6,1665.2 1237.6,1663.3 C1238.6,1661.4 1235.1,1661.0 1233.9,1657.1 C1232.7,1653.2 1229.2,1644.4 1230.2,1639.9 C1231.2,1635.4 1232.3,1633.3 1240.1,1630.0 C1247.9,1626.7 1264.7,1621.4 1277.0,1620.2 C1289.3,1619.0 1302.7,1620.3 1314.0,1622.6 C1325.3,1624.8 1339.0,1630.0 1344.7,1633.7 C1350.4,1637.4 1349.0,1641.1 1348.4,1644.8 C1347.8,1648.5 1339.1,1652.2 1341.0,1655.9 C1342.9,1659.6 1349.8,1664.8 1360.0,1667.0 C1370.2,1669.2 1387.1,1669.8 1402.4,1668.9 C1417.7,1668.0 1441.3,1664.0 1451.6,1661.5 C1461.9,1659.0 1461.5,1661.1 1464.0,1654.1 C1466.5,1647.1 1461.9,1628.7 1466.4,1619.7 C1470.9,1610.7 1479.9,1605.1 1491.0,1600.0 C1502.1,1594.9 1518.9,1590.6 1532.9,1588.9 C1546.9,1587.2 1565.2,1587.8 1574.8,1590.1 C1584.4,1592.3 1587.5,1597.9 1590.8,1602.4 C1594.1,1606.9 1584.9,1618.0 1594.5,1617.2 C1604.1,1616.4 1626.4,1609.0 1648.6,1597.5 C1670.8,1586.0 1714.3,1556.4 1727.4,1548.2" fill="none" stroke="#8A6E9A" stroke-width="1.5" stroke-dasharray="6,5"/>
<path d="M747.9,1542.7 C758.8,1545.0 794.4,1551.5 813.1,1556.2 C831.8,1560.9 851.3,1566.5 859.9,1571.0 C868.5,1575.5 865.6,1579.2 864.8,1583.3 C864.0,1587.4 855.4,1591.1 855.0,1595.6 C854.6,1600.1 848.9,1605.9 862.4,1610.4 C875.9,1614.9 917.0,1620.7 936.3,1622.7 C955.6,1624.8 970.4,1623.5 978.0,1622.7 C985.6,1621.9 981.6,1620.2 981.8,1617.8 C982.0,1615.3 974.7,1611.5 979.4,1608.0 C984.1,1604.5 996.7,1598.6 1010.0,1596.9 C1023.3,1595.2 1047.7,1596.6 1059.4,1598.1 C1071.1,1599.6 1073.5,1602.8 1080.0,1605.7 C1086.5,1608.6 1094.8,1612.9 1098.5,1615.6 C1102.2,1618.3 1102.2,1618.6 1102.2,1621.7 C1102.2,1624.8 1097.1,1629.3 1098.5,1634.0 C1099.9,1638.7 1101.6,1645.7 1110.8,1650.0 C1120.0,1654.3 1140.6,1658.1 1153.9,1659.9 C1167.2,1661.8 1178.5,1661.7 1190.8,1661.1 C1203.1,1660.5 1220.0,1657.8 1227.8,1656.2 C1235.6,1654.6 1236.6,1653.2 1237.6,1651.3 C1238.6,1649.4 1235.1,1649.0 1233.9,1645.1 C1232.7,1641.2 1229.2,1632.4 1230.2,1627.9 C1231.2,1623.4 1232.3,1621.3 1240.1,1618.0 C1247.9,1614.7 1264.7,1609.4 1277.0,1608.2 C1289.3,1607.0 1302.7,1608.3 1314.0,1610.6 C1325.3,1612.8 1339.0,1618.0 1344.7,1621.7 C1350.4,1625.4 1349.0,1629.1 1348.4,1632.8 C1347.8,1636.5 1339.1,1640.2 1341.0,1643.9 C1342.9,1647.6 1349.8,1652.8 1360.0,1655.0 C1370.2,1657.2 1387.1,1657.8 1402.4,1656.9 C1417.7,1656.0 1441.3,1652.0 1451.6,1649.5 C1461.9,1647.0 1461.5,1649.1 1464.0,1642.1 C1466.5,1635.1 1461.9,1616.7 1466.4,1607.7 C1470.9,1598.7 1479.9,1593.1 1491.0,1588.0 C1502.1,1582.9 1518.9,1578.6 1532.9,1576.9 C1546.9,1575.2 1565.2,1575.8 1574.8,1578.1 C1584.4,1580.3 1587.5,1585.9 1590.8,1590.4 C1594.1,1594.9 1584.9,1606.0 1594.5,1605.2 C1604.1,1604.4 1626.4,1597.0 1648.6,1585.5 C1670.8,1574.0 1714.3,1544.4 1727.4,1536.2" fill="none" stroke="#8A6E9A" stroke-width="1.5" stroke-dasharray="6,5"/>
<path d="M945.5,783 C947,850 949,920 950.8,981 C1050,996 1150,1007 1190,1007 C1300,1004 1400,995 1506.6,981 C1507,920 1507.5,850 1508.2,779.4 L1400,650 L1224,660 L1050,650 Z" fill="#ffffff"/>
<path d="M945.5,783 C947.5,850 949.5,920 950.8,981" fill="none" stroke="#1a1a1a" stroke-width="2.0"/>
<path d="M1508.2,779.4 C1507.8,850 1507,920 1506.6,981" fill="none" stroke="#1a1a1a" stroke-width="2.0"/>
<path d="M950.8,982.0 C967.3,984.3 1010.1,991.8 1050.0,996.0 C1089.9,1000.2 1140.0,1006.2 1190.0,1007.0 C1240.0,1007.8 1295.8,1005.2 1350.0,1001.0 C1404.2,996.8 1487.8,985.2 1515.3,982.0" fill="none" stroke="#1a1a1a" stroke-width="3.2"/>
<clipPath id="cLLW"><path d="M1212.7,824.0 C1207.7,821.8 1194.2,823.3 1181.7,821.8 C1169.2,820.3 1155.9,817.3 1137.4,815.1 C1118.9,812.9 1089.3,809.8 1070.8,808.5 C1052.3,807.2 1037.6,806.3 1026.5,807.4 C1015.4,808.5 1010.6,809.8 1004.3,815.1 C998.0,820.5 992.7,829.9 988.8,839.5 C984.9,849.1 981.8,861.7 981.1,872.8 C980.4,883.9 981.3,895.6 984.4,906.0 C987.5,916.4 992.9,925.6 999.9,934.9 C1006.9,944.1 1016.5,954.5 1026.5,961.5 C1036.5,968.5 1048.7,973.5 1059.8,977.0 C1070.9,980.5 1081.9,983.6 1093.0,982.5 C1104.1,981.4 1115.2,976.4 1126.3,970.3 C1137.4,964.2 1149.5,956.6 1159.5,945.9 C1169.5,935.2 1178.7,920.0 1186.1,906.0 C1193.5,892.0 1199.6,873.5 1203.9,861.7 C1208.2,849.9 1210.5,841.3 1212.0,835.0 C1213.5,828.7 1217.8,826.2 1212.7,824.0 Z"/></clipPath><path d="M1212.7,824.0 C1207.7,821.8 1194.2,823.3 1181.7,821.8 C1169.2,820.3 1155.9,817.3 1137.4,815.1 C1118.9,812.9 1089.3,809.8 1070.8,808.5 C1052.3,807.2 1037.6,806.3 1026.5,807.4 C1015.4,808.5 1010.6,809.8 1004.3,815.1 C998.0,820.5 992.7,829.9 988.8,839.5 C984.9,849.1 981.8,861.7 981.1,872.8 C980.4,883.9 981.3,895.6 984.4,906.0 C987.5,916.4 992.9,925.6 999.9,934.9 C1006.9,944.1 1016.5,954.5 1026.5,961.5 C1036.5,968.5 1048.7,973.5 1059.8,977.0 C1070.9,980.5 1081.9,983.6 1093.0,982.5 C1104.1,981.4 1115.2,976.4 1126.3,970.3 C1137.4,964.2 1149.5,956.6 1159.5,945.9 C1169.5,935.2 1178.7,920.0 1186.1,906.0 C1193.5,892.0 1199.6,873.5 1203.9,861.7 C1208.2,849.9 1210.5,841.3 1212.0,835.0 C1213.5,828.7 1217.8,826.2 1212.7,824.0 Z" fill="url(#gLW)"/><g clip-path="url(#cLLW)"><g filter="url(#blur4)"><ellipse cx="1100" cy="841" rx="30" ry="7" fill="#F04CA6" opacity="0.8"/><ellipse cx="1015" cy="855" rx="30" ry="10" fill="#F04CA6" opacity="0.85"/><ellipse cx="1180" cy="837" rx="32" ry="8" fill="#F060B0" opacity="0.55"/></g></g><path d="M1068.6,653.3 C1078.6,652.0 1107.4,654.7 1119.6,658.8 C1131.8,662.9 1135.1,671.6 1141.8,677.7 C1148.5,683.8 1152.8,689.5 1159.5,695.4 C1166.2,701.3 1175.0,706.9 1181.7,713.2 C1188.4,719.5 1194.6,726.8 1199.4,733.1 C1204.2,739.4 1207.9,744.1 1210.5,750.8 C1213.1,757.4 1214.6,761.5 1215.0,773.0 C1215.4,784.5 1218.8,811.3 1212.7,820.0 C1206.6,828.7 1195.3,825.3 1178.5,825.0 C1161.7,824.7 1134.2,821.0 1112.0,818.4 C1089.8,815.8 1064.2,812.4 1045.5,809.5 C1026.8,806.6 1011.6,807.4 1000.0,801.0 C988.4,794.6 977.9,777.9 976.0,771.0 C974.1,764.1 982.2,766.0 988.8,759.7 C995.4,753.4 1006.2,743.8 1015.4,733.1 C1024.6,722.4 1036.8,706.5 1044.2,695.4 C1051.6,684.3 1055.7,673.6 1059.8,666.6 C1063.9,659.6 1058.6,654.6 1068.6,653.3 Z" fill="url(#gUW)"/><path d="M979,766 C982,757 986,752 992,753 C1005,765 1015,776 1023.3,781.9 C1045,793 1065,800 1089.8,804 C1115,809 1135,813 1156.3,815 C1180,817 1198,817 1213,817 L1212.7,820 C1200,824 1190,825 1178.5,825 C1155,823 1135,821 1112,818.4 C1090,816 1065,812 1045.5,809.5 C1025,806 1010,803 1000,801 C988,792 981,780 977,768 Z" fill="#F0409E"/><path d="M1212,760 C1190,765 1160,780 1150,800 C1175,808 1200,812 1213,812 Z" fill="#F090C8" opacity="0.55"/><ellipse cx="1040" cy="703" rx="10" ry="8" fill="#6A5EC4" opacity="0.4" transform="rotate(30 1040 703)"/><circle cx="1039.0" cy="703.8" r="2.4" fill="none" stroke="#6A5EC4" stroke-width="1.4" opacity="0.9"/><circle cx="1048.5" cy="702.5" r="2.4" fill="none" stroke="#6A5EC4" stroke-width="1.4" opacity="0.9"/><circle cx="1040.2" cy="704.2" r="2.4" fill="none" stroke="#6A5EC4" stroke-width="1.4" opacity="0.9"/><circle cx="1033.7" cy="703.2" r="2.4" fill="none" stroke="#6A5EC4" stroke-width="1.4" opacity="0.9"/><circle cx="1042.6" cy="707.1" r="2.4" fill="none" stroke="#6A5EC4" stroke-width="1.4" opacity="0.9"/><circle cx="1031.9" cy="700.2" r="2.4" fill="none" stroke="#6A5EC4" stroke-width="1.4" opacity="0.9"/><circle cx="1031.8" cy="707.3" r="2.4" fill="none" stroke="#6A5EC4" stroke-width="1.4" opacity="0.9"/><circle cx="1043.9" cy="696.6" r="2.4" fill="none" stroke="#6A5EC4" stroke-width="1.4" opacity="0.9"/><circle cx="1049.6" cy="709.5" r="2.4" fill="none" stroke="#6A5EC4" stroke-width="1.4" opacity="0.9"/><circle cx="1043.1" cy="704.6" r="2.4" fill="none" stroke="#6A5EC4" stroke-width="1.4" opacity="0.9"/><circle cx="1033.1" cy="696.2" r="2.4" fill="none" stroke="#6A5EC4" stroke-width="1.4" opacity="0.9"/><circle cx="1040.6" cy="696.8" r="2.4" fill="none" stroke="#6A5EC4" stroke-width="1.4" opacity="0.9"/><circle cx="1033.8" cy="699.4" r="2.4" fill="none" stroke="#6A5EC4" stroke-width="1.4" opacity="0.9"/><circle cx="1030.6" cy="702.5" r="2.4" fill="none" stroke="#6A5EC4" stroke-width="1.4" opacity="0.9"/><circle cx="1038.8" cy="707.8" r="2.4" fill="none" stroke="#6A5EC4" stroke-width="1.4" opacity="0.9"/><circle cx="1040.4" cy="705.0" r="2.4" fill="none" stroke="#6A5EC4" stroke-width="1.4" opacity="0.9"/><ellipse cx="1069" cy="758" rx="10" ry="8" fill="#6A5EC4" opacity="0.4" transform="rotate(30 1069 758)"/><circle cx="1069.0" cy="760.3" r="2.4" fill="none" stroke="#6A5EC4" stroke-width="1.4" opacity="0.9"/><circle cx="1068.1" cy="754.9" r="2.4" fill="none" stroke="#6A5EC4" stroke-width="1.4" opacity="0.9"/><circle cx="1079.0" cy="764.9" r="2.4" fill="none" stroke="#6A5EC4" stroke-width="1.4" opacity="0.9"/><circle cx="1075.8" cy="760.9" r="2.4" fill="none" stroke="#6A5EC4" stroke-width="1.4" opacity="0.9"/><circle cx="1065.3" cy="754.2" r="2.4" fill="none" stroke="#6A5EC4" stroke-width="1.4" opacity="0.9"/><circle cx="1064.8" cy="752.0" r="2.4" fill="none" stroke="#6A5EC4" stroke-width="1.4" opacity="0.9"/><circle cx="1074.3" cy="756.6" r="2.4" fill="none" stroke="#6A5EC4" stroke-width="1.4" opacity="0.9"/><circle cx="1075.9" cy="756.4" r="2.4" fill="none" stroke="#6A5EC4" stroke-width="1.4" opacity="0.9"/><circle cx="1078.2" cy="762.9" r="2.4" fill="none" stroke="#6A5EC4" stroke-width="1.4" opacity="0.9"/><circle cx="1059.0" cy="753.9" r="2.4" fill="none" stroke="#6A5EC4" stroke-width="1.4" opacity="0.9"/><circle cx="1077.2" cy="757.6" r="2.4" fill="none" stroke="#6A5EC4" stroke-width="1.4" opacity="0.9"/><circle cx="1078.6" cy="756.6" r="2.4" fill="none" stroke="#6A5EC4" stroke-width="1.4" opacity="0.9"/><circle cx="1060.5" cy="759.8" r="2.4" fill="none" stroke="#6A5EC4" stroke-width="1.4" opacity="0.9"/><circle cx="1074.6" cy="754.8" r="2.4" fill="none" stroke="#6A5EC4" stroke-width="1.4" opacity="0.9"/><circle cx="1060.7" cy="755.7" r="2.4" fill="none" stroke="#6A5EC4" stroke-width="1.4" opacity="0.9"/><circle cx="1078.3" cy="761.6" r="2.4" fill="none" stroke="#6A5EC4" stroke-width="1.4" opacity="0.9"/><circle cx="1061.4" cy="754.4" r="2.4" fill="none" stroke="#6A5EC4" stroke-width="1.4" opacity="0.9"/><circle cx="1061.0" cy="751.8" r="2.4" fill="none" stroke="#6A5EC4" stroke-width="1.4" opacity="0.9"/><circle cx="1074.9" cy="753.5" r="2.4" fill="none" stroke="#6A5EC4" stroke-width="1.4" opacity="0.9"/><circle cx="1070.2" cy="757.3" r="2.4" fill="none" stroke="#6A5EC4" stroke-width="1.4" opacity="0.9"/><ellipse cx="1106" cy="750" rx="10" ry="8" fill="#6A5EC4" opacity="0.4" transform="rotate(30 1106 750)"/><circle cx="1099.8" cy="753.2" r="2.4" fill="none" stroke="#6A5EC4" stroke-width="1.4" opacity="0.9"/><circle cx="1098.6" cy="752.0" r="2.4" fill="none" stroke="#6A5EC4" stroke-width="1.4" opacity="0.9"/><circle cx="1098.3" cy="748.9" r="2.4" fill="none" stroke="#6A5EC4" stroke-width="1.4" opacity="0.9"/><circle cx="1100.3" cy="746.8" r="2.4" fill="none" stroke="#6A5EC4" stroke-width="1.4" opacity="0.9"/><circle cx="1115.4" cy="754.2" r="2.4" fill="none" stroke="#6A5EC4" stroke-width="1.4" opacity="0.9"/><circle cx="1102.1" cy="755.4" r="2.4" fill="none" stroke="#6A5EC4" stroke-width="1.4" opacity="0.9"/><circle cx="1100.2" cy="748.5" r="2.4" fill="none" stroke="#6A5EC4" stroke-width="1.4" opacity="0.9"/><circle cx="1113.1" cy="752.0" r="2.4" fill="none" stroke="#6A5EC4" stroke-width="1.4" opacity="0.9"/><circle cx="1098.0" cy="756.9" r="2.4" fill="none" stroke="#6A5EC4" stroke-width="1.4" opacity="0.9"/><circle cx="1100.3" cy="746.6" r="2.4" fill="none" stroke="#6A5EC4" stroke-width="1.4" opacity="0.9"/><circle cx="1111.5" cy="747.6" r="2.4" fill="none" stroke="#6A5EC4" stroke-width="1.4" opacity="0.9"/><circle cx="1101.9" cy="744.0" r="2.4" fill="none" stroke="#6A5EC4" stroke-width="1.4" opacity="0.9"/><circle cx="1097.8" cy="751.2" r="2.4" fill="none" stroke="#6A5EC4" stroke-width="1.4" opacity="0.9"/><circle cx="1100.9" cy="751.4" r="2.4" fill="none" stroke="#6A5EC4" stroke-width="1.4" opacity="0.9"/><circle cx="1103.4" cy="749.3" r="2.4" fill="none" stroke="#6A5EC4" stroke-width="1.4" opacity="0.9"/><circle cx="1115.2" cy="749.8" r="2.4" fill="none" stroke="#6A5EC4" stroke-width="1.4" opacity="0.9"/><circle cx="1107.5" cy="755.1" r="2.4" fill="none" stroke="#6A5EC4" stroke-width="1.4" opacity="0.9"/><circle cx="1099.7" cy="745.2" r="2.4" fill="none" stroke="#6A5EC4" stroke-width="1.4" opacity="0.9"/><ellipse cx="1105" cy="783" rx="10" ry="8" fill="#6A5EC4" opacity="0.4" transform="rotate(30 1105 783)"/><circle cx="1113.2" cy="787.4" r="2.4" fill="none" stroke="#6A5EC4" stroke-width="1.4" opacity="0.9"/><circle cx="1100.0" cy="778.7" r="2.4" fill="none" stroke="#6A5EC4" stroke-width="1.4" opacity="0.9"/><circle cx="1109.8" cy="789.2" r="2.4" fill="none" stroke="#6A5EC4" stroke-width="1.4" opacity="0.9"/><circle cx="1098.9" cy="789.3" r="2.4" fill="none" stroke="#6A5EC4" stroke-width="1.4" opacity="0.9"/><circle cx="1112.6" cy="784.4" r="2.4" fill="none" stroke="#6A5EC4" stroke-width="1.4" opacity="0.9"/><circle cx="1103.4" cy="777.5" r="2.4" fill="none" stroke="#6A5EC4" stroke-width="1.4" opacity="0.9"/><circle cx="1095.8" cy="789.5" r="2.4" fill="none" stroke="#6A5EC4" stroke-width="1.4" opacity="0.9"/><circle cx="1099.8" cy="785.9" r="2.4" fill="none" stroke="#6A5EC4" stroke-width="1.4" opacity="0.9"/><circle cx="1100.1" cy="787.5" r="2.4" fill="none" stroke="#6A5EC4" stroke-width="1.4" opacity="0.9"/><circle cx="1106.9" cy="780.1" r="2.4" fill="none" stroke="#6A5EC4" stroke-width="1.4" opacity="0.9"/><circle cx="1098.5" cy="786.1" r="2.4" fill="none" stroke="#6A5EC4" stroke-width="1.4" opacity="0.9"/><circle cx="1096.4" cy="779.2" r="2.4" fill="none" stroke="#6A5EC4" stroke-width="1.4" opacity="0.9"/><circle cx="1106.2" cy="787.9" r="2.4" fill="none" stroke="#6A5EC4" stroke-width="1.4" opacity="0.9"/><circle cx="1107.3" cy="779.9" r="2.4" fill="none" stroke="#6A5EC4" stroke-width="1.4" opacity="0.9"/><circle cx="1113.3" cy="778.9" r="2.4" fill="none" stroke="#6A5EC4" stroke-width="1.4" opacity="0.9"/><circle cx="1095.3" cy="779.8" r="2.4" fill="none" stroke="#6A5EC4" stroke-width="1.4" opacity="0.9"/><circle cx="1103.9" cy="776.8" r="2.4" fill="none" stroke="#6A5EC4" stroke-width="1.4" opacity="0.9"/><circle cx="1098.5" cy="781.2" r="2.4" fill="none" stroke="#6A5EC4" stroke-width="1.4" opacity="0.9"/><ellipse cx="1137" cy="776" rx="10" ry="8" fill="#6A5EC4" opacity="0.4" transform="rotate(30 1137 776)"/><circle cx="1138.4" cy="770.8" r="2.4" fill="none" stroke="#6A5EC4" stroke-width="1.4" opacity="0.9"/><circle cx="1134.2" cy="781.5" r="2.4" fill="none" stroke="#6A5EC4" stroke-width="1.4" opacity="0.9"/><circle cx="1146.6" cy="778.2" r="2.4" fill="none" stroke="#6A5EC4" stroke-width="1.4" opacity="0.9"/><circle cx="1140.8" cy="777.2" r="2.4" fill="none" stroke="#6A5EC4" stroke-width="1.4" opacity="0.9"/><circle cx="1129.8" cy="769.5" r="2.4" fill="none" stroke="#6A5EC4" stroke-width="1.4" opacity="0.9"/><circle cx="1127.4" cy="781.7" r="2.4" fill="none" stroke="#6A5EC4" stroke-width="1.4" opacity="0.9"/><circle cx="1141.0" cy="782.5" r="2.4" fill="none" stroke="#6A5EC4" stroke-width="1.4" opacity="0.9"/><circle cx="1127.4" cy="777.9" r="2.4" fill="none" stroke="#6A5EC4" stroke-width="1.4" opacity="0.9"/><circle cx="1136.6" cy="779.2" r="2.4" fill="none" stroke="#6A5EC4" stroke-width="1.4" opacity="0.9"/><circle cx="1133.4" cy="783.0" r="2.4" fill="none" stroke="#6A5EC4" stroke-width="1.4" opacity="0.9"/><circle cx="1128.5" cy="776.6" r="2.4" fill="none" stroke="#6A5EC4" stroke-width="1.4" opacity="0.9"/><circle cx="1141.7" cy="781.6" r="2.4" fill="none" stroke="#6A5EC4" stroke-width="1.4" opacity="0.9"/><circle cx="1141.7" cy="778.9" r="2.4" fill="none" stroke="#6A5EC4" stroke-width="1.4" opacity="0.9"/><circle cx="1142.9" cy="781.8" r="2.4" fill="none" stroke="#6A5EC4" stroke-width="1.4" opacity="0.9"/><circle cx="1134.0" cy="778.6" r="2.4" fill="none" stroke="#6A5EC4" stroke-width="1.4" opacity="0.9"/><circle cx="1145.0" cy="781.2" r="2.4" fill="none" stroke="#6A5EC4" stroke-width="1.4" opacity="0.9"/><circle cx="1135.3" cy="780.1" r="2.4" fill="none" stroke="#6A5EC4" stroke-width="1.4" opacity="0.9"/><circle cx="1144.3" cy="777.0" r="2.4" fill="none" stroke="#6A5EC4" stroke-width="1.4" opacity="0.9"/><ellipse cx="1017" cy="735" rx="10" ry="8" fill="#6A5EC4" opacity="0.4" transform="rotate(30 1017 735)"/><circle cx="1019.5" cy="733.4" r="2.4" fill="none" stroke="#6A5EC4" stroke-width="1.4" opacity="0.9"/><circle cx="1018.7" cy="736.5" r="2.4" fill="none" stroke="#6A5EC4" stroke-width="1.4" opacity="0.9"/><circle cx="1008.6" cy="737.0" r="2.4" fill="none" stroke="#6A5EC4" stroke-width="1.4" opacity="0.9"/><circle cx="1026.9" cy="740.3" r="2.4" fill="none" stroke="#6A5EC4" stroke-width="1.4" opacity="0.9"/><circle cx="1021.6" cy="733.4" r="2.4" fill="none" stroke="#6A5EC4" stroke-width="1.4" opacity="0.9"/><circle cx="1021.7" cy="736.1" r="2.4" fill="none" stroke="#6A5EC4" stroke-width="1.4" opacity="0.9"/><circle cx="1015.8" cy="739.7" r="2.4" fill="none" stroke="#6A5EC4" stroke-width="1.4" opacity="0.9"/><circle cx="1008.7" cy="738.5" r="2.4" fill="none" stroke="#6A5EC4" stroke-width="1.4" opacity="0.9"/><circle cx="1007.6" cy="736.4" r="2.4" fill="none" stroke="#6A5EC4" stroke-width="1.4" opacity="0.9"/><circle cx="1016.6" cy="731.2" r="2.4" fill="none" stroke="#6A5EC4" stroke-width="1.4" opacity="0.9"/><circle cx="1021.0" cy="735.0" r="2.4" fill="none" stroke="#6A5EC4" stroke-width="1.4" opacity="0.9"/><circle cx="1019.3" cy="740.9" r="2.4" fill="none" stroke="#6A5EC4" stroke-width="1.4" opacity="0.9"/><circle cx="1012.1" cy="728.2" r="2.4" fill="none" stroke="#6A5EC4" stroke-width="1.4" opacity="0.9"/><circle cx="1013.0" cy="737.5" r="2.4" fill="none" stroke="#6A5EC4" stroke-width="1.4" opacity="0.9"/><ellipse cx="1033" cy="878" rx="10" ry="8" fill="#4A6660" opacity="0.4" transform="rotate(30 1033 878)"/><circle cx="1027.1" cy="873.4" r="2.4" fill="none" stroke="#4A6660" stroke-width="1.4" opacity="0.9"/><circle cx="1041.1" cy="880.2" r="2.4" fill="none" stroke="#4A6660" stroke-width="1.4" opacity="0.9"/><circle cx="1031.8" cy="883.5" r="2.4" fill="none" stroke="#4A6660" stroke-width="1.4" opacity="0.9"/><circle cx="1029.5" cy="880.3" r="2.4" fill="none" stroke="#4A6660" stroke-width="1.4" opacity="0.9"/><circle cx="1027.0" cy="877.0" r="2.4" fill="none" stroke="#4A6660" stroke-width="1.4" opacity="0.9"/><circle cx="1039.1" cy="883.8" r="2.4" fill="none" stroke="#4A6660" stroke-width="1.4" opacity="0.9"/><circle cx="1040.6" cy="876.4" r="2.4" fill="none" stroke="#4A6660" stroke-width="1.4" opacity="0.9"/><circle cx="1034.7" cy="875.4" r="2.4" fill="none" stroke="#4A6660" stroke-width="1.4" opacity="0.9"/><circle cx="1025.7" cy="878.0" r="2.4" fill="none" stroke="#4A6660" stroke-width="1.4" opacity="0.9"/><circle cx="1039.7" cy="882.9" r="2.4" fill="none" stroke="#4A6660" stroke-width="1.4" opacity="0.9"/><circle cx="1037.2" cy="884.3" r="2.4" fill="none" stroke="#4A6660" stroke-width="1.4" opacity="0.9"/><circle cx="1028.5" cy="873.4" r="2.4" fill="none" stroke="#4A6660" stroke-width="1.4" opacity="0.9"/><circle cx="1032.0" cy="874.9" r="2.4" fill="none" stroke="#4A6660" stroke-width="1.4" opacity="0.9"/><circle cx="1027.3" cy="876.8" r="2.4" fill="none" stroke="#4A6660" stroke-width="1.4" opacity="0.9"/><circle cx="1035.5" cy="877.9" r="2.4" fill="none" stroke="#4A6660" stroke-width="1.4" opacity="0.9"/><circle cx="1029.3" cy="882.7" r="2.4" fill="none" stroke="#4A6660" stroke-width="1.4" opacity="0.9"/><circle cx="1042.6" cy="877.3" r="2.4" fill="none" stroke="#4A6660" stroke-width="1.4" opacity="0.9"/><circle cx="1024.5" cy="871.4" r="2.4" fill="none" stroke="#4A6660" stroke-width="1.4" opacity="0.9"/><ellipse cx="1078" cy="885" rx="10" ry="8" fill="#4A6660" opacity="0.4" transform="rotate(30 1078 885)"/><circle cx="1085.5" cy="878.6" r="2.4" fill="none" stroke="#4A6660" stroke-width="1.4" opacity="0.9"/><circle cx="1082.2" cy="886.0" r="2.4" fill="none" stroke="#4A6660" stroke-width="1.4" opacity="0.9"/><circle cx="1074.2" cy="889.1" r="2.4" fill="none" stroke="#4A6660" stroke-width="1.4" opacity="0.9"/><circle cx="1068.4" cy="879.9" r="2.4" fill="none" stroke="#4A6660" stroke-width="1.4" opacity="0.9"/><circle cx="1077.1" cy="878.3" r="2.4" fill="none" stroke="#4A6660" stroke-width="1.4" opacity="0.9"/><circle cx="1084.6" cy="881.3" r="2.4" fill="none" stroke="#4A6660" stroke-width="1.4" opacity="0.9"/><circle cx="1070.8" cy="878.7" r="2.4" fill="none" stroke="#4A6660" stroke-width="1.4" opacity="0.9"/><circle cx="1080.6" cy="884.3" r="2.4" fill="none" stroke="#4A6660" stroke-width="1.4" opacity="0.9"/><circle cx="1080.6" cy="887.2" r="2.4" fill="none" stroke="#4A6660" stroke-width="1.4" opacity="0.9"/><circle cx="1084.1" cy="891.4" r="2.4" fill="none" stroke="#4A6660" stroke-width="1.4" opacity="0.9"/><circle cx="1081.7" cy="880.8" r="2.4" fill="none" stroke="#4A6660" stroke-width="1.4" opacity="0.9"/><circle cx="1077.5" cy="880.5" r="2.4" fill="none" stroke="#4A6660" stroke-width="1.4" opacity="0.9"/><circle cx="1068.2" cy="884.6" r="2.4" fill="none" stroke="#4A6660" stroke-width="1.4" opacity="0.9"/><circle cx="1082.3" cy="880.5" r="2.4" fill="none" stroke="#4A6660" stroke-width="1.4" opacity="0.9"/><circle cx="1073.4" cy="882.8" r="2.4" fill="none" stroke="#4A6660" stroke-width="1.4" opacity="0.9"/><circle cx="1081.9" cy="885.3" r="2.4" fill="none" stroke="#4A6660" stroke-width="1.4" opacity="0.9"/><circle cx="1080.3" cy="888.6" r="2.4" fill="none" stroke="#4A6660" stroke-width="1.4" opacity="0.9"/><circle cx="1075.9" cy="889.1" r="2.4" fill="none" stroke="#4A6660" stroke-width="1.4" opacity="0.9"/><ellipse cx="1140" cy="861" rx="10" ry="8" fill="#4A6660" opacity="0.4" transform="rotate(30 1140 861)"/><circle cx="1148.1" cy="855.2" r="2.4" fill="none" stroke="#4A6660" stroke-width="1.4" opacity="0.9"/><circle cx="1148.7" cy="864.1" r="2.4" fill="none" stroke="#4A6660" stroke-width="1.4" opacity="0.9"/><circle cx="1132.6" cy="860.3" r="2.4" fill="none" stroke="#4A6660" stroke-width="1.4" opacity="0.9"/><circle cx="1142.5" cy="866.7" r="2.4" fill="none" stroke="#4A6660" stroke-width="1.4" opacity="0.9"/><circle cx="1137.5" cy="862.0" r="2.4" fill="none" stroke="#4A6660" stroke-width="1.4" opacity="0.9"/><circle cx="1147.6" cy="865.2" r="2.4" fill="none" stroke="#4A6660" stroke-width="1.4" opacity="0.9"/><circle cx="1148.9" cy="860.5" r="2.4" fill="none" stroke="#4A6660" stroke-width="1.4" opacity="0.9"/><circle cx="1143.0" cy="856.9" r="2.4" fill="none" stroke="#4A6660" stroke-width="1.4" opacity="0.9"/><circle cx="1144.4" cy="865.5" r="2.4" fill="none" stroke="#4A6660" stroke-width="1.4" opacity="0.9"/><circle cx="1142.8" cy="864.0" r="2.4" fill="none" stroke="#4A6660" stroke-width="1.4" opacity="0.9"/><circle cx="1134.3" cy="866.6" r="2.4" fill="none" stroke="#4A6660" stroke-width="1.4" opacity="0.9"/><circle cx="1149.6" cy="867.7" r="2.4" fill="none" stroke="#4A6660" stroke-width="1.4" opacity="0.9"/><circle cx="1140.7" cy="865.1" r="2.4" fill="none" stroke="#4A6660" stroke-width="1.4" opacity="0.9"/><circle cx="1136.4" cy="866.7" r="2.4" fill="none" stroke="#4A6660" stroke-width="1.4" opacity="0.9"/><circle cx="1147.1" cy="858.9" r="2.4" fill="none" stroke="#4A6660" stroke-width="1.4" opacity="0.9"/><circle cx="1131.7" cy="860.2" r="2.4" fill="none" stroke="#4A6660" stroke-width="1.4" opacity="0.9"/><circle cx="1141.0" cy="864.8" r="2.4" fill="none" stroke="#4A6660" stroke-width="1.4" opacity="0.9"/><circle cx="1139.7" cy="854.4" r="2.4" fill="none" stroke="#4A6660" stroke-width="1.4" opacity="0.9"/><ellipse cx="1142" cy="885" rx="10" ry="8" fill="#4A6660" opacity="0.4" transform="rotate(30 1142 885)"/><circle cx="1148.2" cy="878.9" r="2.4" fill="none" stroke="#4A6660" stroke-width="1.4" opacity="0.9"/><circle cx="1148.0" cy="880.4" r="2.4" fill="none" stroke="#4A6660" stroke-width="1.4" opacity="0.9"/><circle cx="1138.7" cy="889.0" r="2.4" fill="none" stroke="#4A6660" stroke-width="1.4" opacity="0.9"/><circle cx="1134.8" cy="880.1" r="2.4" fill="none" stroke="#4A6660" stroke-width="1.4" opacity="0.9"/><circle cx="1142.3" cy="888.1" r="2.4" fill="none" stroke="#4A6660" stroke-width="1.4" opacity="0.9"/><circle cx="1148.8" cy="887.7" r="2.4" fill="none" stroke="#4A6660" stroke-width="1.4" opacity="0.9"/><circle cx="1150.9" cy="884.9" r="2.4" fill="none" stroke="#4A6660" stroke-width="1.4" opacity="0.9"/><circle cx="1151.0" cy="879.2" r="2.4" fill="none" stroke="#4A6660" stroke-width="1.4" opacity="0.9"/><circle cx="1136.4" cy="885.4" r="2.4" fill="none" stroke="#4A6660" stroke-width="1.4" opacity="0.9"/><circle cx="1137.8" cy="888.2" r="2.4" fill="none" stroke="#4A6660" stroke-width="1.4" opacity="0.9"/><circle cx="1144.8" cy="885.3" r="2.4" fill="none" stroke="#4A6660" stroke-width="1.4" opacity="0.9"/><circle cx="1148.9" cy="885.8" r="2.4" fill="none" stroke="#4A6660" stroke-width="1.4" opacity="0.9"/><circle cx="1138.2" cy="883.3" r="2.4" fill="none" stroke="#4A6660" stroke-width="1.4" opacity="0.9"/><circle cx="1148.9" cy="890.6" r="2.4" fill="none" stroke="#4A6660" stroke-width="1.4" opacity="0.9"/><circle cx="1136.2" cy="889.9" r="2.4" fill="none" stroke="#4A6660" stroke-width="1.4" opacity="0.9"/><circle cx="1151.4" cy="885.3" r="2.4" fill="none" stroke="#4A6660" stroke-width="1.4" opacity="0.9"/><circle cx="1143.5" cy="880.8" r="2.4" fill="none" stroke="#4A6660" stroke-width="1.4" opacity="0.9"/><circle cx="1142.7" cy="885.0" r="2.4" fill="none" stroke="#4A6660" stroke-width="1.4" opacity="0.9"/><circle cx="1144.1" cy="878.4" r="2.4" fill="none" stroke="#4A6660" stroke-width="1.4" opacity="0.9"/><circle cx="1151.4" cy="885.2" r="2.4" fill="none" stroke="#4A6660" stroke-width="1.4" opacity="0.9"/><ellipse cx="1178" cy="870" rx="10" ry="8" fill="#4A6660" opacity="0.4" transform="rotate(30 1178 870)"/><circle cx="1176.0" cy="874.2" r="2.4" fill="none" stroke="#4A6660" stroke-width="1.4" opacity="0.9"/><circle cx="1179.3" cy="869.9" r="2.4" fill="none" stroke="#4A6660" stroke-width="1.4" opacity="0.9"/><circle cx="1181.8" cy="863.9" r="2.4" fill="none" stroke="#4A6660" stroke-width="1.4" opacity="0.9"/><circle cx="1178.8" cy="868.8" r="2.4" fill="none" stroke="#4A6660" stroke-width="1.4" opacity="0.9"/><circle cx="1187.1" cy="875.9" r="2.4" fill="none" stroke="#4A6660" stroke-width="1.4" opacity="0.9"/><circle cx="1173.4" cy="869.6" r="2.4" fill="none" stroke="#4A6660" stroke-width="1.4" opacity="0.9"/><circle cx="1170.5" cy="869.1" r="2.4" fill="none" stroke="#4A6660" stroke-width="1.4" opacity="0.9"/><circle cx="1184.3" cy="875.6" r="2.4" fill="none" stroke="#4A6660" stroke-width="1.4" opacity="0.9"/><circle cx="1177.5" cy="867.4" r="2.4" fill="none" stroke="#4A6660" stroke-width="1.4" opacity="0.9"/><circle cx="1171.8" cy="871.7" r="2.4" fill="none" stroke="#4A6660" stroke-width="1.4" opacity="0.9"/><circle cx="1186.5" cy="864.8" r="2.4" fill="none" stroke="#4A6660" stroke-width="1.4" opacity="0.9"/><circle cx="1183.6" cy="863.3" r="2.4" fill="none" stroke="#4A6660" stroke-width="1.4" opacity="0.9"/><circle cx="1171.9" cy="866.2" r="2.4" fill="none" stroke="#4A6660" stroke-width="1.4" opacity="0.9"/><circle cx="1181.7" cy="867.5" r="2.4" fill="none" stroke="#4A6660" stroke-width="1.4" opacity="0.9"/><circle cx="1175.1" cy="871.7" r="2.4" fill="none" stroke="#4A6660" stroke-width="1.4" opacity="0.9"/><circle cx="1170.1" cy="873.2" r="2.4" fill="none" stroke="#4A6660" stroke-width="1.4" opacity="0.9"/><circle cx="1170.5" cy="870.1" r="2.4" fill="none" stroke="#4A6660" stroke-width="1.4" opacity="0.9"/><circle cx="1173.0" cy="865.8" r="2.4" fill="none" stroke="#4A6660" stroke-width="1.4" opacity="0.9"/><ellipse cx="1110" cy="913" rx="10" ry="8" fill="#4A6660" opacity="0.4" transform="rotate(30 1110 913)"/><circle cx="1110.6" cy="912.1" r="2.4" fill="none" stroke="#4A6660" stroke-width="1.4" opacity="0.9"/><circle cx="1107.5" cy="911.8" r="2.4" fill="none" stroke="#4A6660" stroke-width="1.4" opacity="0.9"/><circle cx="1110.6" cy="908.2" r="2.4" fill="none" stroke="#4A6660" stroke-width="1.4" opacity="0.9"/><circle cx="1104.1" cy="914.8" r="2.4" fill="none" stroke="#4A6660" stroke-width="1.4" opacity="0.9"/><circle cx="1112.8" cy="913.4" r="2.4" fill="none" stroke="#4A6660" stroke-width="1.4" opacity="0.9"/><circle cx="1117.0" cy="914.6" r="2.4" fill="none" stroke="#4A6660" stroke-width="1.4" opacity="0.9"/><circle cx="1117.1" cy="909.3" r="2.4" fill="none" stroke="#4A6660" stroke-width="1.4" opacity="0.9"/><circle cx="1114.8" cy="917.3" r="2.4" fill="none" stroke="#4A6660" stroke-width="1.4" opacity="0.9"/><circle cx="1118.1" cy="910.4" r="2.4" fill="none" stroke="#4A6660" stroke-width="1.4" opacity="0.9"/><circle cx="1106.3" cy="918.9" r="2.4" fill="none" stroke="#4A6660" stroke-width="1.4" opacity="0.9"/><circle cx="1104.4" cy="920.0" r="2.4" fill="none" stroke="#4A6660" stroke-width="1.4" opacity="0.9"/><circle cx="1117.8" cy="907.9" r="2.4" fill="none" stroke="#4A6660" stroke-width="1.4" opacity="0.9"/><circle cx="1104.8" cy="916.2" r="2.4" fill="none" stroke="#4A6660" stroke-width="1.4" opacity="0.9"/><circle cx="1105.2" cy="907.4" r="2.4" fill="none" stroke="#4A6660" stroke-width="1.4" opacity="0.9"/><circle cx="1116.6" cy="911.9" r="2.4" fill="none" stroke="#4A6660" stroke-width="1.4" opacity="0.9"/><circle cx="1115.8" cy="907.8" r="2.4" fill="none" stroke="#4A6660" stroke-width="1.4" opacity="0.9"/><circle cx="1108.1" cy="915.6" r="2.4" fill="none" stroke="#4A6660" stroke-width="1.4" opacity="0.9"/><circle cx="1100.4" cy="908.8" r="2.4" fill="none" stroke="#4A6660" stroke-width="1.4" opacity="0.9"/><ellipse cx="1158" cy="912" rx="10" ry="8" fill="#4A6660" opacity="0.4" transform="rotate(30 1158 912)"/><circle cx="1161.6" cy="917.8" r="2.4" fill="none" stroke="#4A6660" stroke-width="1.4" opacity="0.9"/><circle cx="1167.4" cy="906.6" r="2.4" fill="none" stroke="#4A6660" stroke-width="1.4" opacity="0.9"/><circle cx="1158.1" cy="915.6" r="2.4" fill="none" stroke="#4A6660" stroke-width="1.4" opacity="0.9"/><circle cx="1158.1" cy="914.6" r="2.4" fill="none" stroke="#4A6660" stroke-width="1.4" opacity="0.9"/><circle cx="1151.8" cy="906.0" r="2.4" fill="none" stroke="#4A6660" stroke-width="1.4" opacity="0.9"/><circle cx="1150.1" cy="905.5" r="2.4" fill="none" stroke="#4A6660" stroke-width="1.4" opacity="0.9"/><circle cx="1159.0" cy="912.2" r="2.4" fill="none" stroke="#4A6660" stroke-width="1.4" opacity="0.9"/><circle cx="1159.4" cy="907.1" r="2.4" fill="none" stroke="#4A6660" stroke-width="1.4" opacity="0.9"/><circle cx="1151.7" cy="907.9" r="2.4" fill="none" stroke="#4A6660" stroke-width="1.4" opacity="0.9"/><circle cx="1164.8" cy="918.9" r="2.4" fill="none" stroke="#4A6660" stroke-width="1.4" opacity="0.9"/><circle cx="1166.5" cy="906.3" r="2.4" fill="none" stroke="#4A6660" stroke-width="1.4" opacity="0.9"/><circle cx="1149.2" cy="918.3" r="2.4" fill="none" stroke="#4A6660" stroke-width="1.4" opacity="0.9"/><circle cx="1157.2" cy="915.7" r="2.4" fill="none" stroke="#4A6660" stroke-width="1.4" opacity="0.9"/><circle cx="1154.5" cy="911.5" r="2.4" fill="none" stroke="#4A6660" stroke-width="1.4" opacity="0.9"/><circle cx="1158.3" cy="911.0" r="2.4" fill="none" stroke="#4A6660" stroke-width="1.4" opacity="0.9"/><circle cx="1160.0" cy="905.2" r="2.4" fill="none" stroke="#4A6660" stroke-width="1.4" opacity="0.9"/><circle cx="1162.0" cy="916.8" r="2.4" fill="none" stroke="#4A6660" stroke-width="1.4" opacity="0.9"/><circle cx="1151.6" cy="911.4" r="2.4" fill="none" stroke="#4A6660" stroke-width="1.4" opacity="0.9"/><line x1="1110" y1="739" x2="1205" y2="780" stroke="#222" stroke-width="1.5"/><line x1="1012" y1="914" x2="1105" y2="872" stroke="#222" stroke-width="1.5"/><line x1="1026" y1="944" x2="1130" y2="880" stroke="#222" stroke-width="1.5"/><line x1="1080" y1="960" x2="1160" y2="905" stroke="#222" stroke-width="1.5"/><path d="M984,900 C988,925 1000,945 1026,962 C1045,975 1070,982 1093,982" fill="none" stroke="#333" stroke-width="1.2" opacity="0.6"/><path d="M1099,680 C1080,688 1075,712 1091,728 C1085,712 1088,692 1109,684 Z" fill="#1d1020"/><circle cx="1006.5" cy="740.5" r="5" fill="#222"/><circle cx="1008" cy="739" r="5" fill="#F0288C"/><circle cx="1046.5" cy="722.5" r="4" fill="#222"/><circle cx="1048" cy="721" r="4" fill="#F0288C"/><circle cx="997.5" cy="868.5" r="5" fill="#222"/><circle cx="999" cy="867" r="5" fill="#F0288C"/><circle cx="1000.5" cy="898.5" r="6" fill="#222"/><circle cx="1002" cy="897" r="6" fill="#F0288C"/><circle cx="1014.5" cy="945.5" r="6" fill="#222"/><circle cx="1016" cy="944" r="6" fill="#F0288C"/><circle cx="1038.5" cy="968.5" r="5" fill="#222"/><circle cx="1040" cy="967" r="5" fill="#F0288C"/><circle cx="1058.5" cy="976.5" r="5" fill="#222"/><circle cx="1060" cy="975" r="5" fill="#F0288C"/><circle cx="1073.5" cy="658.5" r="6" fill="#222"/><circle cx="1075" cy="657" r="6" fill="#F0288C"/><line x1="1213" y1="800" x2="1154" y2="766" stroke="#B8206A" stroke-width="1.4" stroke-dasharray="3,2" opacity="0.7"/><line x1="1213" y1="800" x2="1147" y2="775" stroke="#B8206A" stroke-width="1.4" stroke-dasharray="3,2" opacity="0.7"/><line x1="1213" y1="800" x2="1143" y2="784" stroke="#B8206A" stroke-width="1.4" stroke-dasharray="3,2" opacity="0.7"/><line x1="1213" y1="800" x2="1140" y2="795" stroke="#B8206A" stroke-width="1.4" stroke-dasharray="3,2" opacity="0.7"/><line x1="1213" y1="800" x2="1140" y2="805" stroke="#B8206A" stroke-width="1.4" stroke-dasharray="3,2" opacity="0.7"/><line x1="1213" y1="800" x2="1143" y2="816" stroke="#B8206A" stroke-width="1.4" stroke-dasharray="3,2" opacity="0.7"/><line x1="1213" y1="800" x2="1147" y2="825" stroke="#B8206A" stroke-width="1.4" stroke-dasharray="3,2" opacity="0.7"/><line x1="1213" y1="800" x2="1154" y2="834" stroke="#B8206A" stroke-width="1.4" stroke-dasharray="3,2" opacity="0.7"/><g transform="matrix(-1,0,0,1,2445,0)"><clipPath id="cLLW"><path d="M1212.7,824.0 C1207.7,821.8 1194.2,823.3 1181.7,821.8 C1169.2,820.3 1155.9,817.3 1137.4,815.1 C1118.9,812.9 1089.3,809.8 1070.8,808.5 C1052.3,807.2 1037.6,806.3 1026.5,807.4 C1015.4,808.5 1010.6,809.8 1004.3,815.1 C998.0,820.5 992.7,829.9 988.8,839.5 C984.9,849.1 981.8,861.7 981.1,872.8 C980.4,883.9 981.3,895.6 984.4,906.0 C987.5,916.4 992.9,925.6 999.9,934.9 C1006.9,944.1 1016.5,954.5 1026.5,961.5 C1036.5,968.5 1048.7,973.5 1059.8,977.0 C1070.9,980.5 1081.9,983.6 1093.0,982.5 C1104.1,981.4 1115.2,976.4 1126.3,970.3 C1137.4,964.2 1149.5,956.6 1159.5,945.9 C1169.5,935.2 1178.7,920.0 1186.1,906.0 C1193.5,892.0 1199.6,873.5 1203.9,861.7 C1208.2,849.9 1210.5,841.3 1212.0,835.0 C1213.5,828.7 1217.8,826.2 1212.7,824.0 Z"/></clipPath><path d="M1212.7,824.0 C1207.7,821.8 1194.2,823.3 1181.7,821.8 C1169.2,820.3 1155.9,817.3 1137.4,815.1 C1118.9,812.9 1089.3,809.8 1070.8,808.5 C1052.3,807.2 1037.6,806.3 1026.5,807.4 C1015.4,808.5 1010.6,809.8 1004.3,815.1 C998.0,820.5 992.7,829.9 988.8,839.5 C984.9,849.1 981.8,861.7 981.1,872.8 C980.4,883.9 981.3,895.6 984.4,906.0 C987.5,916.4 992.9,925.6 999.9,934.9 C1006.9,944.1 1016.5,954.5 1026.5,961.5 C1036.5,968.5 1048.7,973.5 1059.8,977.0 C1070.9,980.5 1081.9,983.6 1093.0,982.5 C1104.1,981.4 1115.2,976.4 1126.3,970.3 C1137.4,964.2 1149.5,956.6 1159.5,945.9 C1169.5,935.2 1178.7,920.0 1186.1,906.0 C1193.5,892.0 1199.6,873.5 1203.9,861.7 C1208.2,849.9 1210.5,841.3 1212.0,835.0 C1213.5,828.7 1217.8,826.2 1212.7,824.0 Z" fill="url(#gLW)"/><g clip-path="url(#cLLW)"><g filter="url(#blur4)"><ellipse cx="1100" cy="841" rx="30" ry="7" fill="#F04CA6" opacity="0.8"/><ellipse cx="1015" cy="855" rx="30" ry="10" fill="#F04CA6" opacity="0.85"/><ellipse cx="1180" cy="837" rx="32" ry="8" fill="#F060B0" opacity="0.55"/></g></g><path d="M1068.6,653.3 C1078.6,652.0 1107.4,654.7 1119.6,658.8 C1131.8,662.9 1135.1,671.6 1141.8,677.7 C1148.5,683.8 1152.8,689.5 1159.5,695.4 C1166.2,701.3 1175.0,706.9 1181.7,713.2 C1188.4,719.5 1194.6,726.8 1199.4,733.1 C1204.2,739.4 1207.9,744.1 1210.5,750.8 C1213.1,757.4 1214.6,761.5 1215.0,773.0 C1215.4,784.5 1218.8,811.3 1212.7,820.0 C1206.6,828.7 1195.3,825.3 1178.5,825.0 C1161.7,824.7 1134.2,821.0 1112.0,818.4 C1089.8,815.8 1064.2,812.4 1045.5,809.5 C1026.8,806.6 1011.6,807.4 1000.0,801.0 C988.4,794.6 977.9,777.9 976.0,771.0 C974.1,764.1 982.2,766.0 988.8,759.7 C995.4,753.4 1006.2,743.8 1015.4,733.1 C1024.6,722.4 1036.8,706.5 1044.2,695.4 C1051.6,684.3 1055.7,673.6 1059.8,666.6 C1063.9,659.6 1058.6,654.6 1068.6,653.3 Z" fill="url(#gUW)"/><path d="M979,766 C982,757 986,752 992,753 C1005,765 1015,776 1023.3,781.9 C1045,793 1065,800 1089.8,804 C1115,809 1135,813 1156.3,815 C1180,817 1198,817 1213,817 L1212.7,820 C1200,824 1190,825 1178.5,825 C1155,823 1135,821 1112,818.4 C1090,816 1065,812 1045.5,809.5 C1025,806 1010,803 1000,801 C988,792 981,780 977,768 Z" fill="#F0409E"/><path d="M1212,760 C1190,765 1160,780 1150,800 C1175,808 1200,812 1213,812 Z" fill="#F090C8" opacity="0.55"/><ellipse cx="1040" cy="703" rx="10" ry="8" fill="#6A5EC4" opacity="0.4" transform="rotate(30 1040 703)"/><circle cx="1039.0" cy="703.8" r="2.4" fill="none" stroke="#6A5EC4" stroke-width="1.4" opacity="0.9"/><circle cx="1048.5" cy="702.5" r="2.4" fill="none" stroke="#6A5EC4" stroke-width="1.4" opacity="0.9"/><circle cx="1040.2" cy="704.2" r="2.4" fill="none" stroke="#6A5EC4" stroke-width="1.4" opacity="0.9"/><circle cx="1033.7" cy="703.2" r="2.4" fill="none" stroke="#6A5EC4" stroke-width="1.4" opacity="0.9"/><circle cx="1042.6" cy="707.1" r="2.4" fill="none" stroke="#6A5EC4" stroke-width="1.4" opacity="0.9"/><circle cx="1031.9" cy="700.2" r="2.4" fill="none" stroke="#6A5EC4" stroke-width="1.4" opacity="0.9"/><circle cx="1031.8" cy="707.3" r="2.4" fill="none" stroke="#6A5EC4" stroke-width="1.4" opacity="0.9"/><circle cx="1043.9" cy="696.6" r="2.4" fill="none" stroke="#6A5EC4" stroke-width="1.4" opacity="0.9"/><circle cx="1049.6" cy="709.5" r="2.4" fill="none" stroke="#6A5EC4" stroke-width="1.4" opacity="0.9"/><circle cx="1043.1" cy="704.6" r="2.4" fill="none" stroke="#6A5EC4" stroke-width="1.4" opacity="0.9"/><circle cx="1033.1" cy="696.2" r="2.4" fill="none" stroke="#6A5EC4" stroke-width="1.4" opacity="0.9"/><circle cx="1040.6" cy="696.8" r="2.4" fill="none" stroke="#6A5EC4" stroke-width="1.4" opacity="0.9"/><circle cx="1033.8" cy="699.4" r="2.4" fill="none" stroke="#6A5EC4" stroke-width="1.4" opacity="0.9"/><circle cx="1030.6" cy="702.5" r="2.4" fill="none" stroke="#6A5EC4" stroke-width="1.4" opacity="0.9"/><circle cx="1038.8" cy="707.8" r="2.4" fill="none" stroke="#6A5EC4" stroke-width="1.4" opacity="0.9"/><circle cx="1040.4" cy="705.0" r="2.4" fill="none" stroke="#6A5EC4" stroke-width="1.4" opacity="0.9"/><ellipse cx="1069" cy="758" rx="10" ry="8" fill="#6A5EC4" opacity="0.4" transform="rotate(30 1069 758)"/><circle cx="1069.0" cy="760.3" r="2.4" fill="none" stroke="#6A5EC4" stroke-width="1.4" opacity="0.9"/><circle cx="1068.1" cy="754.9" r="2.4" fill="none" stroke="#6A5EC4" stroke-width="1.4" opacity="0.9"/><circle cx="1079.0" cy="764.9" r="2.4" fill="none" stroke="#6A5EC4" stroke-width="1.4" opacity="0.9"/><circle cx="1075.8" cy="760.9" r="2.4" fill="none" stroke="#6A5EC4" stroke-width="1.4" opacity="0.9"/><circle cx="1065.3" cy="754.2" r="2.4" fill="none" stroke="#6A5EC4" stroke-width="1.4" opacity="0.9"/><circle cx="1064.8" cy="752.0" r="2.4" fill="none" stroke="#6A5EC4" stroke-width="1.4" opacity="0.9"/><circle cx="1074.3" cy="756.6" r="2.4" fill="none" stroke="#6A5EC4" stroke-width="1.4" opacity="0.9"/><circle cx="1075.9" cy="756.4" r="2.4" fill="none" stroke="#6A5EC4" stroke-width="1.4" opacity="0.9"/><circle cx="1078.2" cy="762.9" r="2.4" fill="none" stroke="#6A5EC4" stroke-width="1.4" opacity="0.9"/><circle cx="1059.0" cy="753.9" r="2.4" fill="none" stroke="#6A5EC4" stroke-width="1.4" opacity="0.9"/><circle cx="1077.2" cy="757.6" r="2.4" fill="none" stroke="#6A5EC4" stroke-width="1.4" opacity="0.9"/><circle cx="1078.6" cy="756.6" r="2.4" fill="none" stroke="#6A5EC4" stroke-width="1.4" opacity="0.9"/><circle cx="1060.5" cy="759.8" r="2.4" fill="none" stroke="#6A5EC4" stroke-width="1.4" opacity="0.9"/><circle cx="1074.6" cy="754.8" r="2.4" fill="none" stroke="#6A5EC4" stroke-width="1.4" opacity="0.9"/><circle cx="1060.7" cy="755.7" r="2.4" fill="none" stroke="#6A5EC4" stroke-width="1.4" opacity="0.9"/><circle cx="1078.3" cy="761.6" r="2.4" fill="none" stroke="#6A5EC4" stroke-width="1.4" opacity="0.9"/><circle cx="1061.4" cy="754.4" r="2.4" fill="none" stroke="#6A5EC4" stroke-width="1.4" opacity="0.9"/><circle cx="1061.0" cy="751.8" r="2.4" fill="none" stroke="#6A5EC4" stroke-width="1.4" opacity="0.9"/><circle cx="1074.9" cy="753.5" r="2.4" fill="none" stroke="#6A5EC4" stroke-width="1.4" opacity="0.9"/><circle cx="1070.2" cy="757.3" r="2.4" fill="none" stroke="#6A5EC4" stroke-width="1.4" opacity="0.9"/><ellipse cx="1106" cy="750" rx="10" ry="8" fill="#6A5EC4" opacity="0.4" transform="rotate(30 1106 750)"/><circle cx="1099.8" cy="753.2" r="2.4" fill="none" stroke="#6A5EC4" stroke-width="1.4" opacity="0.9"/><circle cx="1098.6" cy="752.0" r="2.4" fill="none" stroke="#6A5EC4" stroke-width="1.4" opacity="0.9"/><circle cx="1098.3" cy="748.9" r="2.4" fill="none" stroke="#6A5EC4" stroke-width="1.4" opacity="0.9"/><circle cx="1100.3" cy="746.8" r="2.4" fill="none" stroke="#6A5EC4" stroke-width="1.4" opacity="0.9"/><circle cx="1115.4" cy="754.2" r="2.4" fill="none" stroke="#6A5EC4" stroke-width="1.4" opacity="0.9"/><circle cx="1102.1" cy="755.4" r="2.4" fill="none" stroke="#6A5EC4" stroke-width="1.4" opacity="0.9"/><circle cx="1100.2" cy="748.5" r="2.4" fill="none" stroke="#6A5EC4" stroke-width="1.4" opacity="0.9"/><circle cx="1113.1" cy="752.0" r="2.4" fill="none" stroke="#6A5EC4" stroke-width="1.4" opacity="0.9"/><circle cx="1098.0" cy="756.9" r="2.4" fill="none" stroke="#6A5EC4" stroke-width="1.4" opacity="0.9"/><circle cx="1100.3" cy="746.6" r="2.4" fill="none" stroke="#6A5EC4" stroke-width="1.4" opacity="0.9"/><circle cx="1111.5" cy="747.6" r="2.4" fill="none" stroke="#6A5EC4" stroke-width="1.4" opacity="0.9"/><circle cx="1101.9" cy="744.0" r="2.4" fill="none" stroke="#6A5EC4" stroke-width="1.4" opacity="0.9"/><circle cx="1097.8" cy="751.2" r="2.4" fill="none" stroke="#6A5EC4" stroke-width="1.4" opacity="0.9"/><circle cx="1100.9" cy="751.4" r="2.4" fill="none" stroke="#6A5EC4" stroke-width="1.4" opacity="0.9"/><circle cx="1103.4" cy="749.3" r="2.4" fill="none" stroke="#6A5EC4" stroke-width="1.4" opacity="0.9"/><circle cx="1115.2" cy="749.8" r="2.4" fill="none" stroke="#6A5EC4" stroke-width="1.4" opacity="0.9"/><circle cx="1107.5" cy="755.1" r="2.4" fill="none" stroke="#6A5EC4" stroke-width="1.4" opacity="0.9"/><circle cx="1099.7" cy="745.2" r="2.4" fill="none" stroke="#6A5EC4" stroke-width="1.4" opacity="0.9"/><ellipse cx="1105" cy="783" rx="10" ry="8" fill="#6A5EC4" opacity="0.4" transform="rotate(30 1105 783)"/><circle cx="1113.2" cy="787.4" r="2.4" fill="none" stroke="#6A5EC4" stroke-width="1.4" opacity="0.9"/><circle cx="1100.0" cy="778.7" r="2.4" fill="none" stroke="#6A5EC4" stroke-width="1.4" opacity="0.9"/><circle cx="1109.8" cy="789.2" r="2.4" fill="none" stroke="#6A5EC4" stroke-width="1.4" opacity="0.9"/><circle cx="1098.9" cy="789.3" r="2.4" fill="none" stroke="#6A5EC4" stroke-width="1.4" opacity="0.9"/><circle cx="1112.6" cy="784.4" r="2.4" fill="none" stroke="#6A5EC4" stroke-width="1.4" opacity="0.9"/><circle cx="1103.4" cy="777.5" r="2.4" fill="none" stroke="#6A5EC4" stroke-width="1.4" opacity="0.9"/><circle cx="1095.8" cy="789.5" r="2.4" fill="none" stroke="#6A5EC4" stroke-width="1.4" opacity="0.9"/><circle cx="1099.8" cy="785.9" r="2.4" fill="none" stroke="#6A5EC4" stroke-width="1.4" opacity="0.9"/><circle cx="1100.1" cy="787.5" r="2.4" fill="none" stroke="#6A5EC4" stroke-width="1.4" opacity="0.9"/><circle cx="1106.9" cy="780.1" r="2.4" fill="none" stroke="#6A5EC4" stroke-width="1.4" opacity="0.9"/><circle cx="1098.5" cy="786.1" r="2.4" fill="none" stroke="#6A5EC4" stroke-width="1.4" opacity="0.9"/><circle cx="1096.4" cy="779.2" r="2.4" fill="none" stroke="#6A5EC4" stroke-width="1.4" opacity="0.9"/><circle cx="1106.2" cy="787.9" r="2.4" fill="none" stroke="#6A5EC4" stroke-width="1.4" opacity="0.9"/><circle cx="1107.3" cy="779.9" r="2.4" fill="none" stroke="#6A5EC4" stroke-width="1.4" opacity="0.9"/><circle cx="1113.3" cy="778.9" r="2.4" fill="none" stroke="#6A5EC4" stroke-width="1.4" opacity="0.9"/><circle cx="1095.3" cy="779.8" r="2.4" fill="none" stroke="#6A5EC4" stroke-width="1.4" opacity="0.9"/><circle cx="1103.9" cy="776.8" r="2.4" fill="none" stroke="#6A5EC4" stroke-width="1.4" opacity="0.9"/><circle cx="1098.5" cy="781.2" r="2.4" fill="none" stroke="#6A5EC4" stroke-width="1.4" opacity="0.9"/><ellipse cx="1137" cy="776" rx="10" ry="8" fill="#6A5EC4" opacity="0.4" transform="rotate(30 1137 776)"/><circle cx="1138.4" cy="770.8" r="2.4" fill="none" stroke="#6A5EC4" stroke-width="1.4" opacity="0.9"/><circle cx="1134.2" cy="781.5" r="2.4" fill="none" stroke="#6A5EC4" stroke-width="1.4" opacity="0.9"/><circle cx="1146.6" cy="778.2" r="2.4" fill="none" stroke="#6A5EC4" stroke-width="1.4" opacity="0.9"/><circle cx="1140.8" cy="777.2" r="2.4" fill="none" stroke="#6A5EC4" stroke-width="1.4" opacity="0.9"/><circle cx="1129.8" cy="769.5" r="2.4" fill="none" stroke="#6A5EC4" stroke-width="1.4" opacity="0.9"/><circle cx="1127.4" cy="781.7" r="2.4" fill="none" stroke="#6A5EC4" stroke-width="1.4" opacity="0.9"/><circle cx="1141.0" cy="782.5" r="2.4" fill="none" stroke="#6A5EC4" stroke-width="1.4" opacity="0.9"/><circle cx="1127.4" cy="777.9" r="2.4" fill="none" stroke="#6A5EC4" stroke-width="1.4" opacity="0.9"/><circle cx="1136.6" cy="779.2" r="2.4" fill="none" stroke="#6A5EC4" stroke-width="1.4" opacity="0.9"/><circle cx="1133.4" cy="783.0" r="2.4" fill="none" stroke="#6A5EC4" stroke-width="1.4" opacity="0.9"/><circle cx="1128.5" cy="776.6" r="2.4" fill="none" stroke="#6A5EC4" stroke-width="1.4" opacity="0.9"/><circle cx="1141.7" cy="781.6" r="2.4" fill="none" stroke="#6A5EC4" stroke-width="1.4" opacity="0.9"/><circle cx="1141.7" cy="778.9" r="2.4" fill="none" stroke="#6A5EC4" stroke-width="1.4" opacity="0.9"/><circle cx="1142.9" cy="781.8" r="2.4" fill="none" stroke="#6A5EC4" stroke-width="1.4" opacity="0.9"/><circle cx="1134.0" cy="778.6" r="2.4" fill="none" stroke="#6A5EC4" stroke-width="1.4" opacity="0.9"/><circle cx="1145.0" cy="781.2" r="2.4" fill="none" stroke="#6A5EC4" stroke-width="1.4" opacity="0.9"/><circle cx="1135.3" cy="780.1" r="2.4" fill="none" stroke="#6A5EC4" stroke-width="1.4" opacity="0.9"/><circle cx="1144.3" cy="777.0" r="2.4" fill="none" stroke="#6A5EC4" stroke-width="1.4" opacity="0.9"/><ellipse cx="1017" cy="735" rx="10" ry="8" fill="#6A5EC4" opacity="0.4" transform="rotate(30 1017 735)"/><circle cx="1019.5" cy="733.4" r="2.4" fill="none" stroke="#6A5EC4" stroke-width="1.4" opacity="0.9"/><circle cx="1018.7" cy="736.5" r="2.4" fill="none" stroke="#6A5EC4" stroke-width="1.4" opacity="0.9"/><circle cx="1008.6" cy="737.0" r="2.4" fill="none" stroke="#6A5EC4" stroke-width="1.4" opacity="0.9"/><circle cx="1026.9" cy="740.3" r="2.4" fill="none" stroke="#6A5EC4" stroke-width="1.4" opacity="0.9"/><circle cx="1021.6" cy="733.4" r="2.4" fill="none" stroke="#6A5EC4" stroke-width="1.4" opacity="0.9"/><circle cx="1021.7" cy="736.1" r="2.4" fill="none" stroke="#6A5EC4" stroke-width="1.4" opacity="0.9"/><circle cx="1015.8" cy="739.7" r="2.4" fill="none" stroke="#6A5EC4" stroke-width="1.4" opacity="0.9"/><circle cx="1008.7" cy="738.5" r="2.4" fill="none" stroke="#6A5EC4" stroke-width="1.4" opacity="0.9"/><circle cx="1007.6" cy="736.4" r="2.4" fill="none" stroke="#6A5EC4" stroke-width="1.4" opacity="0.9"/><circle cx="1016.6" cy="731.2" r="2.4" fill="none" stroke="#6A5EC4" stroke-width="1.4" opacity="0.9"/><circle cx="1021.0" cy="735.0" r="2.4" fill="none" stroke="#6A5EC4" stroke-width="1.4" opacity="0.9"/><circle cx="1019.3" cy="740.9" r="2.4" fill="none" stroke="#6A5EC4" stroke-width="1.4" opacity="0.9"/><circle cx="1012.1" cy="728.2" r="2.4" fill="none" stroke="#6A5EC4" stroke-width="1.4" opacity="0.9"/><circle cx="1013.0" cy="737.5" r="2.4" fill="none" stroke="#6A5EC4" stroke-width="1.4" opacity="0.9"/><ellipse cx="1033" cy="878" rx="10" ry="8" fill="#4A6660" opacity="0.4" transform="rotate(30 1033 878)"/><circle cx="1027.1" cy="873.4" r="2.4" fill="none" stroke="#4A6660" stroke-width="1.4" opacity="0.9"/><circle cx="1041.1" cy="880.2" r="2.4" fill="none" stroke="#4A6660" stroke-width="1.4" opacity="0.9"/><circle cx="1031.8" cy="883.5" r="2.4" fill="none" stroke="#4A6660" stroke-width="1.4" opacity="0.9"/><circle cx="1029.5" cy="880.3" r="2.4" fill="none" stroke="#4A6660" stroke-width="1.4" opacity="0.9"/><circle cx="1027.0" cy="877.0" r="2.4" fill="none" stroke="#4A6660" stroke-width="1.4" opacity="0.9"/><circle cx="1039.1" cy="883.8" r="2.4" fill="none" stroke="#4A6660" stroke-width="1.4" opacity="0.9"/><circle cx="1040.6" cy="876.4" r="2.4" fill="none" stroke="#4A6660" stroke-width="1.4" opacity="0.9"/><circle cx="1034.7" cy="875.4" r="2.4" fill="none" stroke="#4A6660" stroke-width="1.4" opacity="0.9"/><circle cx="1025.7" cy="878.0" r="2.4" fill="none" stroke="#4A6660" stroke-width="1.4" opacity="0.9"/><circle cx="1039.7" cy="882.9" r="2.4" fill="none" stroke="#4A6660" stroke-width="1.4" opacity="0.9"/><circle cx="1037.2" cy="884.3" r="2.4" fill="none" stroke="#4A6660" stroke-width="1.4" opacity="0.9"/><circle cx="1028.5" cy="873.4" r="2.4" fill="none" stroke="#4A6660" stroke-width="1.4" opacity="0.9"/><circle cx="1032.0" cy="874.9" r="2.4" fill="none" stroke="#4A6660" stroke-width="1.4" opacity="0.9"/><circle cx="1027.3" cy="876.8" r="2.4" fill="none" stroke="#4A6660" stroke-width="1.4" opacity="0.9"/><circle cx="1035.5" cy="877.9" r="2.4" fill="none" stroke="#4A6660" stroke-width="1.4" opacity="0.9"/><circle cx="1029.3" cy="882.7" r="2.4" fill="none" stroke="#4A6660" stroke-width="1.4" opacity="0.9"/><circle cx="1042.6" cy="877.3" r="2.4" fill="none" stroke="#4A6660" stroke-width="1.4" opacity="0.9"/><circle cx="1024.5" cy="871.4" r="2.4" fill="none" stroke="#4A6660" stroke-width="1.4" opacity="0.9"/><ellipse cx="1078" cy="885" rx="10" ry="8" fill="#4A6660" opacity="0.4" transform="rotate(30 1078 885)"/><circle cx="1085.5" cy="878.6" r="2.4" fill="none" stroke="#4A6660" stroke-width="1.4" opacity="0.9"/><circle cx="1082.2" cy="886.0" r="2.4" fill="none" stroke="#4A6660" stroke-width="1.4" opacity="0.9"/><circle cx="1074.2" cy="889.1" r="2.4" fill="none" stroke="#4A6660" stroke-width="1.4" opacity="0.9"/><circle cx="1068.4" cy="879.9" r="2.4" fill="none" stroke="#4A6660" stroke-width="1.4" opacity="0.9"/><circle cx="1077.1" cy="878.3" r="2.4" fill="none" stroke="#4A6660" stroke-width="1.4" opacity="0.9"/><circle cx="1084.6" cy="881.3" r="2.4" fill="none" stroke="#4A6660" stroke-width="1.4" opacity="0.9"/><circle cx="1070.8" cy="878.7" r="2.4" fill="none" stroke="#4A6660" stroke-width="1.4" opacity="0.9"/><circle cx="1080.6" cy="884.3" r="2.4" fill="none" stroke="#4A6660" stroke-width="1.4" opacity="0.9"/><circle cx="1080.6" cy="887.2" r="2.4" fill="none" stroke="#4A6660" stroke-width="1.4" opacity="0.9"/><circle cx="1084.1" cy="891.4" r="2.4" fill="none" stroke="#4A6660" stroke-width="1.4" opacity="0.9"/><circle cx="1081.7" cy="880.8" r="2.4" fill="none" stroke="#4A6660" stroke-width="1.4" opacity="0.9"/><circle cx="1077.5" cy="880.5" r="2.4" fill="none" stroke="#4A6660" stroke-width="1.4" opacity="0.9"/><circle cx="1068.2" cy="884.6" r="2.4" fill="none" stroke="#4A6660" stroke-width="1.4" opacity="0.9"/><circle cx="1082.3" cy="880.5" r="2.4" fill="none" stroke="#4A6660" stroke-width="1.4" opacity="0.9"/><circle cx="1073.4" cy="882.8" r="2.4" fill="none" stroke="#4A6660" stroke-width="1.4" opacity="0.9"/><circle cx="1081.9" cy="885.3" r="2.4" fill="none" stroke="#4A6660" stroke-width="1.4" opacity="0.9"/><circle cx="1080.3" cy="888.6" r="2.4" fill="none" stroke="#4A6660" stroke-width="1.4" opacity="0.9"/><circle cx="1075.9" cy="889.1" r="2.4" fill="none" stroke="#4A6660" stroke-width="1.4" opacity="0.9"/><ellipse cx="1140" cy="861" rx="10" ry="8" fill="#4A6660" opacity="0.4" transform="rotate(30 1140 861)"/><circle cx="1148.1" cy="855.2" r="2.4" fill="none" stroke="#4A6660" stroke-width="1.4" opacity="0.9"/><circle cx="1148.7" cy="864.1" r="2.4" fill="none" stroke="#4A6660" stroke-width="1.4" opacity="0.9"/><circle cx="1132.6" cy="860.3" r="2.4" fill="none" stroke="#4A6660" stroke-width="1.4" opacity="0.9"/><circle cx="1142.5" cy="866.7" r="2.4" fill="none" stroke="#4A6660" stroke-width="1.4" opacity="0.9"/><circle cx="1137.5" cy="862.0" r="2.4" fill="none" stroke="#4A6660" stroke-width="1.4" opacity="0.9"/><circle cx="1147.6" cy="865.2" r="2.4" fill="none" stroke="#4A6660" stroke-width="1.4" opacity="0.9"/><circle cx="1148.9" cy="860.5" r="2.4" fill="none" stroke="#4A6660" stroke-width="1.4" opacity="0.9"/><circle cx="1143.0" cy="856.9" r="2.4" fill="none" stroke="#4A6660" stroke-width="1.4" opacity="0.9"/><circle cx="1144.4" cy="865.5" r="2.4" fill="none" stroke="#4A6660" stroke-width="1.4" opacity="0.9"/><circle cx="1142.8" cy="864.0" r="2.4" fill="none" stroke="#4A6660" stroke-width="1.4" opacity="0.9"/><circle cx="1134.3" cy="866.6" r="2.4" fill="none" stroke="#4A6660" stroke-width="1.4" opacity="0.9"/><circle cx="1149.6" cy="867.7" r="2.4" fill="none" stroke="#4A6660" stroke-width="1.4" opacity="0.9"/><circle cx="1140.7" cy="865.1" r="2.4" fill="none" stroke="#4A6660" stroke-width="1.4" opacity="0.9"/><circle cx="1136.4" cy="866.7" r="2.4" fill="none" stroke="#4A6660" stroke-width="1.4" opacity="0.9"/><circle cx="1147.1" cy="858.9" r="2.4" fill="none" stroke="#4A6660" stroke-width="1.4" opacity="0.9"/><circle cx="1131.7" cy="860.2" r="2.4" fill="none" stroke="#4A6660" stroke-width="1.4" opacity="0.9"/><circle cx="1141.0" cy="864.8" r="2.4" fill="none" stroke="#4A6660" stroke-width="1.4" opacity="0.9"/><circle cx="1139.7" cy="854.4" r="2.4" fill="none" stroke="#4A6660" stroke-width="1.4" opacity="0.9"/><ellipse cx="1142" cy="885" rx="10" ry="8" fill="#4A6660" opacity="0.4" transform="rotate(30 1142 885)"/><circle cx="1148.2" cy="878.9" r="2.4" fill="none" stroke="#4A6660" stroke-width="1.4" opacity="0.9"/><circle cx="1148.0" cy="880.4" r="2.4" fill="none" stroke="#4A6660" stroke-width="1.4" opacity="0.9"/><circle cx="1138.7" cy="889.0" r="2.4" fill="none" stroke="#4A6660" stroke-width="1.4" opacity="0.9"/><circle cx="1134.8" cy="880.1" r="2.4" fill="none" stroke="#4A6660" stroke-width="1.4" opacity="0.9"/><circle cx="1142.3" cy="888.1" r="2.4" fill="none" stroke="#4A6660" stroke-width="1.4" opacity="0.9"/><circle cx="1148.8" cy="887.7" r="2.4" fill="none" stroke="#4A6660" stroke-width="1.4" opacity="0.9"/><circle cx="1150.9" cy="884.9" r="2.4" fill="none" stroke="#4A6660" stroke-width="1.4" opacity="0.9"/><circle cx="1151.0" cy="879.2" r="2.4" fill="none" stroke="#4A6660" stroke-width="1.4" opacity="0.9"/><circle cx="1136.4" cy="885.4" r="2.4" fill="none" stroke="#4A6660" stroke-width="1.4" opacity="0.9"/><circle cx="1137.8" cy="888.2" r="2.4" fill="none" stroke="#4A6660" stroke-width="1.4" opacity="0.9"/><circle cx="1144.8" cy="885.3" r="2.4" fill="none" stroke="#4A6660" stroke-width="1.4" opacity="0.9"/><circle cx="1148.9" cy="885.8" r="2.4" fill="none" stroke="#4A6660" stroke-width="1.4" opacity="0.9"/><circle cx="1138.2" cy="883.3" r="2.4" fill="none" stroke="#4A6660" stroke-width="1.4" opacity="0.9"/><circle cx="1148.9" cy="890.6" r="2.4" fill="none" stroke="#4A6660" stroke-width="1.4" opacity="0.9"/><circle cx="1136.2" cy="889.9" r="2.4" fill="none" stroke="#4A6660" stroke-width="1.4" opacity="0.9"/><circle cx="1151.4" cy="885.3" r="2.4" fill="none" stroke="#4A6660" stroke-width="1.4" opacity="0.9"/><circle cx="1143.5" cy="880.8" r="2.4" fill="none" stroke="#4A6660" stroke-width="1.4" opacity="0.9"/><circle cx="1142.7" cy="885.0" r="2.4" fill="none" stroke="#4A6660" stroke-width="1.4" opacity="0.9"/><circle cx="1144.1" cy="878.4" r="2.4" fill="none" stroke="#4A6660" stroke-width="1.4" opacity="0.9"/><circle cx="1151.4" cy="885.2" r="2.4" fill="none" stroke="#4A6660" stroke-width="1.4" opacity="0.9"/><ellipse cx="1178" cy="870" rx="10" ry="8" fill="#4A6660" opacity="0.4" transform="rotate(30 1178 870)"/><circle cx="1176.0" cy="874.2" r="2.4" fill="none" stroke="#4A6660" stroke-width="1.4" opacity="0.9"/><circle cx="1179.3" cy="869.9" r="2.4" fill="none" stroke="#4A6660" stroke-width="1.4" opacity="0.9"/><circle cx="1181.8" cy="863.9" r="2.4" fill="none" stroke="#4A6660" stroke-width="1.4" opacity="0.9"/><circle cx="1178.8" cy="868.8" r="2.4" fill="none" stroke="#4A6660" stroke-width="1.4" opacity="0.9"/><circle cx="1187.1" cy="875.9" r="2.4" fill="none" stroke="#4A6660" stroke-width="1.4" opacity="0.9"/><circle cx="1173.4" cy="869.6" r="2.4" fill="none" stroke="#4A6660" stroke-width="1.4" opacity="0.9"/><circle cx="1170.5" cy="869.1" r="2.4" fill="none" stroke="#4A6660" stroke-width="1.4" opacity="0.9"/><circle cx="1184.3" cy="875.6" r="2.4" fill="none" stroke="#4A6660" stroke-width="1.4" opacity="0.9"/><circle cx="1177.5" cy="867.4" r="2.4" fill="none" stroke="#4A6660" stroke-width="1.4" opacity="0.9"/><circle cx="1171.8" cy="871.7" r="2.4" fill="none" stroke="#4A6660" stroke-width="1.4" opacity="0.9"/><circle cx="1186.5" cy="864.8" r="2.4" fill="none" stroke="#4A6660" stroke-width="1.4" opacity="0.9"/><circle cx="1183.6" cy="863.3" r="2.4" fill="none" stroke="#4A6660" stroke-width="1.4" opacity="0.9"/><circle cx="1171.9" cy="866.2" r="2.4" fill="none" stroke="#4A6660" stroke-width="1.4" opacity="0.9"/><circle cx="1181.7" cy="867.5" r="2.4" fill="none" stroke="#4A6660" stroke-width="1.4" opacity="0.9"/><circle cx="1175.1" cy="871.7" r="2.4" fill="none" stroke="#4A6660" stroke-width="1.4" opacity="0.9"/><circle cx="1170.1" cy="873.2" r="2.4" fill="none" stroke="#4A6660" stroke-width="1.4" opacity="0.9"/><circle cx="1170.5" cy="870.1" r="2.4" fill="none" stroke="#4A6660" stroke-width="1.4" opacity="0.9"/><circle cx="1173.0" cy="865.8" r="2.4" fill="none" stroke="#4A6660" stroke-width="1.4" opacity="0.9"/><ellipse cx="1110" cy="913" rx="10" ry="8" fill="#4A6660" opacity="0.4" transform="rotate(30 1110 913)"/><circle cx="1110.6" cy="912.1" r="2.4" fill="none" stroke="#4A6660" stroke-width="1.4" opacity="0.9"/><circle cx="1107.5" cy="911.8" r="2.4" fill="none" stroke="#4A6660" stroke-width="1.4" opacity="0.9"/><circle cx="1110.6" cy="908.2" r="2.4" fill="none" stroke="#4A6660" stroke-width="1.4" opacity="0.9"/><circle cx="1104.1" cy="914.8" r="2.4" fill="none" stroke="#4A6660" stroke-width="1.4" opacity="0.9"/><circle cx="1112.8" cy="913.4" r="2.4" fill="none" stroke="#4A6660" stroke-width="1.4" opacity="0.9"/><circle cx="1117.0" cy="914.6" r="2.4" fill="none" stroke="#4A6660" stroke-width="1.4" opacity="0.9"/><circle cx="1117.1" cy="909.3" r="2.4" fill="none" stroke="#4A6660" stroke-width="1.4" opacity="0.9"/><circle cx="1114.8" cy="917.3" r="2.4" fill="none" stroke="#4A6660" stroke-width="1.4" opacity="0.9"/><circle cx="1118.1" cy="910.4" r="2.4" fill="none" stroke="#4A6660" stroke-width="1.4" opacity="0.9"/><circle cx="1106.3" cy="918.9" r="2.4" fill="none" stroke="#4A6660" stroke-width="1.4" opacity="0.9"/><circle cx="1104.4" cy="920.0" r="2.4" fill="none" stroke="#4A6660" stroke-width="1.4" opacity="0.9"/><circle cx="1117.8" cy="907.9" r="2.4" fill="none" stroke="#4A6660" stroke-width="1.4" opacity="0.9"/><circle cx="1104.8" cy="916.2" r="2.4" fill="none" stroke="#4A6660" stroke-width="1.4" opacity="0.9"/><circle cx="1105.2" cy="907.4" r="2.4" fill="none" stroke="#4A6660" stroke-width="1.4" opacity="0.9"/><circle cx="1116.6" cy="911.9" r="2.4" fill="none" stroke="#4A6660" stroke-width="1.4" opacity="0.9"/><circle cx="1115.8" cy="907.8" r="2.4" fill="none" stroke="#4A6660" stroke-width="1.4" opacity="0.9"/><circle cx="1108.1" cy="915.6" r="2.4" fill="none" stroke="#4A6660" stroke-width="1.4" opacity="0.9"/><circle cx="1100.4" cy="908.8" r="2.4" fill="none" stroke="#4A6660" stroke-width="1.4" opacity="0.9"/><ellipse cx="1158" cy="912" rx="10" ry="8" fill="#4A6660" opacity="0.4" transform="rotate(30 1158 912)"/><circle cx="1161.6" cy="917.8" r="2.4" fill="none" stroke="#4A6660" stroke-width="1.4" opacity="0.9"/><circle cx="1167.4" cy="906.6" r="2.4" fill="none" stroke="#4A6660" stroke-width="1.4" opacity="0.9"/><circle cx="1158.1" cy="915.6" r="2.4" fill="none" stroke="#4A6660" stroke-width="1.4" opacity="0.9"/><circle cx="1158.1" cy="914.6" r="2.4" fill="none" stroke="#4A6660" stroke-width="1.4" opacity="0.9"/><circle cx="1151.8" cy="906.0" r="2.4" fill="none" stroke="#4A6660" stroke-width="1.4" opacity="0.9"/><circle cx="1150.1" cy="905.5" r="2.4" fill="none" stroke="#4A6660" stroke-width="1.4" opacity="0.9"/><circle cx="1159.0" cy="912.2" r="2.4" fill="none" stroke="#4A6660" stroke-width="1.4" opacity="0.9"/><circle cx="1159.4" cy="907.1" r="2.4" fill="none" stroke="#4A6660" stroke-width="1.4" opacity="0.9"/><circle cx="1151.7" cy="907.9" r="2.4" fill="none" stroke="#4A6660" stroke-width="1.4" opacity="0.9"/><circle cx="1164.8" cy="918.9" r="2.4" fill="none" stroke="#4A6660" stroke-width="1.4" opacity="0.9"/><circle cx="1166.5" cy="906.3" r="2.4" fill="none" stroke="#4A6660" stroke-width="1.4" opacity="0.9"/><circle cx="1149.2" cy="918.3" r="2.4" fill="none" stroke="#4A6660" stroke-width="1.4" opacity="0.9"/><circle cx="1157.2" cy="915.7" r="2.4" fill="none" stroke="#4A6660" stroke-width="1.4" opacity="0.9"/><circle cx="1154.5" cy="911.5" r="2.4" fill="none" stroke="#4A6660" stroke-width="1.4" opacity="0.9"/><circle cx="1158.3" cy="911.0" r="2.4" fill="none" stroke="#4A6660" stroke-width="1.4" opacity="0.9"/><circle cx="1160.0" cy="905.2" r="2.4" fill="none" stroke="#4A6660" stroke-width="1.4" opacity="0.9"/><circle cx="1162.0" cy="916.8" r="2.4" fill="none" stroke="#4A6660" stroke-width="1.4" opacity="0.9"/><circle cx="1151.6" cy="911.4" r="2.4" fill="none" stroke="#4A6660" stroke-width="1.4" opacity="0.9"/><line x1="1110" y1="739" x2="1205" y2="780" stroke="#222" stroke-width="1.5"/><line x1="1012" y1="914" x2="1105" y2="872" stroke="#222" stroke-width="1.5"/><line x1="1026" y1="944" x2="1130" y2="880" stroke="#222" stroke-width="1.5"/><line x1="1080" y1="960" x2="1160" y2="905" stroke="#222" stroke-width="1.5"/><path d="M984,900 C988,925 1000,945 1026,962 C1045,975 1070,982 1093,982" fill="none" stroke="#333" stroke-width="1.2" opacity="0.6"/><path d="M1099,680 C1080,688 1075,712 1091,728 C1085,712 1088,692 1109,684 Z" fill="#1d1020"/><circle cx="1006.5" cy="740.5" r="5" fill="#222"/><circle cx="1008" cy="739" r="5" fill="#F0288C"/><circle cx="1046.5" cy="722.5" r="4" fill="#222"/><circle cx="1048" cy="721" r="4" fill="#F0288C"/><circle cx="997.5" cy="868.5" r="5" fill="#222"/><circle cx="999" cy="867" r="5" fill="#F0288C"/><circle cx="1000.5" cy="898.5" r="6" fill="#222"/><circle cx="1002" cy="897" r="6" fill="#F0288C"/><circle cx="1014.5" cy="945.5" r="6" fill="#222"/><circle cx="1016" cy="944" r="6" fill="#F0288C"/><circle cx="1038.5" cy="968.5" r="5" fill="#222"/><circle cx="1040" cy="967" r="5" fill="#F0288C"/><circle cx="1058.5" cy="976.5" r="5" fill="#222"/><circle cx="1060" cy="975" r="5" fill="#F0288C"/><circle cx="1073.5" cy="658.5" r="6" fill="#222"/><circle cx="1075" cy="657" r="6" fill="#F0288C"/><line x1="1213" y1="800" x2="1154" y2="766" stroke="#B8206A" stroke-width="1.4" stroke-dasharray="3,2" opacity="0.7"/><line x1="1213" y1="800" x2="1147" y2="775" stroke="#B8206A" stroke-width="1.4" stroke-dasharray="3,2" opacity="0.7"/><line x1="1213" y1="800" x2="1143" y2="784" stroke="#B8206A" stroke-width="1.4" stroke-dasharray="3,2" opacity="0.7"/><line x1="1213" y1="800" x2="1140" y2="795" stroke="#B8206A" stroke-width="1.4" stroke-dasharray="3,2" opacity="0.7"/><line x1="1213" y1="800" x2="1140" y2="805" stroke="#B8206A" stroke-width="1.4" stroke-dasharray="3,2" opacity="0.7"/><line x1="1213" y1="800" x2="1143" y2="816" stroke="#B8206A" stroke-width="1.4" stroke-dasharray="3,2" opacity="0.7"/><line x1="1213" y1="800" x2="1147" y2="825" stroke="#B8206A" stroke-width="1.4" stroke-dasharray="3,2" opacity="0.7"/><line x1="1213" y1="800" x2="1154" y2="834" stroke="#B8206A" stroke-width="1.4" stroke-dasharray="3,2" opacity="0.7"/></g><path d="M1223,749 C1232,750 1234,765 1234,785 C1233,825 1229,860 1224,886 C1219,860 1214,825 1213,785 C1213,765 1215,750 1223,749 Z" fill="#111"/><path d="M1219,760 C1223,757 1227,758 1228,762" stroke="#fff" stroke-width="1.2" fill="none" opacity="0.7"/><path d="M1219,755 L1197,729 M1227,755 L1250,728" stroke="#111" stroke-width="1.8" fill="none"/>
<path d="M971.0,425.9 Q963.3,444.9 972.8,470.7 Q957.1,477.5 986.6,519.0 Q972.3,529.4 1001.2,560.3 Q988.6,575.0 1022.8,586.2 Q1010.7,600.5 1033.1,606.0 Q1036.5,623.0 1050.3,624.1 C1051.4,613.4 1055.9,580.7 1057.0,560.0 C1058.1,539.3 1057.8,519.5 1057.0,500.0 C1056.2,480.5 1052.8,452.5 1052.0,443.0 C1050.6,441.6 1049.1,437.6 1043.4,434.5 C1037.7,431.4 1027.4,426.2 1017.6,424.1 C1007.8,422.0 992.6,421.3 984.8,421.6 C977.0,421.9 973.3,425.2 971.0,425.9 Z" fill="#ffffff" stroke="#1a1a1a" stroke-width="2.1" stroke-linejoin="round"/><path d="M974.2,427.9 Q966.5,444.9 976.0,470.7 Q960.3,477.5 989.8,519.0 Q975.5,529.4 1004.4,560.3 Q991.8,575.0 1026.0,586.2 Q1013.9,600.5 1036.3,606.0 Q1039.7,623.0 1053.5,624.1" fill="none" stroke="#aaaaaa" stroke-width="3"/><path d="M974.2,427.9 Q966.5,444.9 976.0,470.7 Q960.3,477.5 989.8,519.0 Q975.5,529.4 1004.4,560.3 Q991.8,575.0 1026.0,586.2 Q1013.9,600.5 1036.3,606.0 Q1039.7,623.0 1053.5,624.1" fill="none" stroke="#555" stroke-width="0.8" transform="translate(1.9,0)"/><path d="M1050.0,452.0 C1046.7,451.2 1038.3,448.3 1030.0,447.0 C1021.7,445.7 1005.0,444.5 1000.0,444.0" fill="none" stroke="#1a1a1a" stroke-width="1.8"/><path d="M1052.0,470.0 C1049.2,469.7 1038.8,468.0 1035.0,468.0 C1031.2,468.0 1030.0,469.7 1029.0,470.0" fill="none" stroke="#1a1a1a" stroke-width="1.8"/><path d="M1054.0,486.0 C1051.7,485.7 1044.0,483.7 1040.0,484.0 C1036.0,484.3 1031.7,487.3 1030.0,488.0" fill="none" stroke="#1a1a1a" stroke-width="1.8"/><path d="M1055.0,500.0 C1051.7,498.3 1041.7,492.3 1035.0,490.0 C1028.3,487.7 1018.3,486.7 1015.0,486.0" fill="none" stroke="#1a1a1a" stroke-width="1.8"/><path d="M1056.0,515.0 C1053.3,515.8 1044.3,518.3 1040.0,520.0 C1035.7,521.7 1031.7,524.2 1030.0,525.0" fill="none" stroke="#1a1a1a" stroke-width="1.8"/><path d="M1056.0,535.0 C1053.3,534.5 1044.7,533.5 1040.0,532.0 C1035.3,530.5 1030.0,527.0 1028.0,526.0" fill="none" stroke="#1a1a1a" stroke-width="1.8"/><path d="M1056.0,548.0 C1053.3,548.3 1044.3,550.0 1040.0,550.0 C1035.7,550.0 1031.7,548.3 1030.0,548.0" fill="none" stroke="#1a1a1a" stroke-width="1.8"/><path d="M1057.0,560.0 C1054.2,560.0 1046.2,560.7 1040.0,560.0 C1033.8,559.3 1023.3,556.7 1020.0,556.0" fill="none" stroke="#1a1a1a" stroke-width="1.8"/><path d="M1057.0,575.0 C1054.2,575.5 1043.7,576.3 1040.0,578.0 C1036.3,579.7 1035.8,583.8 1035.0,585.0" fill="none" stroke="#1a1a1a" stroke-width="1.8"/><path d="M1056.0,590.0 C1053.3,590.0 1044.3,589.5 1040.0,590.0 C1035.7,590.5 1031.7,592.5 1030.0,593.0" fill="none" stroke="#1a1a1a" stroke-width="1.8"/><path d="M1055.0,605.0 C1052.8,604.8 1045.3,605.2 1042.0,604.0 C1038.7,602.8 1036.2,599.0 1035.0,598.0" fill="none" stroke="#1a1a1a" stroke-width="1.8"/><path d="M972.8,470.7 C975.7,471.6 984.0,474.8 990.0,476.0 C996.0,477.2 1005.8,477.7 1009.0,478.0" fill="none" stroke="#1a1a1a" stroke-width="1.8"/><path d="M986.6,519.0 C990.5,519.7 1001.9,522.8 1010.0,523.0 C1018.1,523.2 1030.8,520.5 1035.0,520.0" fill="none" stroke="#1a1a1a" stroke-width="1.8"/><path d="M1001.2,560.3 C1003.5,560.2 1010.2,560.7 1015.0,560.0 C1019.8,559.3 1027.5,556.7 1030.0,556.0" fill="none" stroke="#1a1a1a" stroke-width="1.8"/><path d="M1022.8,586.2 C1024.8,585.5 1030.5,583.7 1035.0,582.0 C1039.5,580.3 1047.5,577.0 1050.0,576.0" fill="none" stroke="#1a1a1a" stroke-width="1.8"/>
<path d="M1479.8,423.7 Q1491.5,449.6 1476.8,472.4 Q1493.5,487.7 1464.2,519.0 Q1482.4,527.0 1448.7,558.9 Q1465.1,567.4 1428.0,586.3 Q1439.8,597.3 1422.1,605.5 Q1420.7,613.7 1401.4,624.7 C1400.3,613.9 1395.9,580.8 1395.0,560.0 C1394.1,539.2 1394.9,520.0 1396.0,500.0 C1397.1,480.0 1400.5,449.9 1401.4,439.9 C1403.7,438.6 1409.6,434.5 1415.0,432.0 C1420.4,429.5 1425.8,427.0 1433.9,425.1 C1442.0,423.2 1455.8,420.9 1463.5,420.7 C1471.2,420.5 1477.1,423.2 1479.8,423.7 Z" fill="#ffffff" stroke="#1a1a1a" stroke-width="2.1" stroke-linejoin="round"/><path d="M1476.6,425.7 Q1488.3,449.6 1473.6,472.4 Q1490.3,487.7 1461.0,519.0 Q1479.2,527.0 1445.5,558.9 Q1461.9,567.4 1424.8,586.3 Q1436.6,597.3 1418.9,605.5 Q1417.5,613.7 1398.2,624.7" fill="none" stroke="#aaaaaa" stroke-width="3"/><path d="M1476.6,425.7 Q1488.3,449.6 1473.6,472.4 Q1490.3,487.7 1461.0,519.0 Q1479.2,527.0 1445.5,558.9 Q1461.9,567.4 1424.8,586.3 Q1436.6,597.3 1418.9,605.5 Q1417.5,613.7 1398.2,624.7" fill="none" stroke="#555" stroke-width="0.8" transform="translate(-1.9,0)"/><path d="M1401.0,444.0 C1404.2,443.0 1412.4,439.1 1420.0,438.0 C1427.6,436.9 1442.1,437.8 1446.5,437.7" fill="none" stroke="#1a1a1a" stroke-width="1.8"/><path d="M1402.0,451.7 C1404.2,451.4 1411.0,450.4 1415.0,450.0 C1419.0,449.6 1424.0,449.6 1425.8,449.5" fill="none" stroke="#1a1a1a" stroke-width="1.8"/><path d="M1400.0,463.6 C1402.0,463.2 1408.2,461.5 1412.0,461.0 C1415.8,460.5 1421.0,460.7 1422.8,460.6" fill="none" stroke="#1a1a1a" stroke-width="1.8"/><path d="M1398.0,474.7 C1401.7,473.9 1413.4,471.1 1420.0,470.0 C1426.6,468.9 1434.7,468.3 1437.6,468.0" fill="none" stroke="#1a1a1a" stroke-width="1.8"/><path d="M1396.0,478.4 C1398.3,479.0 1406.4,480.9 1410.0,482.0 C1413.6,483.1 1416.4,484.5 1417.7,485.0" fill="none" stroke="#1a1a1a" stroke-width="1.8"/><path d="M1395.0,496.0 C1397.5,496.2 1405.2,497.7 1410.0,497.0 C1414.8,496.3 1421.7,492.8 1424.0,492.0" fill="none" stroke="#1a1a1a" stroke-width="1.8"/><path d="M1394.0,510.0 C1396.7,510.2 1405.4,511.0 1410.0,511.0 C1414.6,511.0 1419.5,510.2 1421.4,510.0" fill="none" stroke="#1a1a1a" stroke-width="1.8"/><path d="M1416.2,519.8 C1420.2,520.2 1432.0,522.1 1440.0,522.0 C1448.0,521.9 1460.2,519.5 1464.2,519.0" fill="none" stroke="#1a1a1a" stroke-width="1.8"/><path d="M1443.5,479.1 C1446.2,478.8 1454.5,478.1 1460.0,477.0 C1465.5,475.9 1474.0,473.2 1476.8,472.4" fill="none" stroke="#1a1a1a" stroke-width="1.8"/><path d="M1393.0,534.5 C1395.0,533.9 1401.6,531.8 1405.0,531.0 C1408.4,530.2 1411.8,530.2 1413.2,530.0" fill="none" stroke="#1a1a1a" stroke-width="1.8"/><path d="M1393.0,534.5 C1396.7,534.9 1408.4,535.6 1415.0,537.0 C1421.6,538.4 1429.5,541.8 1432.4,542.7" fill="none" stroke="#1a1a1a" stroke-width="1.8"/><path d="M1393.0,551.0 C1395.5,551.8 1404.0,554.7 1408.0,556.0 C1412.0,557.3 1415.5,558.5 1417.0,559.0" fill="none" stroke="#1a1a1a" stroke-width="1.8"/><path d="M1427.3,553.8 C1429.1,554.3 1434.4,556.1 1438.0,557.0 C1441.6,557.9 1446.9,558.6 1448.7,558.9" fill="none" stroke="#1a1a1a" stroke-width="1.8"/><path d="M1393.0,563.0 C1394.2,563.0 1398.0,563.0 1400.0,563.0 C1402.0,563.0 1404.2,563.2 1405.0,563.3" fill="none" stroke="#1a1a1a" stroke-width="1.8"/><path d="M1393.0,566.0 C1395.0,566.7 1401.8,569.2 1405.0,570.0 C1408.2,570.8 1411.2,570.7 1412.5,570.8" fill="none" stroke="#1a1a1a" stroke-width="1.8"/><path d="M1394.0,580.4 C1395.8,580.5 1402.0,581.1 1405.0,581.0 C1408.0,580.9 1410.6,579.9 1411.7,579.7" fill="none" stroke="#1a1a1a" stroke-width="1.8"/><path d="M1401.4,593.7 C1403.2,594.8 1408.5,598.0 1412.0,600.0 C1415.5,602.0 1420.4,604.6 1422.1,605.5" fill="none" stroke="#1a1a1a" stroke-width="1.8"/>
<path d="M1078.0,440.0 C1081.7,444.3 1092.8,454.0 1100.0,466.0 C1107.2,478.0 1117.2,494.3 1121.0,512.0 C1124.8,529.7 1123.3,551.7 1123.0,572.0 C1122.7,592.3 1119.9,623.7 1119.3,634.0 L1101.0,634.0 C1101.5,628.3 1103.8,615.7 1104.0,600.0 C1104.2,584.3 1104.0,559.0 1102.0,540.0 C1100.0,521.0 1097.3,500.7 1092.0,486.0 C1086.7,471.3 1073.7,457.7 1070.0,452.0 Z" fill="#ffffff" stroke="#1a1a1a" stroke-width="2.0" stroke-linejoin="round"/><path d="M1075.3,444.1 C1077.1,446.5 1082.8,453.6 1086.5,458.5 C1090.1,463.3 1094.2,468.0 1097.1,473.2 C1100.1,478.4 1101.9,484.3 1104.1,490.0 C1106.3,495.6 1108.6,501.2 1110.3,507.0 C1112.0,512.8 1113.4,518.6 1114.2,524.6 C1115.0,530.6 1115.0,536.7 1115.2,542.8 C1115.5,548.9 1115.7,555.0 1115.9,561.1 C1116.0,567.1 1116.2,573.2 1116.1,579.3 C1116.1,585.4 1115.9,591.5 1115.6,597.6 C1115.3,603.6 1114.7,609.7 1114.3,615.8 C1113.9,621.9 1113.3,631.0 1113.1,634.0" fill="none" stroke="#333" stroke-width="1.4" stroke-dasharray="4,3"/><path d="M1072.7,447.9 C1074.4,450.3 1079.6,457.5 1083.0,462.3 C1086.4,467.2 1090.4,471.8 1093.1,477.0 C1095.8,482.1 1097.4,487.8 1099.2,493.4 C1101.0,499.0 1102.6,504.7 1103.9,510.4 C1105.3,516.1 1106.6,521.8 1107.5,527.7 C1108.3,533.5 1108.6,539.4 1109.0,545.3 C1109.3,551.2 1109.4,557.2 1109.5,563.1 C1109.7,569.0 1109.9,574.9 1110.0,580.8 C1110.0,586.7 1110.2,592.7 1110.0,598.6 C1109.7,604.5 1109.1,610.4 1108.6,616.3 C1108.1,622.2 1107.5,631.0 1107.2,634.0" fill="none" stroke="#333" stroke-width="1.4" stroke-dasharray="4,3"/>
<path d="M1081,483 C1086,520 1088,580 1090,634" fill="none" stroke="#1a1a1a" stroke-width="2.2"/>
<path d="M1378.8,437.0 C1374.0,444.2 1358.6,461.5 1350.0,480.0 C1341.4,498.5 1330.7,527.8 1327.0,547.8 C1323.3,567.8 1326.8,585.6 1328.0,600.0 C1329.2,614.4 1333.4,628.3 1334.5,634.0 L1350.0,634.0 C1349.2,628.3 1345.8,614.0 1345.0,600.0 C1344.2,586.0 1342.2,568.3 1345.0,550.0 C1347.8,531.7 1355.2,506.7 1362.0,490.0 C1368.8,473.3 1382.0,456.7 1386.0,450.0 Z" fill="#ffffff" stroke="#1a1a1a" stroke-width="2.0" stroke-linejoin="round"/><path d="M1381.2,441.4 C1379.6,444.0 1374.5,451.8 1371.2,457.0 C1367.8,462.2 1364.2,467.3 1361.1,472.6 C1357.9,477.9 1354.7,483.2 1352.3,488.9 C1349.9,494.5 1348.5,500.7 1346.7,506.6 C1344.8,512.5 1342.9,518.4 1341.0,524.3 C1339.1,530.2 1336.6,536.0 1335.3,541.9 C1334.0,547.9 1333.6,554.0 1333.3,560.2 C1333.0,566.3 1333.4,572.6 1333.5,578.8 C1333.6,585.0 1333.2,591.2 1333.7,597.4 C1334.2,603.5 1335.5,609.6 1336.5,615.7 C1337.5,621.8 1339.2,631.0 1339.8,634.0" fill="none" stroke="#333" stroke-width="1.4" stroke-dasharray="4,3"/><path d="M1383.6,445.6 C1382.0,448.1 1377.2,455.8 1374.0,460.9 C1370.8,466.0 1367.3,471.1 1364.4,476.3 C1361.4,481.5 1358.5,486.7 1356.2,492.3 C1354.0,497.8 1352.7,503.8 1351.0,509.6 C1349.2,515.3 1347.5,521.1 1345.7,526.9 C1344.0,532.7 1341.6,538.3 1340.5,544.2 C1339.3,550.1 1339.2,556.1 1338.9,562.1 C1338.7,568.0 1339.0,574.1 1339.1,580.2 C1339.1,586.2 1338.7,592.3 1339.2,598.3 C1339.7,604.3 1340.9,610.2 1341.8,616.1 C1342.7,622.1 1344.2,631.0 1344.7,634.0" fill="none" stroke="#333" stroke-width="1.4" stroke-dasharray="4,3"/>
<path d="M1369,481 C1360,520 1356,580 1359,634" fill="none" stroke="#1a1a1a" stroke-width="2.2"/>
<path d="M1060.0,632.2 C1070.0,632.8 1092.7,634.2 1120.0,635.5 C1147.3,636.8 1194.0,639.2 1224.0,640.0 C1254.0,640.8 1272.3,641.0 1300.0,640.2 C1327.7,639.4 1375.0,636.1 1390.0,635.3 L1390,655 C1375.0,655.6 1327.7,657.5 1300.0,658.7 C1272.3,659.9 1254.0,662.4 1224.0,662.0 C1194.0,661.6 1147.3,658.6 1120.0,656.6 C1092.7,654.6 1070.0,651.1 1060.0,650.0 Z" fill="#ffffff" stroke="#1a1a1a" stroke-width="2.0"/>
<path d="M1060.0,638.4 C1065.0,638.8 1080.0,639.9 1089.9,640.7 C1099.9,641.4 1109.9,642.3 1119.9,642.9 C1129.9,643.5 1139.9,643.8 1149.9,644.3 C1159.9,644.7 1169.9,645.2 1179.9,645.7 C1189.9,646.1 1199.9,646.7 1209.9,647.0 C1219.9,647.4 1229.9,647.5 1239.9,647.5 C1249.9,647.5 1260.0,647.2 1270.0,647.1 C1280.0,646.9 1290.0,647.0 1300.0,646.7 C1310.0,646.4 1320.0,645.7 1330.0,645.2 C1340.0,644.7 1350.0,644.2 1360.0,643.7 C1370.0,643.2 1385.0,642.4 1390.0,642.2" fill="none" stroke="#333" stroke-width="1.4" stroke-dasharray="4,3"/>
<path d="M1060.0,644.3 C1065.0,644.8 1079.9,646.1 1089.9,647.1 C1099.9,648.0 1109.8,649.1 1119.8,649.8 C1129.8,650.5 1139.8,650.8 1149.8,651.3 C1159.8,651.8 1169.8,652.3 1179.9,652.8 C1189.9,653.3 1199.9,654.0 1209.9,654.3 C1219.9,654.6 1229.9,654.6 1239.9,654.5 C1249.9,654.4 1259.9,653.9 1269.9,653.6 C1279.9,653.4 1289.9,653.2 1299.9,652.8 C1310.0,652.4 1320.0,651.9 1330.0,651.4 C1340.0,651.0 1350.0,650.5 1360.0,650.1 C1370.0,649.6 1385.0,648.9 1390.0,648.7" fill="none" stroke="#333" stroke-width="1.4" stroke-dasharray="4,3"/>
<path d="M1052.0,445.0 C1052.8,454.2 1056.3,480.8 1057.0,500.0 C1057.7,519.2 1057.0,538.9 1056.0,560.0 C1055.0,581.1 1055.0,607.8 1050.8,626.7 C1046.6,645.6 1040.9,657.4 1030.9,673.2 C1020.9,689.0 1005.9,707.3 991.0,721.4 C976.1,735.5 949.8,751.9 941.6,758.0 L945.5,783.0 C955.3,777.3 985.9,766.6 1004.3,748.6 C1022.7,730.6 1044.5,694.8 1056.0,675.0 C1067.5,655.2 1069.2,645.8 1073.0,630.0 C1076.8,614.2 1077.2,601.2 1078.5,580.0 C1079.8,558.8 1080.6,526.4 1080.5,503.0 C1080.4,479.6 1078.4,450.2 1078.0,439.7 Z" fill="#ffffff" stroke="#1a1a1a" stroke-width="2.0" stroke-linejoin="round"/><path d="M1060.8,443.2 C1061.2,448.8 1062.6,465.6 1063.3,476.8 C1063.9,488.0 1064.7,499.2 1064.8,510.4 C1065.0,521.6 1064.5,532.8 1064.1,544.0 C1063.8,555.3 1063.5,566.5 1062.8,577.7 C1062.0,588.9 1061.5,600.2 1059.8,611.2 C1058.0,622.2 1055.6,633.1 1052.0,643.6 C1048.4,654.1 1043.8,664.6 1038.2,674.2 C1032.6,683.8 1025.2,692.3 1018.4,701.3 C1011.7,710.2 1005.7,720.1 997.7,727.8 C989.8,735.5 979.8,741.1 970.7,747.6 C961.6,754.0 947.6,763.3 942.9,766.5" fill="none" stroke="#333" stroke-width="1.4" stroke-dasharray="4,3"/><path d="M1069.2,441.5 C1069.5,447.3 1070.6,464.7 1071.1,476.3 C1071.6,487.9 1072.2,499.5 1072.3,511.1 C1072.4,522.7 1071.9,534.3 1071.5,545.9 C1071.1,557.5 1071.0,569.1 1070.2,580.7 C1069.4,592.3 1068.8,604.0 1066.7,615.4 C1064.7,626.7 1061.7,637.9 1057.8,648.7 C1053.8,659.5 1048.8,670.1 1043.0,680.0 C1037.2,690.0 1029.6,698.9 1022.8,708.3 C1015.9,717.7 1010.2,728.4 1002.0,736.3 C993.8,744.2 983.2,749.5 973.6,755.9 C963.9,762.3 949.1,771.4 944.2,774.5" fill="none" stroke="#333" stroke-width="1.4" stroke-dasharray="4,3"/>
<path d="M1052,445 C1052,430 1078,426 1078,439.7" fill="#fff" stroke="#1a1a1a" stroke-width="2.2"/>
<path d="M1374.0,439.4 C1373.2,457.5 1368.6,515.4 1369.0,547.8 C1369.4,580.2 1370.2,611.4 1376.4,634.0 C1382.6,656.6 1394.1,667.7 1406.0,683.3 C1417.9,698.9 1430.8,711.7 1447.8,727.7 C1464.8,743.7 1498.1,770.8 1508.2,779.4 L1510.6,754.8 C1503.0,748.2 1479.6,729.3 1465.0,715.3 C1450.4,701.3 1434.1,686.6 1423.0,671.0 C1411.9,655.4 1403.0,642.2 1398.5,621.7 C1394.0,601.2 1395.6,578.2 1396.0,547.8 C1396.4,517.4 1400.2,457.5 1401.0,439.4 Z" fill="#ffffff" stroke="#1a1a1a" stroke-width="2.0" stroke-linejoin="round"/><path d="M1383.2,439.4 C1382.9,445.2 1382.1,462.5 1381.6,474.0 C1381.0,485.6 1380.5,497.1 1380.0,508.7 C1379.5,520.2 1378.3,531.8 1378.4,543.3 C1378.5,554.8 1379.6,566.4 1380.4,577.9 C1381.1,589.4 1380.7,601.3 1382.8,612.5 C1384.8,623.6 1388.0,634.4 1392.5,644.8 C1397.0,655.2 1402.9,665.6 1409.6,675.0 C1416.2,684.3 1424.5,692.5 1432.3,700.9 C1440.2,709.4 1448.1,717.8 1456.5,725.7 C1464.9,733.6 1474.0,740.9 1482.7,748.4 C1491.5,756.0 1504.6,767.3 1509.0,771.0" fill="none" stroke="#333" stroke-width="1.4" stroke-dasharray="4,3"/><path d="M1391.8,439.4 C1391.6,445.0 1390.8,461.8 1390.3,473.0 C1389.8,484.3 1389.2,495.5 1388.7,506.7 C1388.2,517.9 1387.2,529.1 1387.2,540.3 C1387.1,551.5 1387.8,562.7 1388.3,574.0 C1388.8,585.2 1388.4,596.7 1390.1,607.6 C1391.7,618.5 1394.3,629.1 1398.3,639.4 C1402.3,649.6 1407.9,659.9 1414.1,669.1 C1420.3,678.3 1428.2,686.4 1435.7,694.7 C1443.1,703.0 1450.9,711.2 1459.0,718.9 C1467.1,726.7 1475.8,733.8 1484.3,741.2 C1492.7,748.5 1505.5,759.5 1509.8,763.2" fill="none" stroke="#333" stroke-width="1.4" stroke-dasharray="4,3"/>
<path d="M1374,439.4 C1374,426 1401,426 1401,439.4" fill="#fff" stroke="#1a1a1a" stroke-width="2.2"/>
<line x1="747.2" y1="386.6" x2="1015.9" y2="437.0" stroke="#333333" stroke-width="3.2"/><path d="M720.7,381.6 L744.9,398.9 L749.5,374.3 Z" fill="#333333"/>
<line x1="739.7" y1="621.6" x2="1068.6" y2="646.6" stroke="#333333" stroke-width="3.2"/><path d="M712.8,619.6 L738.8,634.1 L740.7,609.2 Z" fill="#333333"/>
<line x1="738.0" y1="629.2" x2="1001.5" y2="729.2" stroke="#333333" stroke-width="3.2"/><path d="M712.8,619.6 L733.6,640.9 L742.5,617.5 Z" fill="#333333"/>
<line x1="779.4" y1="830.7" x2="944.0" y2="839.5" stroke="#333333" stroke-width="3.2"/><path d="M752.4,829.3 L778.7,843.2 L780.0,818.3 Z" fill="#333333"/>
<line x1="791.8" y1="1040.7" x2="1065.0" y2="1009.0" stroke="#333333" stroke-width="3.2"/><path d="M765.0,1043.8 L793.3,1053.1 L790.4,1028.3 Z" fill="#333333"/>
<line x1="1224.4" y1="503.8" x2="1224.4" y2="641.3" stroke="#333333" stroke-width="3.2"/><path d="M1224.4,476.8 L1211.9,503.8 L1236.9,503.8 Z" fill="#333333"/>
<line x1="1621.4" y1="972.9" x2="1350.0" y2="880.5" stroke="#333333" stroke-width="3.2"/><path d="M1647.0,981.6 L1625.5,961.1 L1617.4,984.7 Z" fill="#333333"/>
<line x1="679.8" y1="1440.5" x2="791.5" y2="1533.3" stroke="#333333" stroke-width="3.2"/><path d="M659.0,1423.3 L671.8,1450.2 L687.8,1430.9 Z" fill="#333333"/>
<line x1="573.2" y1="1566.3" x2="722.3" y2="1508.8" stroke="#333333" stroke-width="3.2"/><path d="M548.0,1576.0 L577.7,1578.0 L568.7,1554.6 Z" fill="#333333"/>
<line x1="1901.1" y1="1566.8" x2="1742.7" y2="1555.4" stroke="#333333" stroke-width="3.2"/><path d="M1928.0,1568.7 L1902.0,1554.3 L1900.2,1579.2 Z" fill="#333333"/>
<rect x="2.5" y="18" width="2429" height="2344.5" fill="none" stroke="#333333" stroke-width="4.6"/>
<rect x="2431.5" y="3" width="877" height="2344" fill="#fff" stroke="#333333" stroke-width="4.6"/>
<line x1="2431.5" y1="362.5" x2="3308.5" y2="362.5" stroke="#333333" stroke-width="4.6"/>
<line x1="2431.5" y1="907" x2="3308.5" y2="907" stroke="#333333" stroke-width="4.6"/>
<line x1="2431.5" y1="1234.5" x2="3308.5" y2="1234.5" stroke="#333333" stroke-width="4.6"/>
<line x1="2431.5" y1="1629.5" x2="3308.5" y2="1629.5" stroke="#333333" stroke-width="4.6"/>
<line x1="2431.5" y1="2083.5" x2="3308.5" y2="2083.5" stroke="#333333" stroke-width="4.6"/>
<rect x="2759" y="460" width="223" height="280" fill="#F9CED9"/>
<rect x="2555.4" y="759" width="629.2" height="140.6" fill="none" stroke="#E5323B" stroke-width="4.7"/>
<rect x="63.7" y="476.3" width="823.3" height="3" fill="#E5323B"/>
<rect x="1740" y="152.5" width="572" height="3" fill="#333333"/>
<rect x="1844.7" y="217.5" width="363.29999999999995" height="3" fill="#333333"/>
<rect x="2796.6" y="54.5" width="147.0999999999999" height="2" fill="#E5323B"/>
<rect x="2752" y="407.0" width="236.69999999999982" height="2" fill="#E5323B"/>
<rect x="2689.6" y="951.0" width="361.3000000000002" height="2" fill="#E5323B"/>
<rect x="2553" y="995.0" width="645" height="2" fill="#E5323B"/>
<rect x="2619" y="1040.0" width="502.4000000000001" height="2" fill="#E5323B"/>
<rect x="2811" y="1279.0" width="118" height="2" fill="#E5323B"/>
<rect x="2774.6" y="1684.0" width="190.9000000000001" height="2" fill="#E5323B"/>
<rect x="2473" y="1106.2" width="795.6" height="130" fill="none" stroke="#333333" stroke-width="2.2"/>
<path d="M2493.1,1118.9 L2509.5,1196.4 L2583.3,1196.4 L2600,1118.9" stroke="#333333" fill="none" stroke-width="4.4" stroke-linecap="round" stroke-linejoin="round"/>
<path d="M2498.8,1138.8 Q2504,1131 2510,1131.5 Q2516,1132 2521.5,1140.5 Q2527,1146 2534,1131.5 Q2540,1126 2546,1140.5 Q2552,1146 2558.3,1131.5 Q2565,1126 2571.6,1140.5 Q2577,1146 2583.9,1131.5 Q2590,1128 2594.3,1136" stroke="#333333" fill="none" stroke-width="4.2" stroke-linecap="round"/>
<line x1="2510.1" y1="1211.2" x2="2585.2" y2="1211.2" stroke="#333333" fill="none" stroke-width="5" stroke-linecap="round"/>
<line x1="2510.1" y1="1221.6" x2="2585.2" y2="1221.6" stroke="#333333" fill="none" stroke-width="5" stroke-linecap="round"/>
<path d="M2682.8,1113.2 L2627,1217.5 L2739.5,1217.5 Z" stroke="#333333" fill="none" stroke-width="4.8" stroke-linejoin="miter"/>
<path d="M2615,1145.4 L2750.3,1216.9 M2615,1216.9 L2750.3,1145.4" stroke="#2a2a2a" stroke-width="6" stroke-linecap="round"/>
<rect x="2784.6" y="1130.6" width="79" height="79.7" stroke="#333333" fill="none" stroke-width="4.6"/>
<circle cx="2824" cy="1170.3" r="35.5" stroke="#333333" fill="none" stroke-width="4.6"/>
<path d="M2768.2,1112.3 L2880.8,1228.6 M2880.3,1113.2 L2768.2,1228.6" stroke="#333333" fill="none" stroke-width="5.2"/>
<rect x="2901.7" y="1125.1" width="91.8" height="92.6" stroke="#333333" fill="none" stroke-width="5.6"/>
<line x1="2947.7" y1="1143.9" x2="2947.7" y2="1198.7" stroke="#333333" fill="none" stroke-width="5.5"/>
<path d="M3049.2,1136.4 L3101.3,1136.4 L3127.7,1213" stroke="#333333" fill="none" stroke-width="6.4"/>
<path d="M3028.4,1216.2 L3130,1216.2" stroke="#333333" fill="none" stroke-width="6.6"/>
<path d="M3114.5,1179.4 L3051,1179.4 Q3036,1181 3031.3,1213.5" stroke="#333333" fill="none" stroke-width="6"/>
<path d="M3020.9,1136.9 L3137.2,1211.6 M3020.9,1211.6 L3137.2,1136.9" stroke="#333333" fill="none" stroke-width="6.4" stroke-linecap="round"/>
<circle cx="3203.4" cy="1173.8" r="43.3" stroke="#333333" fill="none" stroke-width="6"/>
<path d="M3160.8,1131.2 L3246.9,1221 M3246.9,1131.2 L3160.8,1221" stroke="#333333" fill="none" stroke-width="6.5"/>
<circle cx="2041.5" cy="285.5" r="14.8" fill="#FF5FD6"/><circle cx="2187.4" cy="285.5" r="14.8" fill="#FF5FD6"/>
<path d="M2047.5,298.3 L2083,380.1 M2183.5,298.3 L2151,384" stroke="#111" stroke-width="3" fill="none"/>
<path d="M2096,553 C2060,525 2035,500 2035,457 C2035,410 2070,378.7 2112.5,378.7 C2155,378.7 2190,410 2190,457 C2190,500 2168,527 2134,553" stroke="#111" stroke-width="5.2" fill="none" stroke-linecap="round"/>
<defs><pattern id="hdots" patternUnits="userSpaceOnUse" x="2714" y="1738" width="30.5" height="36"><rect width="30.5" height="36" fill="#EED680"/><circle cx="8" cy="8" r="6.5" fill="#E9E6BE"/><circle cx="23.2" cy="26" r="6.5" fill="#E9E6BE"/></pattern></defs>
<path d="M2859,1764.5 C2840,1735 2815,1721.4 2788,1721.4 C2735,1721.4 2699,1765 2699,1809.6 C2699,1870 2750,1925 2859,2012.5 C2968,1925 3020,1870 3020,1809.6 C3020,1765 2985,1721.4 2933,1721.4 C2905,1721.4 2878,1735 2859,1764.5 Z" fill="#fff" stroke="#2a2a2a" stroke-width="3.8"/>
<path d="M2859,1774.3 C2842,1746 2818,1734 2790,1734 C2745,1734 2714.7,1772 2714.7,1811 C2714.7,1868 2762,1918 2859,1995.7 C2956,1918 3004.6,1868 3004.6,1811 C3004.6,1772 2975,1734 2930,1734 C2902,1734 2877,1746 2859,1774.3 Z" fill="url(#hdots)"/>
<text x="2803.4" y="1817" font-family="Liberation Sans" font-weight="bold" font-size="26" textLength="111" lengthAdjust="spacingAndGlyphs" fill="#C8145C" stroke="#C8145C" stroke-width="1.6" stroke-linejoin="round">VEM COM</text>
<text x="2774" y="1880.7" font-family="Liberation Sans" font-weight="bold" font-size="62" textLength="171" lengthAdjust="spacingAndGlyphs" fill="#C8145C" stroke="#C8145C" stroke-width="2.6" stroke-linejoin="round">BRINDE</text>
<text x="2795" y="1918.6" font-family="Liberation Sans" font-weight="bold" font-size="26" textLength="132" lengthAdjust="spacingAndGlyphs" fill="#C8145C" stroke="#C8145C" stroke-width="1.6" stroke-linejoin="round">PARA VOCÊ</text>
</svg>
<div class="t" style="left:59.8px;top:293.0px;font-size:58.55px;line-height:58.55px;color:#333333">Babado em molde franzido e</div>
<div class="t" style="left:62.2px;top:358.0px;font-size:57.87px;line-height:57.87px;color:#333333">embutido nas alças c/</div>
<div class="t" style="left:59.6px;top:423.0px;font-size:58.51px;line-height:58.51px;font-weight:bold;color:#E5323B">FRU-FRU LUREX FURTA COR</div>
<div class="t" style="left:86.8px;top:601.0px;font-size:58.83px;line-height:58.83px;color:#333333">Decote e alças c/ friso</div>
<div class="t" style="left:89.2px;top:667.0px;font-size:58.49px;line-height:58.49px;color:#333333">3 cm 1 vira 2 agulhas juntas</div>
<div class="t" style="left:184.5px;top:795.0px;font-size:58.22px;line-height:58.22px;color:#333333">Arremate nas laterais</div>
<div class="t" style="left:264.8px;top:1025.0px;font-size:58.88px;line-height:58.88px;color:#333333">Recorte c/ franzido</div>
<div class="t" style="left:59.3px;top:1300.0px;font-size:58.85px;line-height:58.85px;color:#333333">Forro c/ bainha 1,5 cm</div>
<div class="t" style="left:61.1px;top:1366.0px;font-size:58.58px;line-height:58.58px;color:#333333">2 agulhas juntas em anel</div>
<div class="t" style="left:104.7px;top:1487.0px;font-size:58.05px;line-height:58.05px;color:#333333">Saia Externa</div>
<div class="t" style="left:78.8px;top:1552.0px;font-size:58.62px;line-height:58.62px;color:#333333">em tule branco</div>
<div class="t" style="left:139.3px;top:1617.0px;font-size:58.53px;line-height:58.53px;color:#333333">sublimado</div>
<div class="t" style="left:65.4px;top:1682.0px;font-size:58.76px;line-height:58.76px;font-weight:bold;color:#333333">SUBLIMAÇÃO:</div>
<div class="t" style="left:77.5px;top:1747.0px;font-size:58.81px;line-height:58.81px;color:#333333">Cód. Desenho:</div>
<div class="t" style="left:127.7px;top:1814.0px;font-size:57.25px;line-height:57.25px;color:#333333">Arco-íris 01</div>
<div class="t" style="left:840.2px;top:1903.0px;font-size:75.67px;line-height:75.67px;font-weight:bold;color:#333333">Ref: 044536 - Pedido:</div>
<div class="t" style="left:700.9px;top:1985.0px;font-size:74.92px;line-height:74.92px;font-weight:bold;color:#333333">Vestido Sereia - Tam 01 ao 03</div>
<div class="t" style="left:373.5px;top:2070.0px;font-size:75.12px;line-height:75.12px;font-weight:bold;color:#333333">Frente / Costas / Babado / Friso: Cotton Branco</div>
<div class="t" style="left:427.5px;top:2154.0px;font-size:74.95px;line-height:74.95px;font-weight:bold;color:#333333">Saia Interna: Meia Malha PA Rosa Neon 8894</div>
<div class="t" style="left:82.9px;top:2239.0px;font-size:74.99px;line-height:74.99px;font-weight:bold;color:#333333">Saia Externa: Tule YONA Branco P/ Sublimar - Cód. LX: 1542004</div>
<div class="t" style="left:1738.2px;top:99.0px;font-size:58.55px;line-height:58.55px;font-weight:bold;color:#333333">ACOMPANHA TIARA</div>
<div class="t" style="left:1840.6px;top:164.0px;font-size:58.98px;line-height:58.98px;font-weight:bold;color:#333333">BORBOLETA</div>
<div class="t" style="left:1872.4px;top:585.0px;font-size:58.00px;line-height:58.00px;font-weight:bold;color:#333333">Tiara Borboleta</div>
<div class="t" style="left:1896.0px;top:651.0px;font-size:58.47px;line-height:58.47px;color:#333333">Forn: NA 9616</div>
<div class="t" style="left:1854.1px;top:715.0px;font-size:58.46px;line-height:58.46px;color:#333333">Cód. Lx: 2015156</div>
<div class="t" style="left:1797.8px;top:780.0px;font-size:58.49px;line-height:58.49px;color:#333333">Cor: Preto/Rosa Neon</div>
<div class="t" style="left:1836.8px;top:847.0px;font-size:57.91px;line-height:57.91px;color:#333333">1 unidade por peça</div>
<div class="t" style="left:1105.0px;top:350.0px;font-size:57.88px;line-height:57.88px;color:#333333">Etiqueta</div>
<div class="t" style="left:1106.3px;top:416.0px;font-size:57.59px;line-height:57.59px;color:#333333">embutida</div>
<div class="t" style="left:1670.1px;top:967.0px;font-size:58.69px;line-height:58.69px;color:#333333">Silk c/ glitter</div>
<div class="t" style="left:1721.7px;top:1031.0px;font-size:58.63px;line-height:58.63px;color:#333333">furta cor</div>
<div class="t" style="left:1933.0px;top:1538.0px;font-size:58.64px;line-height:58.64px;color:#333333">Saia c/ corte à fio</div>
<div class="t" style="left:2796.1px;top:18.0px;font-size:39.80px;line-height:39.80px;font-weight:bold;color:#E5323B">SELOS:</div>
<div class="t" style="left:2750.9px;top:370.0px;font-size:39.80px;line-height:39.80px;font-weight:bold;color:#E5323B">ETIQUETAS:</div>
<div class="t" style="left:2706.1px;top:424.0px;font-size:31.00px;line-height:31.00px;font-weight:bold;color:#111111">ETIQUETA EMBUTIDA</div>
<div class="t" style="left:2774.5px;top:563.0px;font-size:44.30px;line-height:44.30px;color:#ffffff">AVENIDA</div>
<div class="t" style="left:2825.2px;top:614.0px;font-size:40.00px;line-height:40.00px;color:#ffffff">baby</div>
<div class="t" style="left:2855.3px;top:676.0px;font-size:58.00px;line-height:58.00px;color:#ffffff">2</div>
<div class="t" style="left:2563.2px;top:771.0px;font-size:39.20px;line-height:39.20px;font-weight:bold;color:#E5323B">ETIQUETA DE COMPOSIÇÃO NA</div>
<div class="t" style="left:2566.6px;top:815.0px;font-size:39.20px;line-height:39.20px;font-weight:bold;color:#E5323B">LATERAL ESQUERDA DE QUEM</div>
<div class="t" style="left:2805.3px;top:858.0px;font-size:39.20px;line-height:39.20px;font-weight:bold;color:#E5323B">VESTE</div>
<div class="t" style="left:2687.1px;top:915.0px;font-size:39.80px;line-height:39.80px;font-weight:bold;color:#E5323B">INFORMAÇÕES DE</div>
<div class="t" style="left:2549.2px;top:960.0px;font-size:39.80px;line-height:39.80px;font-weight:bold;color:#E5323B">ETIQUETA DE COMPOSIÇÃO C/ A</div>
<div class="t" style="left:2616.7px;top:1004.0px;font-size:39.80px;line-height:39.80px;font-weight:bold;color:#E5323B">INSTRUÇÃO DE LAVAGEM</div>
<div class="t" style="left:2498.3px;top:1056.0px;font-size:45.20px;line-height:45.20px;font-weight:bold;color:#333333">NÃO PASSAR SOBRE A ESTAMPA</div>
<div class="t" style="left:2811.3px;top:1243.0px;font-size:39.80px;line-height:39.80px;font-weight:bold;color:#E5323B">TAGS:</div>
<div class="t" style="left:2445.7px;top:1587.0px;font-size:41.40px;line-height:41.40px;font-weight:bold;color:#E5323B">CÓD. LX:</div>
<div class="t" style="left:2775.1px;top:1649.0px;font-size:39.80px;line-height:39.80px;font-weight:bold;color:#E5323B">ADESIVO:</div>
<div class="t" style="left:2444.7px;top:2034.0px;font-size:41.40px;line-height:41.40px;font-weight:bold;color:#E5323B">CÓD. LX: 2014527</div>
<div class="t" style="left:2445.4px;top:2095.0px;font-size:40.50px;line-height:40.50px;font-weight:bold;color:#E5323B">CABIDE - CÓD. LX:</div>
<div class="t" style="left:2444.2px;top:2142.0px;font-size:40.50px;line-height:40.50px;font-weight:bold;color:#E5323B">FOTO:</div>
<div class="t" style="left:2524px;top:1144.3px;font-size:38px;line-height:38px;color:#333333">40</div>
</body></html>
